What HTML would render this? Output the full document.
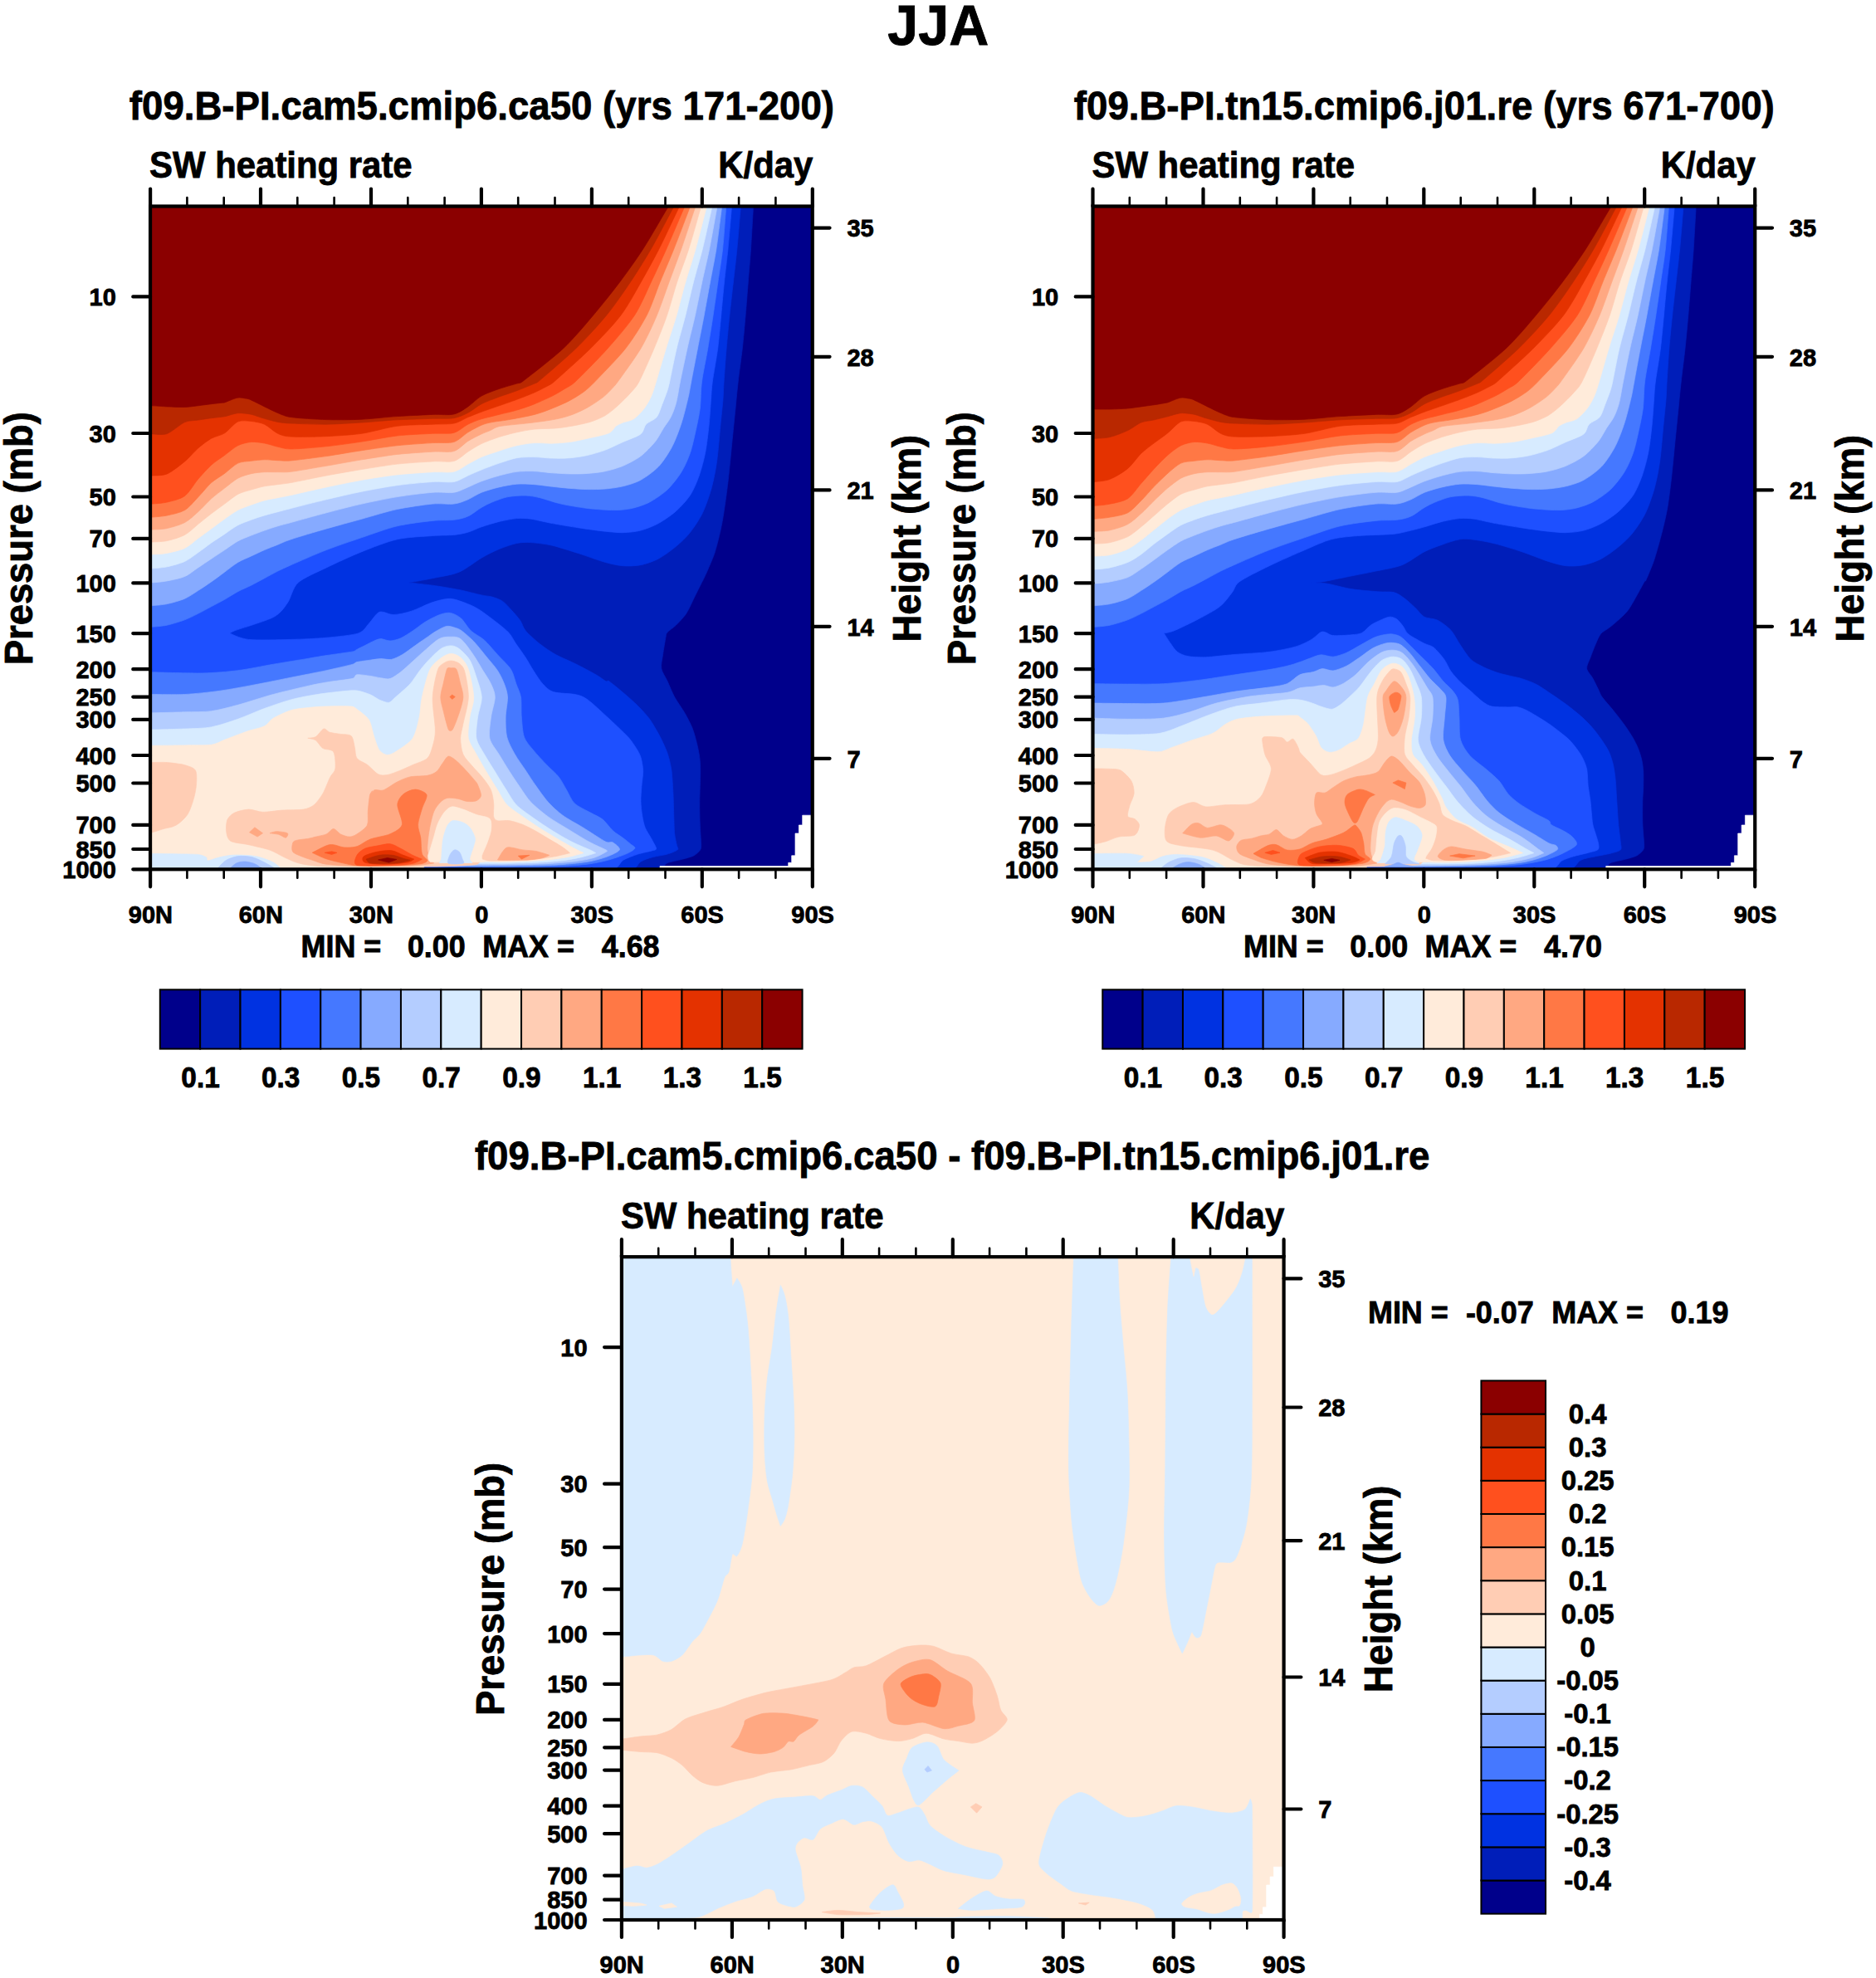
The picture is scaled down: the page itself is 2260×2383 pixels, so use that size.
<!DOCTYPE html>
<html><head><meta charset="utf-8"><title>JJA SW heating rate</title>
<style>html,body{margin:0;padding:0;background:#fff}svg{display:block}</style></head>
<body><svg width="2260" height="2383" viewBox="0 0 2260 2383">
<rect width="2260" height="2383" fill="#fff"/>
<clipPath id="c1"><rect x="181.05" y="248.5" width="797.7" height="798.8"/></clipPath>
<g clip-path="url(#c1)">
<path d="M176.0 243.0 L983.0 243.0 L983.0 1051.0 L176.0 1051.0Z" fill="#00008B" stroke="#00008B" stroke-width="0.7" stroke-linejoin="round"/>
<path d="M176.0 243.0 L907.9 243.0 C907.9 243.0 907.4 250.2 907.1 256.0 C906.6 264.1 905.3 288.1 904.5 300.0 C903.7 311.9 902.2 328.7 901.3 340.0 C900.4 351.3 899.1 368.7 898.1 380.0 C897.1 391.3 895.6 408.7 894.3 420.0 C893.0 431.3 890.3 449.8 889.2 460.0 C888.0 470.2 887.0 481.4 886.0 492.0 C884.9 502.6 882.9 522.5 881.7 534.6 C880.5 546.7 878.6 566.7 877.4 577.3 C876.2 587.8 874.4 601.1 873.2 609.3 C872.0 617.4 870.6 627.0 868.9 634.8 C867.3 642.7 863.7 657.4 861.4 664.7 C859.2 671.9 855.0 681.0 852.9 686.0 C850.8 691.0 847.5 697.9 846.5 699.9 C846.5 700.0 846.4 699.9 846.3 700.0 C845.1 702.5 840.3 712.2 837.5 717.7 C834.7 723.2 830.1 733.9 826.9 738.9 C823.6 743.9 817.7 749.8 814.5 753.1 C811.2 756.3 805.6 759.9 803.9 761.9 C802.2 763.8 802.6 764.8 802.1 767.2 C801.4 771.0 799.3 783.1 798.6 788.5 C797.8 793.9 796.0 800.8 796.8 805.3 C797.5 809.8 801.6 815.4 803.9 820.3 C806.1 825.2 809.7 834.3 812.7 839.8 C815.7 845.3 822.1 854.0 825.1 859.3 C828.1 864.5 831.9 871.9 834.0 877.0 C836.0 882.0 838.0 889.6 839.3 894.7 C840.5 899.7 842.2 907.3 842.8 912.4 C843.4 917.4 843.7 922.5 843.7 930.0 C843.7 937.6 842.9 956.7 842.8 965.4 C842.7 974.2 842.9 984.7 843.2 992.0 C843.4 999.3 844.5 1012.2 844.6 1016.8 C844.6 1020.0 844.9 1021.8 843.7 1023.8 C842.4 1025.8 838.9 1029.3 835.7 1030.9 C832.6 1032.5 826.1 1034.1 821.6 1035.3 C817.1 1036.6 807.6 1038.1 803.9 1039.8 C800.1 1041.4 800.1 1046.8 795.0 1046.8 C706.1 1048.4 176.0 1051.0 176.0 1051.0 L176.0 243.0Z" fill="#001EB9" stroke="#001EB9" stroke-width="0.7" stroke-linejoin="round"/>
<path d="M176.0 243.0 L892.8 243.0 C892.8 243.0 892.2 250.2 891.7 256.0 C891.0 264.1 889.1 288.1 887.9 300.0 C886.7 311.9 884.7 328.7 883.4 340.0 C882.1 351.3 880.1 368.7 878.9 380.0 C877.7 391.3 876.1 408.7 875.1 420.0 C874.1 431.3 872.7 451.3 872.1 460.0 C871.5 468.7 871.6 473.8 871.0 481.3 C870.4 488.9 868.9 502.7 867.8 513.3 C866.8 523.9 865.1 545.4 863.6 555.9 C862.1 566.5 859.6 579.2 857.2 587.9 C854.8 596.7 850.1 610.2 846.5 617.8 C842.9 625.3 836.1 635.5 831.6 641.2 C827.1 647.0 820.0 653.8 814.5 658.3 C809.1 662.8 799.3 670.0 793.2 673.2 C787.2 676.4 777.9 679.5 771.9 680.7 C765.9 681.9 756.6 682.2 750.6 681.7 C744.5 681.3 736.8 679.6 729.3 677.5 C721.7 675.4 706.3 669.7 697.3 666.8 C688.2 664.0 673.4 659.1 665.3 657.2 C657.1 655.4 645.7 654.0 639.7 653.6 C633.7 653.2 628.1 653.3 622.6 654.5 C617.2 655.6 607.4 659.0 601.3 661.5 C595.3 664.0 586.8 668.2 580.0 672.2 C573.2 676.1 561.5 685.7 553.1 689.2 C544.8 692.7 529.8 694.9 521.2 696.7 C512.5 698.5 492.4 702.0 492.4 702.0 C492.4 702.0 512.5 704.0 521.2 705.2 C529.8 706.4 544.8 708.9 553.1 710.5 C561.5 712.2 574.4 715.7 580.0 716.9 C585.6 718.1 589.2 718.0 592.8 719.1 C596.4 720.1 602.3 722.1 605.6 724.4 C608.9 726.7 613.2 731.7 616.2 735.1 C619.3 738.4 624.5 744.3 626.9 747.8 C629.3 751.4 629.9 756.0 633.3 760.0 C636.7 764.0 645.5 771.9 650.7 776.0 C655.9 780.1 663.8 785.4 669.9 788.8 C676.0 792.2 687.1 796.6 693.9 800.0 C700.7 803.4 712.7 809.8 717.9 812.8 C723.0 815.7 727.9 819.7 730.0 820.8 C731.3 821.4 731.9 819.6 733.1 820.3 C736.0 822.3 745.8 830.2 750.8 834.5 C755.8 838.8 764.0 845.9 768.5 850.4 C773.0 854.9 779.1 861.6 782.6 866.3 C786.1 871.1 790.7 879.5 793.3 884.0 C795.8 888.6 798.6 894.2 800.3 898.2 C802.1 902.2 804.4 907.8 805.6 912.4 C806.9 916.9 808.4 923.8 809.2 930.0 C809.9 936.3 810.6 949.1 811.0 956.6 C811.3 964.1 811.6 976.4 811.8 983.1 C812.1 989.9 812.2 999.4 812.7 1004.4 C813.2 1009.4 814.9 1015.8 815.4 1018.5 C815.8 1020.9 817.9 1022.3 816.3 1023.8 C814.6 1025.3 808.1 1027.9 803.9 1029.1 C799.6 1030.4 790.7 1031.4 786.2 1032.7 C781.7 1033.9 775.5 1036.0 772.0 1038.0 C768.5 1040.0 767.6 1046.7 761.4 1046.8 C677.0 1048.7 176.0 1051.0 176.0 1051.0 L176.0 243.0Z" fill="#0032E1" stroke="#0032E1" stroke-width="0.7" stroke-linejoin="round"/>
<path d="M176.0 243.0 L882.1 243.0 C882.1 243.0 881.4 250.2 880.9 256.0 C880.2 264.1 878.2 288.1 877.0 300.0 C875.8 311.9 873.7 328.7 872.5 340.0 C871.3 351.3 869.8 368.7 868.7 380.0 C867.6 391.3 866.2 408.7 864.7 420.0 C863.2 431.3 859.4 451.3 858.3 460.0 C857.1 468.7 857.1 473.8 856.5 481.3 C855.9 488.9 855.0 504.2 854.0 513.3 C853.0 522.4 851.4 536.8 849.7 545.3 C848.1 553.7 844.8 565.8 842.3 573.0 C839.7 580.3 835.5 590.4 831.6 596.5 C827.7 602.5 820.0 610.8 814.5 615.7 C809.1 620.5 799.3 627.3 793.2 630.6 C787.2 633.9 777.9 637.5 771.9 639.1 C765.9 640.7 756.6 641.5 750.6 641.7 C744.5 641.8 736.8 641.0 729.3 640.2 C721.7 639.4 706.3 637.3 697.3 635.9 C688.2 634.5 673.4 632.1 665.3 630.6 C657.1 629.1 645.7 626.1 639.7 625.2 C633.7 624.4 628.1 624.2 622.6 624.6 C617.2 625.1 607.4 627.0 601.3 628.4 C595.3 629.9 585.3 633.0 580.0 634.8 C574.7 636.7 568.5 639.9 563.8 641.2 C559.1 642.6 552.8 643.8 546.7 644.4 C540.7 645.0 530.8 644.7 521.2 645.5 C511.5 646.3 490.6 647.0 478.5 649.8 C466.4 652.5 447.9 659.9 435.9 664.7 C423.8 669.5 404.1 678.6 393.2 683.9 C382.3 689.2 365.7 696.0 359.1 702.0 C352.5 708.0 350.5 720.6 346.3 726.5 C342.1 732.4 338.3 738.8 329.3 743.6 C320.2 748.3 289.7 757.3 282.3 760.0 C279.8 760.9 277.0 762.9 277.0 762.9 C277.0 762.9 289.0 769.3 299.4 770.4 C309.8 771.4 337.3 770.7 350.6 770.4 C363.9 770.1 381.7 769.3 393.2 768.2 C404.7 767.2 424.3 765.3 431.6 762.9 C438.8 760.5 440.8 754.8 444.4 751.2 C448.0 747.5 453.0 738.8 457.2 737.3 C461.4 735.8 468.8 740.7 474.2 740.5 C479.7 740.4 488.9 738.4 495.6 736.2 C502.2 734.1 514.5 727.7 521.2 725.6 C527.8 723.5 536.4 721.0 542.5 721.3 C548.5 721.6 558.5 725.6 563.8 727.7 C569.1 729.8 573.4 731.7 580.0 736.2 C586.6 740.8 604.8 754.4 610.7 760.0 C616.7 765.6 618.7 771.5 621.9 776.0 C625.1 780.5 630.2 787.5 633.1 792.0 C636.0 796.5 639.8 803.4 642.7 808.0 C645.6 812.5 650.5 820.3 653.9 824.0 C657.3 827.6 661.0 831.8 666.7 833.6 C672.4 835.4 688.0 835.4 693.9 836.8 C699.8 838.1 703.1 839.5 708.3 843.2 C713.4 846.8 725.0 857.8 730.0 862.4 C735.0 866.9 739.8 871.4 743.7 875.2 C747.7 879.0 754.6 885.6 757.9 889.3 C761.1 893.1 764.7 898.5 766.7 901.7 C768.7 905.0 770.9 908.6 772.0 912.4 C773.1 916.1 774.5 923.3 774.7 928.3 C774.8 933.3 773.3 942.5 772.9 947.7 C772.5 953.0 771.9 960.4 772.0 965.4 C772.1 970.5 773.0 978.6 773.8 983.1 C774.5 987.6 775.8 993.5 777.3 997.3 C778.8 1001.1 782.5 1006.2 784.4 1009.7 C786.3 1013.2 790.3 1019.9 790.6 1022.1 C790.9 1024.2 788.4 1024.0 786.2 1024.7 C783.0 1025.7 773.5 1027.5 768.5 1029.1 C763.5 1030.8 755.0 1033.7 750.8 1036.2 C746.5 1038.7 745.7 1046.7 738.4 1046.8 C657.0 1048.9 176.0 1051.0 176.0 1051.0 L176.0 243.0Z" fill="#1E50FF" stroke="#1E50FF" stroke-width="0.7" stroke-linejoin="round"/>
<path d="M176.0 243.0 L176.0 755.3 C176.0 755.3 180.0 755.6 183.2 755.3 C186.8 755.0 195.7 754.4 201.3 753.2 C206.9 752.0 217.4 748.7 222.6 746.8 C227.9 744.8 234.1 741.6 238.6 739.3 C243.2 737.1 250.1 733.2 254.6 730.8 C259.2 728.4 266.1 724.8 270.6 722.3 C275.1 719.7 282.1 715.1 286.6 712.7 C291.1 710.2 298.1 707.5 302.6 705.2 C307.1 702.9 314.1 699.1 318.6 696.7 C323.1 694.3 330.1 690.4 334.6 688.1 C339.1 685.9 343.3 683.9 350.6 680.7 C358.9 677.1 381.1 667.2 393.2 662.6 C405.3 657.9 423.8 651.7 435.9 647.6 C447.9 643.6 466.4 636.6 478.5 633.8 C490.6 630.9 511.5 628.4 521.2 627.4 C530.8 626.3 540.7 627.1 546.7 626.3 C552.8 625.6 559.1 624.2 563.8 622.0 C568.5 619.9 575.9 613.8 580.0 611.4 C584.1 609.0 588.3 606.8 592.8 605.0 C597.3 603.2 606.2 599.7 612.0 598.6 C617.7 597.5 627.9 596.9 633.3 597.1 C638.7 597.3 644.3 598.2 650.4 599.7 C656.4 601.1 667.8 605.3 675.9 607.1 C684.1 608.9 698.9 611.4 707.9 612.5 C717.0 613.5 732.4 614.6 739.9 614.6 C747.5 614.6 755.2 613.8 761.2 612.5 C767.3 611.1 776.5 608.2 782.6 605.0 C788.6 601.8 798.4 595.2 803.9 590.1 C809.3 584.9 817.0 575.1 820.9 568.7 C824.9 562.4 829.2 552.2 831.6 545.3 C834.0 538.3 836.3 527.3 838.0 519.7 C839.7 512.1 842.3 500.4 843.3 492.0 C844.4 483.5 844.1 470.2 845.5 460.0 C846.8 449.8 850.8 431.3 852.7 420.0 C854.6 408.7 857.4 391.3 859.1 380.0 C860.8 368.7 863.3 351.3 864.9 340.0 C866.5 328.7 869.3 311.9 870.6 300.0 C871.9 288.1 873.5 264.1 874.2 256.0 C874.7 250.2 875.3 243.0 875.3 243.0 L176.0 243.0Z" fill="#4578FF" stroke="#4578FF" stroke-width="0.7" stroke-linejoin="round"/>
<path d="M176.0 243.0 L176.0 729.7 C176.0 729.7 180.0 730.0 183.2 729.7 C186.8 729.4 195.7 728.8 201.3 727.6 C206.9 726.4 217.4 723.5 222.6 721.2 C227.9 718.9 234.1 714.5 238.6 711.6 C243.2 708.7 250.1 704.1 254.6 700.9 C259.2 697.8 266.1 692.5 270.6 689.2 C275.1 685.9 282.1 680.2 286.6 677.5 C291.1 674.8 298.1 672.1 302.6 670.0 C307.1 667.9 314.1 664.5 318.6 662.6 C323.1 660.6 330.1 658.0 334.6 656.2 C339.1 654.3 343.2 652.2 350.6 649.8 C358.9 647.0 381.1 640.4 393.2 637.0 C405.3 633.5 423.8 628.6 435.9 625.2 C447.9 621.9 466.4 616.1 478.5 613.5 C490.6 611.0 511.5 608.0 521.2 607.1 C530.8 606.2 540.7 607.9 546.7 607.1 C552.8 606.4 559.1 603.8 563.8 601.8 C568.5 599.8 574.7 595.4 580.0 593.3 C585.3 591.1 595.3 588.3 601.3 586.9 C607.4 585.4 616.6 583.7 622.6 583.2 C628.7 582.8 637.9 583.2 644.0 583.7 C650.0 584.1 659.2 585.6 665.3 586.2 C671.3 586.9 680.6 587.9 686.6 588.4 C692.7 588.8 701.9 589.5 707.9 589.6 C714.0 589.7 723.2 589.5 729.3 589.0 C735.3 588.5 744.5 587.3 750.6 585.8 C756.6 584.3 765.9 581.7 771.9 578.3 C777.9 575.0 788.1 567.6 793.2 562.3 C798.4 557.1 804.8 546.8 808.1 541.0 C811.5 535.3 814.6 527.3 816.7 521.8 C818.8 516.4 821.3 509.0 823.1 502.6 C824.9 496.3 828.1 483.1 829.5 477.1 C830.8 471.0 831.2 467.7 832.7 460.0 C834.2 451.9 838.2 431.3 840.4 420.0 C842.6 408.7 846.1 391.3 848.2 380.0 C850.3 368.7 853.4 351.3 855.5 340.0 C857.6 328.7 861.0 311.9 862.9 300.0 C864.8 288.1 867.6 264.1 868.7 256.0 C869.5 250.2 870.4 243.0 870.4 243.0 L176.0 243.0Z" fill="#86AAFF" stroke="#86AAFF" stroke-width="0.7" stroke-linejoin="round"/>
<path d="M176.0 243.0 L176.0 702.0 C176.0 702.0 180.0 702.3 183.2 702.0 C186.8 701.7 195.7 700.9 201.3 699.9 C206.9 698.8 217.4 696.8 222.6 694.5 C227.9 692.3 234.1 686.9 238.6 683.9 C243.2 680.9 250.1 676.2 254.6 673.2 C259.2 670.2 266.1 665.6 270.6 662.6 C275.1 659.5 282.1 654.4 286.6 651.9 C291.1 649.4 298.1 646.9 302.6 645.1 C307.1 643.3 314.1 640.7 318.6 639.1 C323.1 637.5 330.1 635.1 334.6 633.8 C339.1 632.4 343.4 631.5 350.6 629.5 C358.9 627.2 381.1 621.0 393.2 617.8 C405.3 614.6 423.8 609.8 435.9 607.1 C447.9 604.4 466.4 600.6 478.5 598.6 C490.6 596.6 511.5 594.0 521.2 593.3 C530.8 592.5 540.7 594.2 546.7 593.3 C552.8 592.4 559.1 588.8 563.8 586.9 C568.5 585.0 574.7 581.8 580.0 579.8 C585.3 577.9 595.3 574.6 601.3 573.0 C607.4 571.4 616.6 569.1 622.6 568.3 C628.7 567.6 637.9 567.5 644.0 567.7 C650.0 567.9 659.2 569.4 665.3 569.8 C671.3 570.3 680.6 570.8 686.6 570.9 C692.7 571.0 701.9 570.9 707.9 570.4 C714.0 570.0 723.2 569.0 729.3 567.7 C735.3 566.4 744.5 563.8 750.6 561.3 C756.6 558.7 766.5 553.6 771.9 549.6 C777.3 545.5 785.0 537.3 789.0 532.5 C792.9 527.7 796.9 519.7 799.6 515.4 C802.3 511.2 806.0 506.9 808.1 502.6 C810.3 498.4 812.9 491.6 814.5 485.6 C816.1 479.5 817.6 469.3 819.4 460.0 C821.3 450.7 825.4 431.3 827.9 420.0 C830.4 408.7 834.9 391.3 837.4 380.0 C839.9 368.7 843.3 351.3 845.7 340.0 C848.1 328.7 852.2 311.9 854.6 300.0 C857.0 288.1 861.2 264.1 862.7 256.0 C863.8 250.2 865.1 243.0 865.1 243.0 L176.0 243.0Z" fill="#B4CDFF" stroke="#B4CDFF" stroke-width="0.7" stroke-linejoin="round"/>
<path d="M176.0 243.0 L176.0 684.9 C176.0 684.9 180.0 685.2 183.2 684.9 C186.8 684.6 195.7 684.0 201.3 682.8 C206.9 681.6 217.4 678.8 222.6 676.4 C227.9 674.0 234.1 668.9 238.6 665.8 C243.2 662.6 250.1 657.2 254.6 654.0 C259.2 650.9 266.1 646.4 270.6 643.4 C275.1 640.3 282.1 635.1 286.6 632.7 C291.1 630.3 298.1 628.0 302.6 626.3 C307.1 624.6 314.1 622.3 318.6 621.0 C323.1 619.6 330.1 617.9 334.6 616.7 C339.1 615.5 343.4 614.3 350.6 612.5 C358.9 610.3 381.1 604.7 393.2 601.8 C405.3 598.9 423.8 594.6 435.9 592.2 C447.9 589.8 466.4 586.4 478.5 584.7 C490.6 583.1 511.5 581.1 521.2 580.5 C530.8 579.9 540.7 581.5 546.7 580.5 C552.8 579.4 559.1 575.1 563.8 573.0 C568.5 571.0 574.7 568.1 580.0 566.0 C585.3 563.9 595.3 560.1 601.3 558.1 C607.4 556.1 616.6 552.7 622.6 551.7 C628.7 550.6 637.9 550.6 644.0 550.6 C650.0 550.7 659.2 552.0 665.3 552.1 C671.3 552.3 680.6 552.2 686.6 551.7 C692.7 551.2 701.9 549.8 707.9 548.5 C714.0 547.1 723.2 544.4 729.3 542.1 C735.3 539.8 744.5 535.2 750.6 532.5 C756.6 529.8 768.0 525.9 771.9 522.9 C775.8 519.9 775.6 514.0 778.3 511.2 C781.0 508.3 788.4 506.0 791.1 502.6 C793.8 499.3 795.7 492.2 797.5 487.7 C799.3 483.2 802.6 474.6 803.9 470.7 C805.2 466.7 805.6 464.8 806.7 460.0 C808.2 452.8 812.4 431.3 815.1 420.0 C817.8 408.7 822.9 391.3 825.8 380.0 C828.7 368.7 832.5 351.3 835.4 340.0 C838.3 328.7 843.3 311.9 846.3 300.0 C849.3 288.1 854.5 264.1 856.3 256.0 C857.6 250.2 859.3 243.0 859.3 243.0 L176.0 243.0Z" fill="#D7EBFF" stroke="#D7EBFF" stroke-width="0.7" stroke-linejoin="round"/>
<path d="M176.0 243.0 L176.0 667.9 C176.0 667.9 180.0 668.1 183.2 667.9 C186.8 667.7 195.7 667.5 201.3 666.4 C206.9 665.3 217.4 662.9 222.6 660.4 C227.9 657.9 234.1 652.0 238.6 648.7 C243.2 645.4 250.1 640.3 254.6 637.0 C259.2 633.6 266.1 628.4 270.6 625.2 C275.1 622.1 282.1 617.0 286.6 614.6 C291.1 612.2 298.1 609.8 302.6 608.2 C307.1 606.5 314.1 604.1 318.6 602.9 C323.1 601.6 330.1 600.6 334.6 599.7 C339.1 598.8 343.4 598.0 350.6 596.5 C358.9 594.6 381.1 589.4 393.2 586.9 C405.3 584.3 423.8 580.5 435.9 578.3 C447.9 576.2 466.4 573.3 478.5 571.9 C490.6 570.6 511.5 569.3 521.2 568.7 C530.8 568.2 540.7 569.7 546.7 568.3 C552.8 567.0 559.1 561.7 563.8 559.1 C568.5 556.6 574.7 552.9 580.0 550.6 C585.3 548.4 595.3 545.1 601.3 543.2 C607.4 541.2 616.6 538.1 622.6 536.8 C628.7 535.4 637.9 533.9 644.0 533.6 C650.0 533.2 659.2 534.4 665.3 534.2 C671.3 534.0 680.6 533.3 686.6 532.5 C692.7 531.6 701.3 529.7 707.9 528.2 C714.6 526.7 728.7 523.9 733.5 521.8 C738.4 519.7 739.6 515.1 742.0 513.3 C744.5 511.5 747.6 510.2 750.6 509.0 C753.6 507.8 759.7 507.2 763.4 504.8 C767.0 502.4 773.1 495.9 776.2 492.0 C779.2 488.1 782.7 481.6 784.7 477.1 C786.7 472.5 788.1 467.7 790.4 460.0 C792.9 451.9 798.8 431.3 802.3 420.0 C805.8 408.7 811.7 391.3 815.0 380.0 C818.3 368.7 822.5 351.3 825.8 340.0 C829.1 328.7 834.6 311.9 838.0 300.0 C841.4 288.1 847.4 264.1 849.5 256.0 C851.0 250.2 852.9 243.0 852.9 243.0 L176.0 243.0Z" fill="#FFEBDA" stroke="#FFEBDA" stroke-width="0.7" stroke-linejoin="round"/>
<path d="M176.0 243.0 L176.0 653.0 C176.0 653.0 180.0 653.2 183.2 653.0 C186.8 652.8 195.7 652.7 201.3 651.5 C206.9 650.3 217.4 647.2 222.6 644.4 C227.9 641.6 234.1 635.3 238.6 631.6 C243.2 628.0 250.1 622.3 254.6 618.8 C259.2 615.4 266.1 610.4 270.6 607.1 C275.1 603.8 282.1 597.8 286.6 595.4 C291.1 593.0 298.1 591.4 302.6 590.1 C307.1 588.7 314.1 586.7 318.6 585.8 C323.1 584.9 330.1 584.3 334.6 583.7 C339.1 583.1 343.4 582.8 350.6 581.5 C358.9 580.0 381.1 575.3 393.2 573.0 C405.3 570.7 423.8 567.5 435.9 565.5 C447.9 563.6 466.4 560.5 478.5 559.1 C490.6 557.8 511.5 556.5 521.2 555.9 C530.8 555.4 540.7 557.2 546.7 555.5 C552.8 553.9 559.1 547.2 563.8 544.2 C568.5 541.3 574.7 537.1 580.0 534.6 C585.3 532.1 595.3 528.5 601.3 526.5 C607.4 524.6 616.6 522.1 622.6 520.8 C628.7 519.4 637.3 517.8 644.0 517.1 C650.6 516.4 662.9 516.5 669.6 515.9 C676.2 515.3 684.8 514.0 690.9 512.9 C696.9 511.8 706.8 509.7 712.2 508.0 C717.6 506.2 724.7 503.2 729.3 500.5 C733.8 497.8 740.0 492.6 744.2 488.8 C748.4 485.0 755.5 477.9 759.1 473.9 C762.7 469.8 766.1 466.9 769.8 460.0 C773.8 452.4 783.1 431.3 787.9 420.0 C792.7 408.7 799.6 391.3 803.5 380.0 C807.4 368.7 811.9 351.3 815.6 340.0 C819.3 328.7 825.9 311.9 829.7 300.0 C833.5 288.1 840.2 264.1 842.5 256.0 C844.2 250.2 846.3 243.0 846.3 243.0 L176.0 243.0Z" fill="#FFCDB4" stroke="#FFCDB4" stroke-width="0.7" stroke-linejoin="round"/>
<path d="M176.0 243.0 L176.0 638.0 C176.0 638.0 180.0 638.2 183.2 638.0 C186.8 637.8 195.7 637.8 201.3 636.5 C206.9 635.3 217.4 632.3 222.6 629.5 C227.9 626.7 234.1 620.8 238.6 616.7 C243.2 612.6 250.1 604.8 254.6 600.7 C259.2 596.7 266.1 591.6 270.6 588.1 C275.1 584.7 282.1 578.7 286.6 576.2 C291.1 573.7 298.1 571.7 302.6 570.7 C307.1 569.6 314.1 569.0 318.6 568.7 C323.1 568.5 330.1 568.8 334.6 568.7 C339.1 568.7 343.4 569.2 350.6 568.3 C358.9 567.3 381.1 563.3 393.2 561.3 C405.3 559.2 423.8 555.8 435.9 553.8 C447.9 551.9 466.4 548.8 478.5 547.4 C490.6 546.1 511.5 544.8 521.2 544.2 C530.8 543.7 540.7 545.4 546.7 543.6 C552.8 541.8 559.1 534.4 563.8 531.4 C568.5 528.5 576.2 524.7 580.0 522.9 C583.8 521.1 587.6 519.9 590.7 518.6 C593.7 517.3 596.1 514.8 601.3 513.7 C607.4 512.5 624.2 511.2 633.3 510.1 C642.4 509.0 657.7 507.2 665.3 505.8 C672.8 504.5 680.6 502.6 686.6 500.5 C692.7 498.4 702.2 494.1 707.9 490.9 C713.7 487.7 722.6 481.7 727.1 478.1 C731.7 474.5 737.5 467.9 739.9 465.3 C742.0 463.1 742.4 462.5 744.2 460.0 C748.7 453.6 765.2 431.3 771.9 420.0 C778.6 408.7 786.5 391.3 791.3 380.0 C796.1 368.7 801.8 351.3 806.0 340.0 C810.2 328.7 816.5 311.9 820.7 300.0 C824.9 288.1 832.7 264.1 835.4 256.0 C837.4 250.2 839.7 243.0 839.7 243.0 L176.0 243.0Z" fill="#FFA882" stroke="#FFA882" stroke-width="0.7" stroke-linejoin="round"/>
<path d="M176.0 243.0 L176.0 623.1 C176.0 623.1 180.0 623.4 183.2 623.1 C186.8 622.8 195.7 622.2 201.3 621.0 C206.9 619.8 217.4 617.7 222.6 614.6 C227.9 611.5 234.1 603.7 238.6 599.0 C243.2 594.3 250.1 585.6 254.6 581.5 C259.2 577.5 266.1 573.8 270.6 570.4 C275.1 567.1 282.1 560.2 286.6 558.1 C291.1 555.9 298.1 555.9 302.6 555.3 C307.1 554.7 314.1 553.9 318.6 553.8 C323.1 553.7 330.1 554.5 334.6 554.7 C339.1 554.8 343.4 555.5 350.6 554.9 C358.9 554.2 381.1 551.3 393.2 549.6 C405.3 547.8 423.8 544.5 435.9 542.7 C447.9 540.9 466.4 538.1 478.5 536.8 C490.6 535.5 511.5 534.2 521.2 533.6 C530.8 533.0 540.7 534.3 546.7 532.5 C552.8 530.7 559.1 523.6 563.8 520.8 C568.5 517.9 575.9 514.0 580.0 512.2 C584.1 510.5 588.3 509.5 592.8 508.6 C597.3 507.7 604.7 507.1 612.0 505.8 C619.2 504.5 636.4 501.4 644.0 499.4 C651.5 497.5 659.2 494.4 665.3 492.0 C671.3 489.6 681.2 485.3 686.6 482.4 C692.0 479.5 699.4 474.9 703.7 471.7 C707.9 468.6 711.0 465.6 716.5 460.0 C723.5 452.7 744.6 431.3 753.5 420.0 C762.4 408.7 773.2 391.3 779.1 380.0 C785.0 368.7 790.5 351.3 795.1 340.0 C799.7 328.7 807.0 311.9 811.8 300.0 C816.6 288.1 825.6 264.1 828.7 256.0 C830.9 250.2 833.7 243.0 833.7 243.0 L176.0 243.0Z" fill="#FF7845" stroke="#FF7845" stroke-width="0.7" stroke-linejoin="round"/>
<path d="M176.0 243.0 L176.0 607.1 C176.0 607.1 180.0 607.4 183.2 607.1 C186.8 606.8 195.7 606.3 201.3 605.0 C206.9 603.6 217.4 601.5 222.6 597.5 C227.9 593.6 234.1 582.6 238.6 577.3 C243.2 572.0 250.1 564.3 254.6 560.2 C259.2 556.1 266.1 551.8 270.6 548.5 C275.1 545.2 282.1 539.0 286.6 536.8 C291.1 534.5 298.1 532.9 302.6 532.5 C307.1 532.1 314.1 533.2 318.6 534.0 C323.1 534.8 330.1 537.3 334.6 538.3 C339.1 539.2 343.3 541.1 350.6 541.0 C358.9 541.0 381.1 539.1 393.2 537.8 C405.3 536.6 423.8 533.9 435.9 532.1 C447.9 530.3 466.4 526.4 478.5 525.0 C490.6 523.6 511.5 522.8 521.2 522.3 C530.8 521.7 540.7 523.0 546.7 521.4 C552.8 519.8 559.1 513.5 563.8 511.2 C568.5 508.8 574.7 506.4 580.0 504.8 C585.3 503.1 595.3 501.0 601.3 499.4 C607.4 497.9 616.6 495.9 622.6 494.1 C628.7 492.3 637.9 489.1 644.0 486.7 C650.0 484.2 660.2 479.6 665.3 477.1 C670.4 474.5 676.3 470.9 680.2 468.5 C684.1 466.1 688.0 464.7 693.0 460.0 C700.3 453.1 721.8 431.3 731.9 420.0 C742.0 408.7 757.0 391.3 764.4 380.0 C771.8 368.7 778.9 351.3 784.3 340.0 C789.7 328.7 797.5 311.9 802.8 300.0 C808.1 288.1 818.2 264.1 821.7 256.0 C824.2 250.2 827.3 243.0 827.3 243.0 L176.0 243.0Z" fill="#FF501E" stroke="#FF501E" stroke-width="0.7" stroke-linejoin="round"/>
<path d="M176.0 243.0 L176.0 573.0 C176.0 573.0 180.0 573.3 183.2 573.0 C186.8 572.7 195.7 573.3 201.3 570.9 C206.9 568.5 217.4 560.3 222.6 555.9 C227.9 551.6 234.1 543.9 238.6 540.0 C243.2 536.0 250.1 530.8 254.6 528.2 C259.2 525.7 266.1 524.7 270.6 521.8 C275.1 519.0 282.1 510.0 286.6 508.0 C291.1 506.0 298.1 507.1 302.6 507.5 C307.1 508.0 314.1 509.1 318.6 511.2 C323.1 513.3 330.1 520.1 334.6 522.3 C339.1 524.4 343.2 525.7 350.6 526.1 C358.9 526.6 381.1 526.2 393.2 525.7 C405.3 525.1 423.8 524.0 435.9 522.3 C447.9 520.5 466.4 514.9 478.5 513.3 C490.6 511.7 511.5 511.6 521.2 511.2 C530.8 510.7 540.7 511.3 546.7 510.1 C552.8 508.9 559.1 504.6 563.8 502.6 C568.5 500.7 574.7 498.2 580.0 496.2 C585.3 494.3 595.3 490.9 601.3 488.8 C607.4 486.7 616.6 483.6 622.6 481.3 C628.7 479.1 638.5 475.2 644.0 472.8 C649.4 470.4 657.7 466.1 661.0 464.3 C664.1 462.6 664.8 462.3 667.4 460.0 C674.5 453.7 699.8 431.3 711.2 420.0 C722.6 408.7 739.2 391.3 747.8 380.0 C756.4 368.7 765.6 351.3 772.1 340.0 C778.6 328.7 787.8 311.9 793.9 300.0 C800.0 288.1 811.1 264.1 815.0 256.0 C817.8 250.2 821.2 243.0 821.2 243.0 L176.0 243.0Z" fill="#E43200" stroke="#E43200" stroke-width="0.7" stroke-linejoin="round"/>
<path d="M176.0 243.0 L176.0 522.9 C176.0 522.9 180.0 523.0 183.2 522.9 C186.8 522.8 195.7 524.5 201.3 522.5 C206.9 520.4 217.4 510.9 222.6 508.6 C227.9 506.3 234.1 506.8 238.6 506.1 C243.2 505.4 250.1 504.3 254.6 503.7 C259.2 503.1 266.1 502.6 270.6 501.8 C275.1 500.9 282.1 498.1 286.6 497.7 C291.1 497.4 298.1 498.3 302.6 499.2 C307.1 500.2 314.1 503.1 318.6 504.3 C323.1 505.6 330.1 507.6 334.6 508.4 C339.1 509.2 343.3 509.8 350.6 510.1 C358.9 510.5 381.1 511.3 393.2 511.2 C405.3 511.0 423.8 509.8 435.9 509.0 C447.9 508.3 466.4 506.5 478.5 505.8 C490.6 505.2 511.5 504.7 521.2 504.3 C530.8 504.0 540.7 504.7 546.7 503.7 C552.8 502.7 559.1 499.7 563.8 497.3 C568.5 494.9 574.7 489.4 580.0 486.7 C585.3 483.9 595.3 480.4 601.3 478.1 C607.4 475.9 616.6 472.9 622.6 470.7 C628.7 468.4 640.3 463.6 644.0 462.1 C645.9 461.3 646.6 461.4 648.2 460.0 C655.3 454.0 681.9 431.3 693.6 420.0 C705.3 408.7 721.2 391.3 730.5 380.0 C739.8 368.7 751.7 351.3 759.3 340.0 C766.9 328.7 777.4 311.9 784.3 300.0 C791.2 288.1 803.6 264.1 807.9 256.0 C811.0 250.2 814.9 243.0 814.9 243.0 L176.0 243.0Z" fill="#B92800" stroke="#B92800" stroke-width="0.7" stroke-linejoin="round"/>
<path d="M176.0 243.0 L176.0 488.8 C176.0 488.8 180.0 488.6 183.2 488.8 C186.8 488.9 195.7 489.6 201.3 489.9 C206.9 490.1 217.4 490.6 222.6 490.5 C227.9 490.3 234.1 489.3 238.6 488.8 C243.2 488.2 250.1 487.2 254.6 486.7 C259.2 486.1 268.2 485.2 270.6 484.9 C271.1 484.9 271.2 484.7 271.7 484.5 C273.3 483.9 280.2 481.0 282.3 480.3 C284.2 479.6 285.4 479.3 286.6 479.2 C287.8 479.0 289.1 479.0 290.9 479.2 C292.7 479.4 297.7 480.3 299.4 480.7 C300.9 481.0 301.2 481.3 302.6 482.0 C304.4 482.8 309.9 485.5 312.2 486.7 C314.5 487.8 315.7 488.4 318.6 489.9 C321.8 491.4 330.1 495.7 334.6 497.5 C339.1 499.3 343.1 501.6 350.6 502.6 C358.9 503.8 381.1 505.3 393.2 505.6 C405.3 506.0 423.8 505.8 435.9 505.2 C447.9 504.6 466.4 502.4 478.5 501.6 C490.6 500.8 511.5 499.8 521.2 499.4 C530.8 499.1 540.7 500.4 546.7 499.0 C552.8 497.7 559.1 493.0 563.8 489.9 C568.5 486.7 574.7 480.1 580.0 477.1 C585.3 474.0 595.3 470.6 601.3 468.5 C607.4 466.4 618.7 463.3 622.6 462.1 C625.5 461.2 626.6 461.8 629.0 460.0 C636.9 454.0 666.3 431.3 678.4 420.0 C690.5 408.7 704.9 391.3 714.5 380.0 C724.1 368.7 738.0 351.3 746.5 340.0 C755.0 328.7 767.0 311.9 774.7 300.0 C782.4 288.1 796.1 264.1 800.9 256.0 C804.4 250.2 808.6 243.0 808.6 243.0 L176.0 243.0Z" fill="#8B0000" stroke="#8B0000" stroke-width="0.7" stroke-linejoin="round"/>
<path d="M176.0 809.8 C176.0 809.8 180.0 809.8 183.2 809.8 C192.8 810.0 229.3 811.2 244.0 810.9 C258.6 810.6 274.5 809.2 286.6 807.7 C298.7 806.2 317.2 802.3 329.3 800.2 C341.3 798.2 362.8 794.7 371.9 793.2 C381.0 791.7 385.7 790.7 393.2 789.6 C400.8 788.4 420.0 785.9 425.2 784.9 C427.6 784.4 428.0 783.4 430.0 782.4 C432.0 781.4 436.7 779.1 439.6 777.6 C442.5 776.1 448.1 773.1 450.8 772.0 C453.5 770.9 456.1 769.6 458.8 769.6 C461.5 769.6 466.6 772.1 470.0 772.0 C473.4 771.9 478.9 770.5 482.8 768.8 C486.6 767.1 492.9 762.8 497.2 760.0 C501.4 757.2 508.0 751.8 512.6 749.0 C517.2 746.3 525.5 742.0 529.7 740.5 C533.9 739.0 538.8 737.8 542.5 738.4 C546.1 739.0 551.7 741.7 555.3 744.8 C558.8 747.8 563.5 756.3 567.5 760.0 C571.5 763.7 579.0 767.1 583.5 771.2 C588.1 775.3 595.0 783.8 599.5 788.8 C604.0 793.8 612.3 801.4 615.5 806.4 C618.7 811.4 620.2 819.2 621.9 824.0 C623.6 828.7 626.6 834.3 627.5 840.0 C628.4 845.6 627.7 857.2 628.3 864.0 C628.9 870.7 629.5 882.3 631.5 887.9 C633.5 893.6 638.8 899.2 642.7 903.9 C646.5 908.7 654.4 917.0 658.7 921.5 C663.0 926.1 669.7 931.6 673.1 935.9 C676.5 940.2 680.0 947.4 682.7 951.9 C685.4 956.4 688.2 964.0 692.3 967.9 C696.4 971.8 706.7 976.4 711.5 979.1 C716.2 981.8 722.0 984.0 725.9 987.1 C729.7 990.2 734.9 997.6 738.4 1000.8 C741.9 1004.0 747.8 1007.4 750.8 1009.7 C753.8 1011.9 757.6 1015.0 759.6 1016.8 C761.6 1018.5 765.8 1020.3 764.9 1022.1 C764.1 1023.8 758.5 1027.0 753.7 1029.1 C748.9 1031.2 737.6 1034.9 731.3 1036.6 C725.0 1038.3 716.4 1040.0 709.0 1041.0 C701.6 1042.0 687.6 1043.1 679.1 1043.6 C670.6 1044.1 660.5 1044.3 649.3 1044.5 C638.1 1044.7 619.5 1044.9 600.0 1045.0 C580.5 1045.1 524.5 1044.2 512.0 1045.0 C509.3 1045.2 512.0 1051.0 512.0 1051.0 L176.0 1051.0 L176.0 809.8Z" fill="#4578FF" stroke="#4578FF" stroke-width="0.7" stroke-linejoin="round"/>
<path d="M176.0 836.5 C176.0 836.5 180.0 836.5 183.2 836.5 C189.8 836.5 211.0 837.1 222.6 836.5 C234.3 835.9 253.2 833.9 265.3 832.2 C277.4 830.5 295.8 827.0 307.9 824.7 C320.0 822.5 338.5 818.6 350.6 816.2 C362.7 813.8 382.6 809.9 393.2 807.7 C403.8 805.4 420.0 801.6 425.2 800.2 C427.6 799.6 427.6 798.2 430.0 797.6 C432.9 796.9 441.9 795.7 446.0 795.2 C450.1 794.6 455.2 793.7 458.8 793.6 C462.4 793.5 468.0 795.1 471.6 794.4 C475.2 793.7 480.3 791.2 484.4 788.8 C488.5 786.4 495.8 780.8 500.4 777.6 C504.9 774.4 512.7 768.9 516.4 766.4 C520.0 763.9 522.9 761.7 526.0 760.0 C529.0 758.3 535.0 754.9 538.2 754.4 C541.5 753.9 546.3 755.7 548.9 756.5 C551.4 757.3 553.4 757.8 556.3 760.0 C559.4 762.3 566.4 768.3 570.7 772.8 C575.0 777.3 582.6 787.0 586.7 792.0 C590.8 797.0 596.6 803.4 599.5 808.0 C602.5 812.5 605.8 819.4 607.5 824.0 C609.2 828.5 611.3 834.3 611.5 840.0 C611.7 845.6 609.2 857.2 609.1 864.0 C609.0 870.7 609.1 881.6 610.7 887.9 C612.3 894.3 617.1 903.1 620.3 908.7 C623.5 914.4 629.5 922.5 633.1 927.9 C636.7 933.4 642.0 941.7 645.9 947.1 C649.7 952.5 655.8 961.3 660.3 966.3 C664.8 971.3 672.0 978.0 677.9 982.3 C683.8 986.6 694.5 992.2 701.9 996.7 C709.3 1001.2 724.8 1011.7 730.0 1014.3 C733.4 1016.0 736.1 1013.6 738.4 1015.0 C740.7 1016.3 747.4 1021.4 746.4 1023.8 C745.4 1026.3 736.6 1030.1 731.3 1032.1 C726.0 1034.1 716.4 1036.8 709.0 1038.1 C701.6 1039.4 687.6 1040.8 679.1 1041.5 C670.6 1042.2 662.0 1042.5 649.3 1042.8 C636.6 1043.1 604.0 1043.3 589.6 1043.4 C575.2 1043.5 559.0 1043.6 548.0 1043.6 C537.0 1043.6 517.1 1042.6 512.0 1043.6 C508.7 1044.3 512.0 1051.0 512.0 1051.0 L176.0 1051.0 L176.0 836.5Z" fill="#86AAFF" stroke="#86AAFF" stroke-width="0.7" stroke-linejoin="round"/>
<path d="M176.0 858.8 C176.0 858.8 180.0 858.9 183.2 858.8 C189.8 858.7 212.5 858.1 222.6 857.8 C232.8 857.5 245.6 857.9 254.6 856.7 C263.7 855.5 276.0 852.1 286.6 849.3 C297.2 846.4 317.2 839.7 329.3 836.5 C341.3 833.2 362.8 828.3 371.9 826.2 C381.0 824.2 385.7 823.2 393.2 822.0 C400.8 820.7 420.0 818.6 425.2 817.3 C428.1 816.6 427.1 813.2 430.0 812.8 C432.9 812.4 441.9 813.8 446.0 814.4 C450.1 814.9 455.4 816.3 458.8 816.8 C462.2 817.2 466.6 818.6 470.0 817.6 C473.4 816.6 478.9 812.5 482.8 809.6 C486.6 806.6 492.9 800.6 497.2 796.8 C501.5 792.9 508.6 786.2 513.2 782.4 C517.7 778.5 525.1 771.7 529.2 769.6 C533.2 767.4 538.3 767.2 541.9 767.2 C545.6 767.2 550.9 766.8 554.7 769.6 C558.6 772.4 565.3 781.7 569.1 787.2 C573.0 792.6 578.8 802.8 581.9 808.0 C585.1 813.2 589.5 819.4 591.5 824.0 C593.6 828.5 596.3 834.3 596.3 840.0 C596.3 845.6 592.4 856.9 591.5 864.0 C590.6 871.0 588.6 883.2 589.9 889.5 C591.3 895.9 597.7 903.1 601.1 908.7 C604.5 914.4 610.3 923.9 613.9 929.5 C617.5 935.2 623.1 943.5 626.7 948.7 C630.3 953.9 634.7 961.3 639.5 966.3 C644.3 971.3 653.7 979.1 660.3 983.9 C666.9 988.7 678.9 995.6 685.9 999.9 C692.9 1004.2 703.6 1010.9 709.9 1014.3 C716.1 1017.7 727.0 1022.3 730.0 1023.9 C730.9 1024.3 732.1 1025.1 731.3 1025.6 C729.4 1026.9 721.7 1031.4 716.4 1033.1 C711.1 1034.8 701.4 1036.6 694.0 1037.6 C686.6 1038.6 672.7 1039.7 664.2 1040.3 C655.7 1040.9 644.9 1041.2 634.3 1041.5 C623.7 1041.8 601.8 1042.0 589.6 1042.1 C577.4 1042.2 559.0 1042.3 548.0 1042.3 C537.0 1042.3 517.1 1041.1 512.0 1042.3 C508.2 1043.2 512.0 1051.0 512.0 1051.0 L176.0 1051.0 L176.0 858.8Z" fill="#B4CDFF" stroke="#B4CDFF" stroke-width="0.7" stroke-linejoin="round"/>
<path d="M176.0 879.1 C176.0 879.1 180.0 879.2 183.2 879.1 C189.8 879.0 212.5 878.5 222.6 878.0 C232.8 877.6 245.6 877.6 254.6 875.9 C263.7 874.2 277.5 869.5 286.6 866.3 C295.7 863.1 309.5 856.8 318.6 853.5 C327.7 850.2 341.5 845.3 350.6 842.9 C359.6 840.4 373.5 837.9 382.6 836.5 C391.6 835.0 407.8 833.3 414.5 832.6 C421.3 832.0 425.5 831.4 430.0 832.0 C434.5 832.6 442.1 835.2 446.0 836.8 C449.8 838.3 454.0 841.8 457.2 843.2 C460.4 844.5 465.7 846.8 468.4 846.4 C471.1 845.9 472.9 843.0 476.4 840.0 C480.0 836.8 489.7 828.7 494.0 824.0 C498.3 819.2 503.1 810.9 506.8 806.4 C510.4 801.8 515.9 795.6 519.6 792.0 C523.2 788.4 529.0 782.8 532.4 780.8 C535.7 778.8 540.6 777.8 543.5 777.9 C546.5 778.0 550.0 779.1 553.1 781.6 C556.3 784.0 563.0 790.3 565.9 795.2 C568.9 800.1 571.9 809.6 573.9 816.0 C576.0 822.3 580.1 833.2 580.3 840.0 C580.6 846.8 576.4 856.9 575.5 864.0 C574.6 871.0 572.8 883.2 573.9 889.5 C575.1 895.9 580.4 903.1 583.5 908.7 C586.7 914.4 592.7 923.6 596.3 929.5 C599.9 935.4 605.5 944.6 609.1 950.3 C612.7 956.0 617.2 964.5 621.9 969.5 C626.7 974.5 636.4 981.0 642.7 985.5 C649.0 990.0 660.1 997.4 666.7 1001.5 C673.3 1005.6 682.7 1011.1 689.1 1014.3 C695.4 1017.5 707.4 1022.3 711.5 1024.2 C714.4 1025.6 717.9 1027.6 717.9 1027.6 C717.9 1027.6 707.0 1031.2 701.5 1032.5 C696.0 1033.8 686.5 1035.7 679.1 1036.6 C671.7 1037.5 657.8 1038.6 649.3 1039.1 C640.8 1039.6 627.9 1039.8 619.4 1040.0 C610.9 1040.2 599.7 1040.3 589.6 1040.3 C579.5 1040.3 559.0 1040.3 548.0 1040.3 C537.0 1040.3 517.1 1038.8 512.0 1040.3 C507.4 1041.7 512.0 1051.0 512.0 1051.0 L176.0 1051.0 L176.0 879.1Z" fill="#D7EBFF" stroke="#D7EBFF" stroke-width="0.7" stroke-linejoin="round"/>
<path d="M176.0 898.3 C176.0 898.3 180.0 898.3 183.2 898.3 C189.8 898.2 212.5 898.0 222.6 897.9 C232.8 897.7 247.7 898.2 254.6 897.2 C261.6 896.2 265.6 893.1 271.7 890.8 C277.7 888.6 290.6 883.5 297.3 881.2 C303.9 879.0 314.1 877.1 318.6 874.8 C323.1 872.6 324.7 868.0 329.3 865.2 C333.8 862.5 344.5 857.5 350.6 855.7 C356.6 853.8 365.9 853.1 371.9 852.5 C377.9 851.8 386.0 851.2 393.2 851.0 C400.5 850.7 417.9 850.5 423.1 851.0 C426.5 851.3 427.2 852.3 430.0 854.4 C433.0 856.6 441.4 862.4 444.4 867.1 C447.3 871.9 449.0 882.7 450.8 887.9 C452.6 893.1 454.9 900.9 457.2 903.9 C459.5 907.0 463.8 909.4 466.8 909.5 C469.7 909.6 473.7 907.6 478.0 904.7 C482.3 901.9 493.3 895.3 497.2 889.5 C501.0 883.8 503.6 871.0 505.2 864.0 C506.7 856.9 506.5 848.1 508.4 840.0 C510.2 831.8 514.6 813.2 518.0 806.4 C521.4 799.6 528.7 794.7 532.4 792.0 C536.0 789.3 540.4 787.5 543.5 787.5 C546.7 787.5 551.8 789.3 554.7 792.0 C557.7 794.7 562.1 799.6 564.3 806.4 C566.6 813.2 570.5 831.8 570.7 840.0 C571.0 848.1 566.8 856.9 565.9 864.0 C565.0 871.0 563.2 883.2 564.3 889.5 C565.5 895.9 570.8 902.8 573.9 908.7 C577.1 914.6 583.1 925.0 586.7 931.1 C590.3 937.2 596.1 946.5 599.5 951.9 C602.9 957.3 606.4 965.0 610.7 969.5 C615.0 974.0 623.8 979.6 629.9 983.9 C636.0 988.2 647.1 995.6 653.9 999.9 C660.7 1004.2 672.2 1011.0 677.9 1014.3 C683.5 1017.6 690.3 1021.2 693.9 1023.1 C697.4 1025.0 703.0 1027.6 703.0 1027.6 C703.0 1027.6 692.1 1031.0 686.6 1032.1 C681.1 1033.2 671.6 1034.7 664.2 1035.5 C656.8 1036.3 642.8 1037.2 634.3 1037.6 C625.8 1038.0 611.9 1038.4 604.5 1038.5 C597.1 1038.6 590.0 1038.1 582.0 1038.1 C574.0 1038.1 557.9 1038.4 548.0 1038.5 C538.1 1038.6 517.1 1036.7 512.0 1038.5 C506.9 1040.3 512.0 1051.0 512.0 1051.0 L176.0 1051.0 L176.0 898.3Z" fill="#FFEBDA" stroke="#FFEBDA" stroke-width="0.7" stroke-linejoin="round"/>
<path d="M176.0 918.6 C176.0 918.6 180.0 918.6 183.2 918.6 C186.8 918.6 195.7 918.1 201.3 918.6 C206.9 919.0 217.8 920.4 222.6 921.7 C227.5 923.1 233.5 924.8 235.4 928.1 C237.4 931.5 236.8 940.4 236.5 945.2 C236.2 950.0 234.8 957.1 233.3 962.3 C231.8 967.4 228.9 976.9 225.8 981.4 C222.8 986.0 216.1 991.8 212.0 994.2 C207.9 996.7 201.1 997.3 197.1 998.5 C193.0 999.7 186.2 1002.2 183.2 1002.8 C180.2 1003.4 176.0 1002.8 176.0 1002.8 L176.0 918.6Z" fill="#FFCDB4" stroke="#FFCDB4" stroke-width="0.7" stroke-linejoin="round"/>
<path d="M370.8 889.3 C370.8 889.3 377.7 889.2 380.4 887.6 C383.1 886.0 387.6 878.8 390.0 878.0 C392.4 877.3 394.6 881.4 397.5 882.3 C400.4 883.2 406.7 883.8 410.3 884.4 C413.9 885.0 420.7 884.3 423.1 886.6 C425.5 888.8 426.4 896.6 427.3 900.4 C428.3 904.2 427.8 910.5 430.0 913.5 C432.2 916.5 439.2 918.8 442.8 921.5 C446.4 924.2 452.2 931.0 455.6 932.7 C459.0 934.4 462.9 934.2 466.8 933.5 C470.6 932.8 478.5 929.6 482.8 927.9 C487.1 926.2 492.6 923.6 497.2 921.5 C501.7 919.5 511.4 916.7 514.8 913.5 C518.2 910.4 519.8 903.9 521.2 899.1 C522.5 894.4 524.4 888.3 524.4 879.9 C524.4 871.6 520.7 850.4 521.2 840.0 C521.6 829.5 525.5 812.3 527.6 806.4 C529.2 801.6 533.3 799.9 535.5 798.4 C537.8 796.9 541.1 795.9 543.5 796.0 C546.0 796.1 550.9 797.5 553.1 799.2 C555.4 800.9 558.2 803.3 559.5 808.0 C561.1 813.8 564.6 830.9 564.3 840.0 C564.1 849.0 559.3 864.9 557.9 871.9 C556.6 879.0 554.7 884.3 554.7 889.5 C554.7 894.7 555.9 904.0 557.9 908.7 C560.0 913.5 565.7 919.0 569.1 923.1 C572.5 927.2 578.8 933.4 581.9 937.5 C585.1 941.6 589.7 947.6 591.5 951.9 C593.3 956.2 594.3 963.4 594.7 967.9 C595.2 972.4 594.0 980.9 594.7 983.9 C595.4 986.8 596.8 988.0 599.5 988.7 C602.2 989.4 609.6 988.0 613.9 988.7 C618.2 989.4 625.4 991.7 629.9 993.5 C634.4 995.3 641.4 999.0 645.9 1001.5 C650.4 1004.0 657.4 1008.4 661.9 1011.1 C666.4 1013.8 674.4 1018.3 677.9 1020.7 C681.4 1023.0 686.5 1027.6 686.5 1027.6 C686.5 1027.6 676.9 1030.2 671.6 1031.2 C666.4 1032.2 656.7 1033.8 649.3 1034.6 C641.8 1035.4 627.8 1036.3 619.3 1036.7 C610.9 1037.0 595.1 1037.2 589.6 1037.0 C585.5 1036.9 582.9 1034.8 580.6 1035.4 C578.4 1036.0 578.0 1040.8 573.9 1041.5 C566.2 1042.7 546.3 1043.5 526.0 1043.9 C505.6 1044.2 448.8 1043.9 430.0 1043.9 C413.4 1043.8 401.5 1043.9 393.2 1043.7 C385.0 1043.5 377.0 1042.9 371.9 1042.2 C366.8 1041.6 361.2 1040.4 357.0 1039.0 C352.7 1037.7 346.6 1034.7 342.0 1032.6 C337.5 1030.5 331.0 1026.2 325.0 1024.1 C318.9 1022.0 306.0 1019.2 299.4 1017.7 C292.8 1016.2 281.9 1015.5 278.1 1013.4 C274.3 1011.3 273.4 1006.4 272.8 1002.8 C272.1 999.1 272.5 991.2 273.8 987.8 C275.2 984.5 278.7 981.1 282.3 979.3 C286.0 977.5 294.6 975.2 299.4 975.1 C304.2 974.9 310.7 978.1 316.5 978.3 C322.2 978.4 333.0 976.6 339.9 976.1 C346.9 975.7 360.1 976.0 365.5 975.1 C370.9 974.1 375.0 972.4 378.3 969.7 C381.6 967.0 386.2 960.5 389.0 955.9 C391.7 951.2 395.4 940.9 397.5 936.7 C399.6 932.4 403.3 930.4 403.9 926.0 C404.5 921.6 403.9 909.2 401.7 905.8 C399.6 902.3 392.0 903.5 389.0 901.5 C385.9 899.5 383.0 893.6 380.4 891.9 C377.9 890.2 370.8 889.3 370.8 889.3Z" fill="#FFCDB4" stroke="#FFCDB4" stroke-width="0.7" stroke-linejoin="round"/>
<path d="M352.7 1015.6 C353.3 1013.6 354.7 1013.0 357.0 1012.4 C359.7 1011.6 368.6 1010.8 371.9 1010.2 C375.2 1009.6 377.4 1008.9 380.4 1008.1 C383.4 1007.3 390.2 1006.3 393.2 1004.9 C396.2 1003.5 399.3 998.5 401.7 998.5 C404.2 998.5 407.6 1003.5 410.3 1004.9 C413.0 1006.3 418.2 1008.1 420.9 1008.1 C423.7 1008.1 426.9 1006.9 429.9 1004.9 C432.9 1002.9 440.4 998.2 442.3 994.2 C444.2 990.3 442.9 982.3 443.3 977.2 C443.8 972.1 444.7 961.5 445.5 958.0 C446.1 955.3 448.7 952.7 448.7 952.7 L446.0 959.9 C446.0 959.9 448.5 953.0 450.8 951.9 C453.1 950.8 458.1 953.3 462.0 951.9 C465.8 950.5 473.4 944.6 478.0 942.3 C482.5 940.0 488.8 937.0 494.0 935.9 C499.2 934.8 510.2 935.2 514.8 934.3 C519.3 933.4 523.2 931.8 526.0 929.5 C528.7 927.3 531.9 920.9 534.0 918.3 C536.0 915.7 538.1 911.4 540.3 911.1 C542.6 910.9 547.0 914.3 549.9 916.7 C552.9 919.1 558.0 924.5 561.1 927.9 C564.3 931.3 570.3 938.2 572.3 940.7 C574.0 942.7 574.5 943.1 575.5 945.5 C576.5 948.0 579.8 955.6 579.5 958.3 C579.3 961.0 576.3 963.7 573.9 964.7 C571.6 965.7 565.9 965.8 562.7 965.5 C559.6 965.2 554.9 962.9 551.5 962.3 C548.1 961.7 541.7 960.9 538.7 961.5 C535.8 962.1 533.0 964.0 530.8 966.3 C528.5 968.6 524.7 972.7 522.8 977.5 C520.8 982.3 518.3 993.5 517.2 999.9 C516.0 1006.2 514.8 1017.7 514.8 1022.3 C514.8 1026.7 516.0 1029.4 517.2 1031.9 C518.3 1034.4 522.8 1039.9 522.8 1039.9 C522.8 1039.9 507.0 1042.6 494.0 1043.1 C480.8 1043.6 444.3 1043.7 430.0 1043.4 C415.7 1043.1 400.5 1042.1 393.2 1041.2 C386.3 1040.3 382.2 1038.1 378.3 1036.9 C374.4 1035.7 369.1 1034.1 365.5 1032.6 C361.9 1031.1 354.5 1028.6 352.7 1026.2 C350.9 1023.8 352.1 1017.5 352.7 1015.6Z" fill="#FFA882" stroke="#FFA882" stroke-width="0.7" stroke-linejoin="round"/>
<path d="M543.5 804.8 C542.0 804.7 539.7 803.6 538.7 805.6 C537.4 808.3 535.1 819.1 534.0 824.0 C532.8 828.8 530.8 835.4 530.8 840.0 C530.8 844.5 532.6 850.4 534.0 856.0 C535.3 861.5 538.8 875.9 540.3 879.1 C541.3 881.1 544.0 881.0 545.1 879.1 C547.0 876.3 551.3 864.7 553.1 859.2 C555.0 853.6 557.7 844.9 557.9 840.0 C558.2 835.0 555.9 828.7 554.7 824.0 C553.6 819.2 551.5 809.1 549.9 806.4 C548.4 803.8 545.1 804.9 543.5 804.8Z" fill="#FFA882" stroke="#FFA882" stroke-width="0.7" stroke-linejoin="round"/>
<path d="M300.5 1002.8 L306.9 996.8 L316.5 1003.8 L310.1 1008.1Z" fill="#FFA882" stroke="#FFA882" stroke-width="0.7" stroke-linejoin="round"/>
<path d="M325.0 1003.8 C325.0 1003.8 330.5 1001.7 333.5 1001.7 C336.5 1001.7 344.8 1002.8 346.3 1003.8 C347.8 1004.9 345.7 1009.0 344.2 1009.2 C342.7 1009.4 338.4 1006.1 335.7 1005.3 C332.9 1004.6 325.0 1003.8 325.0 1003.8Z" fill="#FFA882" stroke="#FFA882" stroke-width="0.7" stroke-linejoin="round"/>
<path d="M599.5 1035.9 C599.5 1035.9 604.1 1027.6 605.9 1025.5 C607.7 1023.3 608.9 1020.9 612.3 1020.7 C615.7 1020.4 625.1 1023.2 629.9 1023.9 C634.7 1024.6 641.4 1024.6 645.9 1025.5 C650.4 1026.4 661.9 1030.3 661.9 1030.3 C661.9 1030.3 657.3 1032.7 653.9 1033.5 C650.5 1034.3 644.7 1035.5 637.9 1035.9 C631.1 1036.3 611.4 1036.3 605.9 1036.3 C603.0 1036.3 599.5 1035.9 599.5 1035.9Z" fill="#FFA882" stroke="#FFA882" stroke-width="0.7" stroke-linejoin="round"/>
<path d="M376.2 1027.3 C376.2 1027.3 389.6 1020.1 393.2 1018.8 C396.8 1017.4 398.7 1017.4 401.7 1017.7 C404.8 1018.0 410.6 1020.6 414.5 1020.9 C418.5 1021.2 425.4 1021.2 429.9 1019.8 C434.3 1018.4 440.3 1013.2 446.0 1011.1 C451.7 1008.9 464.5 1007.2 470.0 1004.7 C475.4 1002.2 483.1 998.5 484.4 993.5 C485.6 988.5 478.6 974.7 478.8 969.5 C479.0 964.3 482.9 959.3 486.0 956.7 C489.0 954.1 496.4 951.0 500.4 951.1 C504.3 951.2 512.8 954.2 514.0 957.5 C515.1 960.8 509.8 969.2 508.4 974.3 C506.9 979.4 503.8 988.5 503.6 993.5 C503.3 998.5 506.1 1004.5 506.8 1009.5 C507.4 1014.5 507.2 1024.8 508.4 1028.7 C509.5 1032.5 515.0 1035.0 514.8 1036.7 C514.5 1038.4 510.7 1040.0 506.8 1040.7 C501.6 1041.5 488.9 1042.4 478.0 1042.7 C467.1 1043.0 439.0 1043.1 430.0 1042.7 C422.9 1042.4 419.8 1041.2 414.5 1040.1 C409.3 1039.0 398.7 1036.6 393.2 1034.8 C387.8 1032.9 376.2 1027.3 376.2 1027.3Z" fill="#FF7845" stroke="#FF7845" stroke-width="0.7" stroke-linejoin="round"/>
<path d="M541.9 839.5 L544.7 837.1 L548.3 839.5 L544.7 842.4Z" fill="#FF7845" stroke="#FF7845" stroke-width="0.7" stroke-linejoin="round"/>
<path d="M624.3 1031.1 L637.9 1030.3 L628.3 1035.1Z" fill="#FF7845" stroke="#FF7845" stroke-width="0.7" stroke-linejoin="round"/>
<path d="M391.1 1027.3 L399.6 1025.8 L406.0 1027.3 L399.6 1029.4Z" fill="#FF501E" stroke="#FF501E" stroke-width="0.7" stroke-linejoin="round"/>
<path d="M430.0 1030.3 C431.4 1027.4 436.2 1023.9 439.6 1022.3 C443.0 1020.7 449.7 1019.9 454.0 1019.1 C458.3 1018.3 465.9 1016.2 470.0 1016.7 C474.1 1017.1 478.9 1020.3 482.8 1022.3 C486.6 1024.2 493.5 1028.5 497.2 1030.3 C500.8 1032.1 508.4 1035.1 508.4 1035.1 C508.4 1035.1 503.1 1038.8 498.8 1039.9 C494.5 1040.9 487.4 1041.9 478.0 1042.3 C468.2 1042.6 436.8 1044.0 430.0 1042.3 C424.8 1041.0 428.6 1033.1 430.0 1030.3Z" fill="#FF501E" stroke="#FF501E" stroke-width="0.7" stroke-linejoin="round"/>
<path d="M438.0 1031.9 C440.0 1030.1 449.2 1027.3 454.0 1026.3 C458.7 1025.3 467.0 1024.1 471.6 1024.7 C476.1 1025.2 482.1 1028.8 486.0 1030.3 C489.8 1031.7 498.8 1035.1 498.8 1035.1 C498.8 1035.1 494.7 1038.4 490.8 1039.1 C485.6 1040.0 469.2 1041.5 462.0 1041.5 C454.7 1041.5 443.0 1040.4 439.6 1039.1 C436.5 1037.8 436.0 1033.7 438.0 1031.9Z" fill="#E43200" stroke="#E43200" stroke-width="0.7" stroke-linejoin="round"/>
<path d="M441.2 1035.1 C441.2 1035.1 452.7 1030.9 457.2 1030.3 C461.7 1029.6 469.1 1029.7 473.2 1030.3 C477.3 1030.8 483.0 1033.4 486.0 1034.3 C488.9 1035.1 494.0 1036.3 494.0 1036.3 C494.0 1036.3 484.8 1039.4 478.0 1039.9 C471.2 1040.4 451.2 1040.5 446.0 1039.9 C443.0 1039.5 441.2 1035.1 441.2 1035.1Z" fill="#B92800" stroke="#B92800" stroke-width="0.7" stroke-linejoin="round"/>
<path d="M455.6 1035.9 L466.8 1033.5 L478.0 1035.4 L468.4 1039.1Z" fill="#8B0000" stroke="#8B0000" stroke-width="0.7" stroke-linejoin="round"/>
<path d="M589.9 986.3 C587.4 983.7 578.5 983.1 573.9 981.5 C569.4 979.9 562.1 976.5 557.9 975.1 C553.7 973.7 547.5 971.4 544.3 971.9 C541.2 972.4 537.9 975.5 535.5 978.3 C533.2 981.1 529.4 987.7 527.6 991.9 C525.7 996.1 524.1 1003.3 522.8 1007.9 C521.4 1012.4 519.0 1020.5 518.0 1023.9 C516.9 1027.3 515.3 1029.8 515.6 1031.9 C515.8 1034.0 516.1 1038.2 519.6 1038.6 C529.2 1039.5 583.5 1038.6 583.5 1038.6 C583.5 1038.6 579.9 1035.1 580.3 1031.9 C580.8 1028.7 585.1 1020.4 586.7 1015.9 C588.3 1011.3 591.1 1004.1 591.5 999.9 C592.0 995.7 592.4 988.9 589.9 986.3Z" fill="#FFEBDA" stroke="#FFEBDA" stroke-width="0.7" stroke-linejoin="round"/>
<path d="M538.7 995.1 C540.3 992.1 542.7 989.4 545.1 988.7 C547.6 988.0 553.4 989.2 556.3 990.3 C559.3 991.4 563.7 994.0 565.9 996.7 C568.2 999.4 571.7 1006.3 572.3 1009.5 C573.0 1012.7 571.4 1016.4 570.7 1019.1 C570.1 1021.8 568.2 1026.4 567.5 1028.7 C566.9 1030.9 565.7 1033.5 565.9 1035.1 C566.2 1036.6 569.1 1039.5 569.1 1039.5 L529.2 1039.5 C529.2 1039.5 531.1 1037.3 531.6 1035.1 C532.0 1032.8 532.0 1027.5 532.4 1023.9 C532.7 1020.2 533.0 1013.6 534.0 1009.5 C534.9 1005.4 537.2 998.0 538.7 995.1Z" fill="#D7EBFF" stroke="#D7EBFF" stroke-width="0.7" stroke-linejoin="round"/>
<path d="M540.3 1040.2 C538.0 1039.0 540.5 1034.0 541.1 1031.9 C541.8 1029.8 544.0 1026.6 545.1 1025.5 C546.3 1024.3 547.9 1023.6 549.1 1023.9 C550.4 1024.1 552.8 1025.5 553.9 1027.1 C555.1 1028.7 556.6 1033.2 557.1 1035.1 C557.7 1036.9 560.2 1039.5 557.9 1040.2 C555.6 1040.9 542.7 1041.4 540.3 1040.2Z" fill="#B4CDFF" stroke="#B4CDFF" stroke-width="0.7" stroke-linejoin="round"/>
<path d="M176.0 1028.4 C176.0 1028.4 180.0 1028.3 183.2 1028.4 C191.9 1028.5 228.4 1028.8 237.6 1029.4 C242.6 1029.8 246.4 1031.6 248.2 1032.6 C250.0 1033.7 248.2 1036.9 250.4 1036.9 C252.8 1036.9 260.8 1033.6 265.3 1032.6 C269.8 1031.7 276.3 1030.2 282.3 1030.1 C288.4 1029.9 301.3 1030.3 307.9 1031.6 C314.6 1032.8 324.4 1036.5 329.3 1039.0 C334.1 1041.6 342.0 1049.7 342.0 1049.7 L183.2 1049.7 L176.0 1051.0 L176.0 1028.4Z" fill="#D7EBFF" stroke="#D7EBFF" stroke-width="0.7" stroke-linejoin="round"/>
<path d="M261.0 1047.5 C261.0 1047.5 268.1 1039.2 271.7 1036.9 C275.3 1034.6 282.1 1032.2 286.6 1031.6 C291.1 1031.0 299.1 1031.6 303.7 1032.6 C308.2 1033.7 314.4 1036.9 318.6 1039.0 C322.8 1041.1 333.5 1047.5 333.5 1047.5 L261.0 1047.5Z" fill="#B4CDFF" stroke="#B4CDFF" stroke-width="0.7" stroke-linejoin="round"/>
<path d="M275.9 1047.5 C275.9 1047.5 281.8 1041.4 284.5 1040.1 C287.2 1038.7 291.8 1037.8 295.1 1038.0 C298.5 1038.1 304.9 1039.8 307.9 1041.2 C311.0 1042.5 316.5 1047.5 316.5 1047.5 L275.9 1047.5Z" fill="#86AAFF" stroke="#86AAFF" stroke-width="0.7" stroke-linejoin="round"/>
<path d="M978.0 982.2 L966.7 982.2 L966.7 994.0 L962.4 994.0 L962.4 1004.0 L958.0 1004.0 L958.0 1030.8 L953.7 1030.8 L953.7 1039.3 L949.7 1039.3 L949.7 1043.5 L795.0 1043.5 L795.0 1048.0 L981.0 1048.0Z" fill="#FFFFFF" stroke="#FFFFFF" stroke-width="0.7" stroke-linejoin="round"/>
</g>
<g stroke="#000" stroke-linecap="round" fill="none">
<rect x="181.05" y="248.5" width="797.7" height="798.8" stroke-width="4.2" stroke-linejoin="miter"/>
<path d="M181.1 248.5 v-21 M181.1 1047.3 v21 M314.0 248.5 v-21 M314.0 1047.3 v21 M447.0 248.5 v-21 M447.0 1047.3 v21 M579.9 248.5 v-21 M579.9 1047.3 v21 M712.9 248.5 v-21 M712.9 1047.3 v21 M845.8 248.5 v-21 M845.8 1047.3 v21 M978.8 248.5 v-21 M978.8 1047.3 v21 M181.05 357.4 h-20.8 M181.05 522.0 h-20.8 M181.05 598.5 h-20.8 M181.05 648.9 h-20.8 M181.05 702.4 h-20.8 M181.05 763.1 h-20.8 M181.05 806.2 h-20.8 M181.05 839.6 h-20.8 M181.05 866.9 h-20.8 M181.05 910.0 h-20.8 M181.05 943.5 h-20.8 M181.05 993.9 h-20.8 M181.05 1023.0 h-20.8 M181.05 1047.3 h-20.8 M978.75 274.6 h20.8 M978.75 429.8 h20.8 M978.75 590.4 h20.8 M978.75 754.8 h20.8 M978.75 913.8 h20.8" stroke-width="4.2"/>
<path d="M225.4 248.5 v-10.4 M225.4 1047.3 v10.4 M269.7 248.5 v-10.4 M269.7 1047.3 v10.4 M358.3 248.5 v-10.4 M358.3 1047.3 v10.4 M402.6 248.5 v-10.4 M402.6 1047.3 v10.4 M491.3 248.5 v-10.4 M491.3 1047.3 v10.4 M535.6 248.5 v-10.4 M535.6 1047.3 v10.4 M624.2 248.5 v-10.4 M624.2 1047.3 v10.4 M668.5 248.5 v-10.4 M668.5 1047.3 v10.4 M757.2 248.5 v-10.4 M757.2 1047.3 v10.4 M801.5 248.5 v-10.4 M801.5 1047.3 v10.4 M890.1 248.5 v-10.4 M890.1 1047.3 v10.4 M934.4 248.5 v-10.4 M934.4 1047.3 v10.4" stroke-width="2.6"/>
</g>
<g font-family="Liberation Sans, Arial, Helvetica, sans-serif" font-weight="bold" fill="#000" stroke="#000" stroke-width="0.8">
<text transform="translate(139.8 367.9) scale(1 1.04)" font-size="29" text-anchor="end" >10</text>
<text transform="translate(139.8 532.5) scale(1 1.04)" font-size="29" text-anchor="end" >30</text>
<text transform="translate(139.8 609.0) scale(1 1.04)" font-size="29" text-anchor="end" >50</text>
<text transform="translate(139.8 659.4) scale(1 1.04)" font-size="29" text-anchor="end" >70</text>
<text transform="translate(139.8 712.9) scale(1 1.04)" font-size="29" text-anchor="end" >100</text>
<text transform="translate(139.8 773.6) scale(1 1.04)" font-size="29" text-anchor="end" >150</text>
<text transform="translate(139.8 816.7) scale(1 1.04)" font-size="29" text-anchor="end" >200</text>
<text transform="translate(139.8 850.1) scale(1 1.04)" font-size="29" text-anchor="end" >250</text>
<text transform="translate(139.8 877.4) scale(1 1.04)" font-size="29" text-anchor="end" >300</text>
<text transform="translate(139.8 920.5) scale(1 1.04)" font-size="29" text-anchor="end" >400</text>
<text transform="translate(139.8 954.0) scale(1 1.04)" font-size="29" text-anchor="end" >500</text>
<text transform="translate(139.8 1004.4) scale(1 1.04)" font-size="29" text-anchor="end" >700</text>
<text transform="translate(139.8 1033.5) scale(1 1.04)" font-size="29" text-anchor="end" >850</text>
<text transform="translate(139.8 1057.8) scale(1 1.04)" font-size="29" text-anchor="end" >1000</text>
<text transform="translate(1020.4 285.4) scale(1 1.04)" font-size="29" text-anchor="start" >35</text>
<text transform="translate(1020.4 440.6) scale(1 1.04)" font-size="29" text-anchor="start" >28</text>
<text transform="translate(1020.4 601.2) scale(1 1.04)" font-size="29" text-anchor="start" >21</text>
<text transform="translate(1020.4 765.6) scale(1 1.04)" font-size="29" text-anchor="start" >14</text>
<text transform="translate(1020.4 924.6) scale(1 1.04)" font-size="29" text-anchor="start" >7</text>
<text transform="translate(181.4 1111.5) scale(1 1.04)" font-size="29" text-anchor="middle" >90N</text>
<text transform="translate(314.3 1111.5) scale(1 1.04)" font-size="29" text-anchor="middle" >60N</text>
<text transform="translate(447.3 1111.5) scale(1 1.04)" font-size="29" text-anchor="middle" >30N</text>
<text transform="translate(580.2 1111.5) scale(1 1.04)" font-size="29" text-anchor="middle" >0</text>
<text transform="translate(713.2 1111.5) scale(1 1.04)" font-size="29" text-anchor="middle" >30S</text>
<text transform="translate(846.1 1111.5) scale(1 1.04)" font-size="29" text-anchor="middle" >60S</text>
<text transform="translate(979.1 1111.5) scale(1 1.04)" font-size="29" text-anchor="middle" >90S</text>
<text transform="translate(180.1 213.9) scale(1 1.04)" font-size="41.9" text-anchor="start" >SW heating rate</text>
<text transform="translate(979.4 213.9) scale(1 1.04)" font-size="41.9" text-anchor="end" >K/day</text>
<text transform="translate(39.1 648.7) rotate(-90) scale(1 1.04)" font-size="45.4" text-anchor="middle">Pressure (mb)</text>
<text transform="translate(1109.0 648.7) rotate(-90) scale(1 1.04)" font-size="45.4" text-anchor="middle">Height (km)</text>
</g>
<clipPath id="c2"><rect x="1316.5" y="248.5" width="797.7" height="798.8"/></clipPath>
<g clip-path="url(#c2)">
<path d="M1311.7 243.0 L2118.7 243.0 L2118.7 1051.0 L1311.7 1051.0Z" fill="#00008B" stroke="#00008B" stroke-width="0.7" stroke-linejoin="round"/>
<path d="M1311.7 243.0 L2043.6 243.0 C2043.6 243.0 2043.1 250.2 2042.8 256.0 C2042.3 264.1 2041.0 288.1 2040.2 300.0 C2039.4 311.9 2037.9 328.7 2037.0 340.0 C2036.1 351.3 2034.8 368.7 2033.8 380.0 C2032.8 391.3 2031.2 408.7 2030.0 420.0 C2028.8 431.3 2026.3 449.8 2025.2 460.0 C2024.0 470.2 2023.0 481.4 2022.0 492.0 C2020.9 502.6 2018.9 522.5 2017.7 534.6 C2016.5 546.7 2014.6 566.7 2013.4 577.3 C2012.2 587.8 2010.5 601.1 2009.2 609.3 C2007.8 617.4 2006.1 625.8 2003.8 634.8 C2001.6 643.9 1996.2 664.0 1993.2 673.2 C1990.2 682.4 1984.2 696.1 1982.5 699.9 C1982.3 700.3 1981.7 699.6 1981.5 700.0 C1979.9 702.5 1974.6 712.7 1971.7 717.7 C1968.8 722.7 1964.4 731.1 1961.1 735.4 C1957.8 739.7 1952.0 744.8 1948.7 747.8 C1945.5 750.8 1941.0 754.4 1938.1 756.6 C1935.2 758.9 1930.6 760.9 1928.4 763.7 C1926.1 766.5 1923.9 772.1 1922.2 776.1 C1920.4 780.1 1917.5 787.9 1916.0 792.0 C1914.5 796.2 1911.2 801.8 1911.6 805.3 C1911.9 808.8 1916.6 813.2 1918.6 816.8 C1920.6 820.4 1924.1 827.7 1925.7 831.0 C1927.3 834.2 1927.6 836.3 1930.1 839.8 C1932.6 843.3 1939.8 851.2 1943.4 855.7 C1947.0 860.2 1952.5 867.1 1955.8 871.7 C1959.1 876.2 1963.9 883.3 1966.4 887.6 C1968.9 891.8 1971.9 897.7 1973.5 901.7 C1975.1 905.7 1977.0 911.9 1977.9 915.9 C1978.8 919.9 1979.4 925.5 1979.7 930.0 C1979.9 934.6 1979.8 942.7 1979.7 947.7 C1979.6 952.8 1978.9 959.2 1978.8 965.4 C1978.7 971.7 1978.6 984.7 1978.8 992.0 C1979.1 999.3 1980.4 1012.2 1980.6 1016.8 C1980.7 1020.0 1980.9 1021.8 1979.7 1023.8 C1978.4 1025.8 1974.9 1029.3 1971.7 1030.9 C1968.6 1032.5 1962.1 1034.1 1957.6 1035.3 C1953.1 1036.6 1943.4 1038.1 1939.9 1039.8 C1936.4 1041.4 1937.3 1046.8 1932.8 1046.8 C1843.8 1048.4 1311.7 1051.0 1311.7 1051.0 L1311.7 243.0Z" fill="#001EB9" stroke="#001EB9" stroke-width="0.7" stroke-linejoin="round"/>
<path d="M1311.7 243.0 L2028.5 243.0 C2028.5 243.0 2027.9 250.2 2027.4 256.0 C2026.7 264.1 2024.8 288.1 2023.6 300.0 C2022.4 311.9 2020.4 328.7 2019.1 340.0 C2017.8 351.3 2015.8 368.7 2014.6 380.0 C2013.4 391.3 2011.7 408.7 2010.8 420.0 C2009.9 431.3 2008.6 451.3 2008.1 460.0 C2007.6 468.7 2007.6 473.8 2007.0 481.3 C2006.4 488.9 2004.9 502.7 2003.8 513.3 C2002.8 523.9 2001.1 545.4 1999.6 555.9 C1998.1 566.5 1995.6 579.2 1993.2 587.9 C1990.8 596.7 1986.1 610.2 1982.5 617.8 C1978.9 625.3 1972.1 635.5 1967.6 641.2 C1963.1 647.0 1956.0 653.8 1950.5 658.3 C1945.1 662.8 1935.3 670.0 1929.2 673.2 C1923.2 676.4 1913.9 679.5 1907.9 680.7 C1901.9 681.9 1892.6 682.4 1886.6 681.7 C1880.5 681.1 1872.8 678.8 1865.3 676.4 C1857.7 674.0 1842.3 667.7 1833.3 664.7 C1824.2 661.7 1809.4 657.1 1801.3 655.1 C1793.1 653.0 1781.7 650.9 1775.7 650.2 C1769.7 649.4 1764.1 648.9 1758.6 649.8 C1753.2 650.6 1743.4 654.0 1737.3 656.2 C1731.3 658.3 1722.8 661.2 1716.0 664.7 C1709.2 668.2 1697.5 677.4 1689.1 680.7 C1680.8 684.0 1666.2 686.2 1657.2 688.1 C1648.1 690.1 1634.2 692.7 1625.2 694.5 C1616.1 696.4 1599.5 699.9 1593.2 700.9 C1587.5 701.9 1580.4 702.0 1580.4 702.0 C1580.4 702.0 1592.4 702.1 1599.2 703.2 C1605.9 704.3 1619.3 708.2 1627.9 709.6 C1636.6 711.0 1652.7 712.2 1659.9 712.8 C1667.2 713.4 1674.6 712.5 1679.1 713.6 C1683.7 714.7 1688.3 718.2 1691.9 720.8 C1695.5 723.4 1701.3 728.8 1704.7 732.0 C1708.1 735.2 1712.1 741.0 1715.9 743.2 C1719.8 745.3 1727.4 744.9 1731.9 747.2 C1736.4 749.4 1744.0 755.0 1747.9 759.2 C1751.7 763.4 1755.7 771.8 1759.1 776.8 C1762.5 781.7 1767.8 790.5 1771.9 794.4 C1776.0 798.2 1783.3 801.7 1787.9 804.0 C1792.4 806.2 1799.9 809.0 1803.9 810.3 C1807.8 811.7 1811.8 812.5 1816.0 813.5 C1820.2 814.6 1828.7 816.1 1833.7 817.7 C1838.7 819.3 1846.4 822.1 1851.4 824.8 C1856.4 827.4 1864.1 832.9 1869.1 836.3 C1874.1 839.6 1881.8 844.9 1886.8 848.6 C1891.8 852.4 1900.0 858.8 1904.5 862.8 C1909.0 866.8 1915.1 872.9 1918.6 877.0 C1922.1 881.0 1926.5 887.1 1929.3 891.1 C1932.0 895.1 1936.1 901.0 1938.1 905.3 C1940.1 909.5 1942.3 916.4 1943.4 921.2 C1944.5 926.0 1945.4 932.6 1946.1 938.9 C1946.7 945.2 1947.3 957.9 1947.8 965.4 C1948.3 973.0 1949.0 985.0 1949.6 992.0 C1950.2 999.0 1951.9 1010.5 1952.3 1015.0 C1952.6 1019.0 1954.0 1022.0 1952.3 1023.8 C1950.5 1025.7 1944.1 1027.1 1939.9 1028.3 C1935.6 1029.4 1927.2 1030.7 1922.2 1031.8 C1917.2 1032.9 1909.0 1034.1 1904.5 1036.2 C1900.0 1038.4 1898.3 1046.6 1890.3 1046.8 C1806.3 1048.9 1311.7 1051.0 1311.7 1051.0 L1311.7 243.0Z" fill="#0032E1" stroke="#0032E1" stroke-width="0.7" stroke-linejoin="round"/>
<path d="M1311.7 243.0 L2017.8 243.0 C2017.8 243.0 2017.1 250.2 2016.6 256.0 C2015.9 264.1 2013.9 288.1 2012.7 300.0 C2011.5 311.9 2009.4 328.7 2008.2 340.0 C2007.0 351.3 2005.5 368.7 2004.4 380.0 C2003.3 391.3 2001.8 408.7 2000.4 420.0 C1999.0 431.3 1995.4 451.3 1994.3 460.0 C1993.1 468.7 1993.1 473.8 1992.5 481.3 C1991.9 488.9 1991.0 504.2 1990.0 513.3 C1989.0 522.4 1987.4 536.8 1985.7 545.3 C1984.1 553.7 1980.8 565.8 1978.3 573.0 C1975.7 580.3 1971.5 590.4 1967.6 596.5 C1963.7 602.5 1956.0 610.8 1950.5 615.7 C1945.1 620.5 1935.3 627.3 1929.2 630.6 C1923.2 633.9 1913.9 637.5 1907.9 639.1 C1901.9 640.7 1892.6 641.5 1886.6 641.7 C1880.5 641.8 1872.8 641.0 1865.3 640.2 C1857.7 639.4 1842.3 637.3 1833.3 635.9 C1824.2 634.5 1809.4 632.1 1801.3 630.6 C1793.1 629.1 1781.7 626.1 1775.7 625.2 C1769.7 624.4 1764.1 624.2 1758.6 624.6 C1753.2 625.1 1743.4 627.0 1737.3 628.4 C1731.3 629.9 1721.3 633.3 1716.0 634.8 C1710.7 636.4 1705.1 637.9 1699.8 639.1 C1694.5 640.3 1687.5 642.5 1678.5 643.4 C1669.4 644.3 1646.4 644.6 1635.8 645.5 C1625.3 646.4 1612.9 647.3 1603.8 649.8 C1594.8 652.2 1582.4 658.0 1571.9 662.6 C1561.3 667.1 1540.4 676.3 1529.2 681.7 C1518.0 687.2 1499.3 696.4 1493.0 700.9 C1487.3 705.0 1487.8 709.5 1484.4 713.7 C1481.1 718.0 1475.3 726.3 1469.5 730.8 C1463.8 735.3 1451.8 741.6 1443.9 745.7 C1436.1 749.9 1420.0 757.6 1414.1 760.0 C1409.1 762.1 1402.4 762.9 1402.4 762.9 C1402.4 762.9 1407.6 771.5 1409.8 774.6 C1412.1 777.8 1415.3 783.0 1418.3 785.3 C1421.4 787.6 1426.3 789.7 1431.1 790.6 C1436.0 791.5 1444.6 792.0 1452.5 791.7 C1460.3 791.4 1475.7 789.4 1486.6 788.5 C1497.4 787.6 1518.6 786.6 1529.2 785.3 C1539.8 783.9 1554.0 781.0 1561.2 778.9 C1568.4 776.8 1575.7 772.8 1580.0 770.4 C1584.2 767.9 1588.7 762.7 1591.2 761.6 C1593.7 760.4 1595.5 761.5 1597.6 762.1 C1599.6 762.6 1601.6 765.2 1605.6 765.6 C1609.9 766.0 1623.0 765.2 1627.9 764.8 C1632.9 764.3 1637.3 764.1 1640.7 762.4 C1644.1 760.7 1648.5 755.0 1651.9 752.8 C1655.3 750.5 1661.6 747.7 1664.7 746.4 C1667.9 745.0 1671.8 743.3 1674.3 743.2 C1676.8 743.1 1680.1 744.0 1682.3 745.6 C1684.6 747.2 1688.3 751.8 1690.3 754.4 C1692.4 757.0 1693.1 761.0 1696.7 764.0 C1700.3 766.9 1711.6 772.9 1715.9 775.2 C1720.2 777.4 1723.7 777.2 1727.1 780.0 C1730.5 782.7 1736.9 790.3 1739.9 794.4 C1742.8 798.4 1745.2 804.9 1747.9 808.7 C1750.6 812.6 1755.7 818.1 1759.1 821.5 C1762.5 824.9 1768.0 829.3 1771.9 832.7 C1775.7 836.1 1782.6 842.9 1786.3 845.5 C1789.9 848.1 1793.3 850.2 1797.5 851.1 C1801.7 852.0 1811.6 851.8 1816.0 851.9 C1820.4 852.0 1825.1 851.3 1828.4 851.8 C1831.6 852.4 1835.7 854.2 1839.0 855.7 C1842.3 857.3 1847.6 860.5 1851.4 862.8 C1855.2 865.1 1861.5 868.9 1865.5 871.7 C1869.6 874.4 1876.2 879.5 1879.7 882.3 C1883.2 885.0 1887.6 888.4 1890.3 891.1 C1893.1 893.9 1896.9 898.7 1899.2 901.7 C1901.4 904.7 1904.5 908.8 1906.2 912.4 C1908.0 915.9 1910.6 921.5 1911.6 926.5 C1912.6 931.5 1912.7 942.2 1913.3 947.7 C1914.0 953.3 1915.2 959.2 1916.0 965.4 C1916.7 971.7 1917.8 986.5 1918.6 992.0 C1919.5 997.5 1921.2 1000.9 1922.2 1004.4 C1923.2 1007.9 1925.3 1014.0 1925.7 1016.8 C1926.1 1019.5 1926.6 1022.3 1924.8 1023.8 C1923.1 1025.3 1917.5 1026.2 1913.3 1027.4 C1909.2 1028.5 1900.1 1030.4 1895.6 1031.8 C1891.1 1033.2 1885.2 1035.0 1881.5 1037.1 C1877.7 1039.2 1876.2 1046.7 1869.1 1046.8 C1788.4 1048.8 1311.7 1051.0 1311.7 1051.0 L1311.7 243.0Z" fill="#1E50FF" stroke="#1E50FF" stroke-width="0.7" stroke-linejoin="round"/>
<path d="M1311.7 243.0 L1311.7 755.3 C1311.7 755.3 1315.8 755.6 1319.2 755.3 C1322.8 755.0 1331.7 754.4 1337.3 753.2 C1342.9 752.0 1353.4 748.7 1358.6 746.8 C1363.9 744.8 1370.1 741.6 1374.6 739.3 C1379.2 737.1 1386.1 733.2 1390.6 730.8 C1395.2 728.4 1402.1 724.8 1406.6 722.3 C1411.1 719.7 1418.1 715.1 1422.6 712.7 C1427.1 710.2 1434.1 707.5 1438.6 705.2 C1443.1 702.9 1450.1 699.1 1454.6 696.7 C1459.1 694.3 1466.1 690.4 1470.6 688.1 C1475.1 685.9 1479.3 683.9 1486.6 680.7 C1494.9 677.1 1517.1 667.2 1529.2 662.6 C1541.3 657.9 1559.8 651.7 1571.9 647.6 C1583.9 643.6 1602.4 636.6 1614.5 633.8 C1626.6 630.9 1647.5 628.4 1657.2 627.4 C1666.8 626.3 1676.7 627.1 1682.7 626.3 C1688.8 625.6 1695.1 624.2 1699.8 622.0 C1704.5 619.9 1711.9 613.8 1716.0 611.4 C1720.1 609.0 1724.3 606.8 1728.8 605.0 C1733.3 603.2 1742.2 599.7 1748.0 598.6 C1753.7 597.5 1763.9 596.9 1769.3 597.1 C1774.7 597.3 1780.3 598.2 1786.4 599.7 C1792.4 601.1 1803.8 605.3 1811.9 607.1 C1820.1 608.9 1834.9 611.4 1843.9 612.5 C1853.0 613.5 1868.4 614.6 1875.9 614.6 C1883.5 614.6 1891.2 613.8 1897.2 612.5 C1903.3 611.1 1912.5 608.2 1918.6 605.0 C1924.6 601.8 1934.4 595.2 1939.9 590.1 C1945.3 584.9 1953.0 575.1 1956.9 568.7 C1960.9 562.4 1965.2 552.2 1967.6 545.3 C1970.0 538.3 1972.3 527.3 1974.0 519.7 C1975.7 512.1 1978.3 500.4 1979.3 492.0 C1980.4 483.5 1980.2 470.2 1981.5 460.0 C1982.7 449.8 1986.5 431.3 1988.4 420.0 C1990.3 408.7 1993.1 391.3 1994.8 380.0 C1996.5 368.7 1999.0 351.3 2000.6 340.0 C2002.2 328.7 2005.0 311.9 2006.3 300.0 C2007.6 288.1 2009.2 264.1 2009.9 256.0 C2010.4 250.2 2011.0 243.0 2011.0 243.0 L1311.7 243.0Z" fill="#4578FF" stroke="#4578FF" stroke-width="0.7" stroke-linejoin="round"/>
<path d="M1311.7 243.0 L1311.7 729.7 C1311.7 729.7 1315.8 730.0 1319.2 729.7 C1322.8 729.4 1331.7 728.8 1337.3 727.6 C1342.9 726.4 1353.4 723.5 1358.6 721.2 C1363.9 718.9 1370.1 714.5 1374.6 711.6 C1379.2 708.7 1386.1 704.1 1390.6 700.9 C1395.2 697.8 1402.1 692.5 1406.6 689.2 C1411.1 685.9 1418.1 680.2 1422.6 677.5 C1427.1 674.8 1434.1 672.1 1438.6 670.0 C1443.1 667.9 1450.1 664.5 1454.6 662.6 C1459.1 660.6 1466.1 658.0 1470.6 656.2 C1475.1 654.3 1479.2 652.2 1486.6 649.8 C1494.9 647.0 1517.1 640.4 1529.2 637.0 C1541.3 633.5 1559.8 628.6 1571.9 625.2 C1583.9 621.9 1602.4 616.1 1614.5 613.5 C1626.6 611.0 1647.5 608.0 1657.2 607.1 C1666.8 606.2 1676.7 607.9 1682.7 607.1 C1688.8 606.4 1695.1 603.8 1699.8 601.8 C1704.5 599.8 1710.7 595.4 1716.0 593.3 C1721.3 591.1 1731.3 588.3 1737.3 586.9 C1743.4 585.4 1752.6 583.7 1758.6 583.2 C1764.7 582.8 1773.9 583.2 1780.0 583.7 C1786.0 584.1 1795.2 585.6 1801.3 586.2 C1807.3 586.9 1816.6 587.9 1822.6 588.4 C1828.7 588.8 1837.9 589.5 1843.9 589.6 C1850.0 589.7 1859.2 589.5 1865.3 589.0 C1871.3 588.5 1880.5 587.3 1886.6 585.8 C1892.6 584.3 1901.9 581.7 1907.9 578.3 C1913.9 575.0 1924.1 567.6 1929.2 562.3 C1934.4 557.1 1940.8 546.8 1944.1 541.0 C1947.5 535.3 1950.6 527.3 1952.7 521.8 C1954.8 516.4 1957.3 509.0 1959.1 502.6 C1960.9 496.3 1964.1 483.1 1965.5 477.1 C1966.8 471.0 1967.2 467.7 1968.7 460.0 C1970.2 451.9 1973.9 431.3 1976.1 420.0 C1978.3 408.7 1981.8 391.3 1983.9 380.0 C1986.0 368.7 1989.1 351.3 1991.2 340.0 C1993.3 328.7 1996.7 311.9 1998.6 300.0 C2000.5 288.1 2003.3 264.1 2004.4 256.0 C2005.2 250.2 2006.1 243.0 2006.1 243.0 L1311.7 243.0Z" fill="#86AAFF" stroke="#86AAFF" stroke-width="0.7" stroke-linejoin="round"/>
<path d="M1311.7 243.0 L1311.7 703.1 C1311.7 703.1 1315.8 703.4 1319.2 703.1 C1322.8 702.8 1331.7 702.0 1337.3 700.9 C1342.9 699.9 1353.4 697.8 1358.6 695.6 C1363.9 693.4 1370.1 688.6 1374.6 685.6 C1379.2 682.6 1386.1 677.5 1390.6 674.3 C1395.2 671.0 1402.1 665.7 1406.6 662.6 C1411.1 659.4 1418.1 654.4 1422.6 651.9 C1427.1 649.4 1434.1 646.9 1438.6 645.1 C1443.1 643.3 1450.1 640.7 1454.6 639.1 C1459.1 637.5 1466.1 635.1 1470.6 633.8 C1475.1 632.4 1479.4 631.5 1486.6 629.5 C1494.9 627.2 1517.1 621.0 1529.2 617.8 C1541.3 614.6 1559.8 609.8 1571.9 607.1 C1583.9 604.4 1602.4 600.6 1614.5 598.6 C1626.6 596.6 1647.5 594.0 1657.2 593.3 C1666.8 592.5 1676.7 594.2 1682.7 593.3 C1688.8 592.4 1695.1 588.8 1699.8 586.9 C1704.5 585.0 1710.7 581.8 1716.0 579.8 C1721.3 577.9 1731.3 574.6 1737.3 573.0 C1743.4 571.4 1752.6 569.1 1758.6 568.3 C1764.7 567.6 1773.9 567.5 1780.0 567.7 C1786.0 567.9 1795.2 569.4 1801.3 569.8 C1807.3 570.3 1816.6 570.8 1822.6 570.9 C1828.7 571.0 1837.9 570.9 1843.9 570.4 C1850.0 570.0 1859.2 569.0 1865.3 567.7 C1871.3 566.4 1880.5 563.8 1886.6 561.3 C1892.6 558.7 1902.5 553.6 1907.9 549.6 C1913.3 545.5 1921.0 537.3 1925.0 532.5 C1928.9 527.7 1932.9 519.7 1935.6 515.4 C1938.3 511.2 1942.0 506.9 1944.1 502.6 C1946.3 498.4 1948.9 491.6 1950.5 485.6 C1952.1 479.5 1953.6 469.3 1955.4 460.0 C1957.3 450.7 1961.1 431.3 1963.6 420.0 C1966.1 408.7 1970.6 391.3 1973.1 380.0 C1975.6 368.7 1979.0 351.3 1981.4 340.0 C1983.8 328.7 1987.9 311.9 1990.3 300.0 C1992.7 288.1 1996.9 264.1 1998.4 256.0 C1999.5 250.2 2000.8 243.0 2000.8 243.0 L1311.7 243.0Z" fill="#B4CDFF" stroke="#B4CDFF" stroke-width="0.7" stroke-linejoin="round"/>
<path d="M1311.7 243.0 L1311.7 686.0 C1311.7 686.0 1315.8 686.3 1319.2 686.0 C1322.8 685.7 1331.7 685.1 1337.3 683.9 C1342.9 682.7 1353.4 679.7 1358.6 677.5 C1363.9 675.2 1370.1 671.1 1374.6 667.9 C1379.2 664.7 1386.1 658.6 1390.6 655.1 C1395.2 651.6 1402.1 646.5 1406.6 643.4 C1411.1 640.2 1418.1 635.1 1422.6 632.7 C1427.1 630.3 1434.1 628.0 1438.6 626.3 C1443.1 624.6 1450.1 622.3 1454.6 621.0 C1459.1 619.6 1466.1 617.9 1470.6 616.7 C1475.1 615.5 1479.4 614.3 1486.6 612.5 C1494.9 610.3 1517.1 604.7 1529.2 601.8 C1541.3 598.9 1559.8 594.6 1571.9 592.2 C1583.9 589.8 1602.4 586.4 1614.5 584.7 C1626.6 583.1 1647.5 581.1 1657.2 580.5 C1666.8 579.9 1676.7 581.5 1682.7 580.5 C1688.8 579.4 1695.1 575.1 1699.8 573.0 C1704.5 571.0 1710.7 568.1 1716.0 566.0 C1721.3 563.9 1731.3 560.1 1737.3 558.1 C1743.4 556.1 1752.6 552.7 1758.6 551.7 C1764.7 550.6 1773.9 550.6 1780.0 550.6 C1786.0 550.7 1795.2 552.0 1801.3 552.1 C1807.3 552.3 1816.6 552.2 1822.6 551.7 C1828.7 551.2 1837.9 549.8 1843.9 548.5 C1850.0 547.1 1859.2 544.4 1865.3 542.1 C1871.3 539.8 1880.5 535.2 1886.6 532.5 C1892.6 529.8 1904.0 525.9 1907.9 522.9 C1911.8 519.9 1911.6 514.0 1914.3 511.2 C1917.0 508.3 1924.4 506.0 1927.1 502.6 C1929.8 499.3 1931.7 492.2 1933.5 487.7 C1935.3 483.2 1938.6 474.6 1939.9 470.7 C1941.2 466.7 1941.6 464.8 1942.7 460.0 C1944.2 452.8 1948.1 431.3 1950.8 420.0 C1953.5 408.7 1958.6 391.3 1961.5 380.0 C1964.4 368.7 1968.2 351.3 1971.1 340.0 C1974.0 328.7 1979.0 311.9 1982.0 300.0 C1985.0 288.1 1990.2 264.1 1992.0 256.0 C1993.3 250.2 1995.0 243.0 1995.0 243.0 L1311.7 243.0Z" fill="#D7EBFF" stroke="#D7EBFF" stroke-width="0.7" stroke-linejoin="round"/>
<path d="M1311.7 243.0 L1311.7 670.0 C1311.7 670.0 1315.8 670.2 1319.2 670.0 C1322.8 669.8 1331.7 669.7 1337.3 668.5 C1342.9 667.3 1353.4 664.0 1358.6 661.5 C1363.9 659.0 1370.1 654.2 1374.6 650.8 C1379.2 647.5 1386.1 641.7 1390.6 638.0 C1395.2 634.4 1402.1 628.6 1406.6 625.2 C1411.1 621.9 1418.1 617.0 1422.6 614.6 C1427.1 612.2 1434.1 609.8 1438.6 608.2 C1443.1 606.5 1450.1 604.1 1454.6 602.9 C1459.1 601.6 1466.1 600.6 1470.6 599.7 C1475.1 598.8 1479.4 598.0 1486.6 596.5 C1494.9 594.6 1517.1 589.4 1529.2 586.9 C1541.3 584.3 1559.8 580.5 1571.9 578.3 C1583.9 576.2 1602.4 573.3 1614.5 571.9 C1626.6 570.6 1647.5 569.3 1657.2 568.7 C1666.8 568.2 1676.7 569.7 1682.7 568.3 C1688.8 567.0 1695.1 561.7 1699.8 559.1 C1704.5 556.6 1710.7 552.9 1716.0 550.6 C1721.3 548.4 1731.3 545.1 1737.3 543.2 C1743.4 541.2 1752.6 538.1 1758.6 536.8 C1764.7 535.4 1773.9 533.9 1780.0 533.6 C1786.0 533.2 1795.2 534.4 1801.3 534.2 C1807.3 534.0 1816.6 533.3 1822.6 532.5 C1828.7 531.6 1837.3 529.7 1843.9 528.2 C1850.6 526.7 1864.7 523.9 1869.5 521.8 C1874.4 519.7 1875.6 515.1 1878.0 513.3 C1880.5 511.5 1883.6 510.2 1886.6 509.0 C1889.6 507.8 1895.7 507.2 1899.4 504.8 C1903.0 502.4 1909.1 495.9 1912.2 492.0 C1915.2 488.1 1918.7 481.6 1920.7 477.1 C1922.7 472.5 1924.1 467.8 1926.4 460.0 C1928.9 451.9 1934.6 431.3 1938.0 420.0 C1941.4 408.7 1947.4 391.3 1950.7 380.0 C1954.0 368.7 1958.2 351.3 1961.5 340.0 C1964.8 328.7 1970.3 311.9 1973.7 300.0 C1977.1 288.1 1983.1 264.1 1985.2 256.0 C1986.7 250.2 1988.6 243.0 1988.6 243.0 L1311.7 243.0Z" fill="#FFEBDA" stroke="#FFEBDA" stroke-width="0.7" stroke-linejoin="round"/>
<path d="M1311.7 243.0 L1311.7 655.1 C1311.7 655.1 1315.8 655.3 1319.2 655.1 C1322.8 654.9 1331.7 654.8 1337.3 653.6 C1342.9 652.4 1353.4 649.2 1358.6 646.6 C1363.9 643.9 1370.1 638.5 1374.6 634.8 C1379.2 631.2 1386.1 624.9 1390.6 621.0 C1395.2 617.1 1402.1 610.7 1406.6 607.1 C1411.1 603.5 1418.1 597.8 1422.6 595.4 C1427.1 593.0 1434.1 591.4 1438.6 590.1 C1443.1 588.7 1450.1 586.7 1454.6 585.8 C1459.1 584.9 1466.1 584.3 1470.6 583.7 C1475.1 583.1 1479.4 582.8 1486.6 581.5 C1494.9 580.0 1517.1 575.3 1529.2 573.0 C1541.3 570.7 1559.8 567.5 1571.9 565.5 C1583.9 563.6 1602.4 560.5 1614.5 559.1 C1626.6 557.8 1647.5 556.5 1657.2 555.9 C1666.8 555.4 1676.7 557.2 1682.7 555.5 C1688.8 553.9 1695.1 547.2 1699.8 544.2 C1704.5 541.3 1710.7 537.1 1716.0 534.6 C1721.3 532.1 1731.3 528.5 1737.3 526.5 C1743.4 524.6 1752.6 522.1 1758.6 520.8 C1764.7 519.4 1773.3 517.8 1780.0 517.1 C1786.6 516.4 1798.9 516.5 1805.6 515.9 C1812.2 515.3 1820.8 514.0 1826.9 512.9 C1832.9 511.8 1842.8 509.7 1848.2 508.0 C1853.6 506.2 1860.7 503.2 1865.3 500.5 C1869.8 497.8 1876.0 492.6 1880.2 488.8 C1884.4 485.0 1891.5 477.9 1895.1 473.9 C1898.7 469.8 1902.1 467.0 1905.8 460.0 C1909.8 452.4 1918.9 431.3 1923.6 420.0 C1928.3 408.7 1935.3 391.3 1939.2 380.0 C1943.1 368.7 1947.6 351.3 1951.3 340.0 C1955.0 328.7 1961.6 311.9 1965.4 300.0 C1969.2 288.1 1975.9 264.1 1978.2 256.0 C1979.9 250.2 1982.0 243.0 1982.0 243.0 L1311.7 243.0Z" fill="#FFCDB4" stroke="#FFCDB4" stroke-width="0.7" stroke-linejoin="round"/>
<path d="M1311.7 243.0 L1311.7 640.2 C1311.7 640.2 1315.8 640.4 1319.2 640.2 C1322.8 640.0 1331.7 639.9 1337.3 638.7 C1342.9 637.5 1353.4 634.5 1358.6 631.6 C1363.9 628.8 1370.1 622.9 1374.6 618.8 C1379.2 614.8 1386.1 607.2 1390.6 602.9 C1395.2 598.5 1402.1 591.9 1406.6 588.1 C1411.1 584.4 1418.1 578.7 1422.6 576.2 C1427.1 573.7 1434.1 571.7 1438.6 570.7 C1443.1 569.6 1450.1 569.0 1454.6 568.7 C1459.1 568.5 1466.1 568.8 1470.6 568.7 C1475.1 568.7 1479.4 569.2 1486.6 568.3 C1494.9 567.3 1517.1 563.3 1529.2 561.3 C1541.3 559.2 1559.8 555.8 1571.9 553.8 C1583.9 551.9 1602.4 548.8 1614.5 547.4 C1626.6 546.1 1647.5 544.8 1657.2 544.2 C1666.8 543.7 1676.7 545.4 1682.7 543.6 C1688.8 541.8 1695.1 534.4 1699.8 531.4 C1704.5 528.5 1712.2 524.7 1716.0 522.9 C1719.8 521.1 1723.6 519.9 1726.7 518.6 C1729.7 517.3 1732.1 514.8 1737.3 513.7 C1743.4 512.5 1760.2 511.2 1769.3 510.1 C1778.4 509.0 1793.7 507.2 1801.3 505.8 C1808.8 504.5 1816.6 502.6 1822.6 500.5 C1828.7 498.4 1838.2 494.1 1843.9 490.9 C1849.7 487.7 1858.6 481.7 1863.1 478.1 C1867.7 474.5 1873.5 467.9 1875.9 465.3 C1878.0 463.1 1878.4 462.5 1880.2 460.0 C1884.7 453.6 1901.0 431.3 1907.6 420.0 C1914.2 408.7 1922.2 391.3 1927.0 380.0 C1931.8 368.7 1937.5 351.3 1941.7 340.0 C1945.9 328.7 1952.2 311.9 1956.4 300.0 C1960.6 288.1 1968.4 264.1 1971.1 256.0 C1973.1 250.2 1975.4 243.0 1975.4 243.0 L1311.7 243.0Z" fill="#FFA882" stroke="#FFA882" stroke-width="0.7" stroke-linejoin="round"/>
<path d="M1311.7 243.0 L1311.7 625.2 C1311.7 625.2 1315.8 625.5 1319.2 625.2 C1322.8 624.9 1331.7 624.2 1337.3 623.1 C1342.9 622.1 1353.4 620.6 1358.6 617.8 C1363.9 615.0 1370.1 607.8 1374.6 603.3 C1379.2 598.8 1386.1 590.5 1390.6 585.8 C1395.2 581.1 1402.1 574.4 1406.6 570.4 C1411.1 566.5 1418.1 560.2 1422.6 558.1 C1427.1 555.9 1434.1 555.9 1438.6 555.3 C1443.1 554.7 1450.1 553.9 1454.6 553.8 C1459.1 553.7 1466.1 554.5 1470.6 554.7 C1475.1 554.8 1479.4 555.5 1486.6 554.9 C1494.9 554.2 1517.1 551.3 1529.2 549.6 C1541.3 547.8 1559.8 544.5 1571.9 542.7 C1583.9 540.9 1602.4 538.1 1614.5 536.8 C1626.6 535.5 1647.5 534.2 1657.2 533.6 C1666.8 533.0 1676.7 534.3 1682.7 532.5 C1688.8 530.7 1695.1 523.6 1699.8 520.8 C1704.5 517.9 1711.9 514.0 1716.0 512.2 C1720.1 510.5 1724.3 509.5 1728.8 508.6 C1733.3 507.7 1740.7 507.1 1748.0 505.8 C1755.2 504.5 1772.4 501.4 1780.0 499.4 C1787.5 497.5 1795.2 494.4 1801.3 492.0 C1807.3 489.6 1817.2 485.3 1822.6 482.4 C1828.0 479.5 1835.4 474.9 1839.7 471.7 C1843.9 468.6 1847.1 465.6 1852.5 460.0 C1859.5 452.7 1880.4 431.3 1889.2 420.0 C1898.0 408.7 1908.9 391.3 1914.8 380.0 C1920.7 368.7 1926.2 351.3 1930.8 340.0 C1935.4 328.7 1942.7 311.9 1947.5 300.0 C1952.3 288.1 1961.3 264.1 1964.4 256.0 C1966.6 250.2 1969.4 243.0 1969.4 243.0 L1311.7 243.0Z" fill="#FF7845" stroke="#FF7845" stroke-width="0.7" stroke-linejoin="round"/>
<path d="M1311.7 243.0 L1311.7 609.3 C1311.7 609.3 1315.8 609.5 1319.2 609.3 C1322.8 609.0 1331.7 608.3 1337.3 607.1 C1342.9 605.9 1353.4 604.2 1358.6 600.7 C1363.9 597.3 1370.1 587.7 1374.6 582.6 C1379.2 577.5 1386.1 569.3 1390.6 564.5 C1395.2 559.6 1402.1 552.4 1406.6 548.5 C1411.1 544.6 1418.1 539.0 1422.6 536.8 C1427.1 534.5 1434.1 532.9 1438.6 532.5 C1443.1 532.1 1450.1 533.2 1454.6 534.0 C1459.1 534.8 1466.1 537.3 1470.6 538.3 C1475.1 539.2 1479.3 541.1 1486.6 541.0 C1494.9 541.0 1517.1 539.1 1529.2 537.8 C1541.3 536.6 1559.8 533.9 1571.9 532.1 C1583.9 530.3 1602.4 526.4 1614.5 525.0 C1626.6 523.6 1647.5 522.8 1657.2 522.3 C1666.8 521.7 1676.7 523.0 1682.7 521.4 C1688.8 519.8 1695.1 513.5 1699.8 511.2 C1704.5 508.8 1710.7 506.4 1716.0 504.8 C1721.3 503.1 1731.3 501.0 1737.3 499.4 C1743.4 497.9 1752.6 495.9 1758.6 494.1 C1764.7 492.3 1773.9 489.1 1780.0 486.7 C1786.0 484.2 1796.2 479.6 1801.3 477.1 C1806.4 474.5 1812.3 470.9 1816.2 468.5 C1820.1 466.1 1824.0 464.8 1829.0 460.0 C1836.3 453.1 1857.5 431.3 1867.6 420.0 C1877.7 408.7 1892.7 391.3 1900.1 380.0 C1907.5 368.7 1914.6 351.3 1920.0 340.0 C1925.4 328.7 1933.2 311.9 1938.5 300.0 C1943.8 288.1 1953.9 264.1 1957.4 256.0 C1959.9 250.2 1963.0 243.0 1963.0 243.0 L1311.7 243.0Z" fill="#FF501E" stroke="#FF501E" stroke-width="0.7" stroke-linejoin="round"/>
<path d="M1311.7 243.0 L1311.7 580.5 C1311.7 580.5 1315.9 580.9 1319.2 580.5 C1322.8 580.0 1331.7 579.5 1337.3 577.3 C1342.9 575.0 1353.4 568.9 1358.6 564.5 C1363.9 560.1 1370.1 550.7 1374.6 546.4 C1379.2 542.0 1386.1 537.0 1390.6 533.6 C1395.2 530.1 1402.1 525.5 1406.6 521.8 C1411.1 518.2 1418.1 510.0 1422.6 508.0 C1427.1 506.0 1434.1 507.1 1438.6 507.5 C1443.1 508.0 1450.1 509.1 1454.6 511.2 C1459.1 513.3 1466.1 520.1 1470.6 522.3 C1475.1 524.4 1479.2 525.7 1486.6 526.1 C1494.9 526.6 1517.1 526.2 1529.2 525.7 C1541.3 525.1 1559.8 524.0 1571.9 522.3 C1583.9 520.5 1602.4 514.9 1614.5 513.3 C1626.6 511.7 1647.5 511.6 1657.2 511.2 C1666.8 510.7 1676.7 511.3 1682.7 510.1 C1688.8 508.9 1695.1 504.6 1699.8 502.6 C1704.5 500.7 1710.7 498.2 1716.0 496.2 C1721.3 494.3 1731.3 490.9 1737.3 488.8 C1743.4 486.7 1752.6 483.6 1758.6 481.3 C1764.7 479.1 1774.5 475.2 1780.0 472.8 C1785.4 470.4 1793.7 466.1 1797.0 464.3 C1800.1 462.6 1800.8 462.3 1803.4 460.0 C1810.5 453.7 1835.6 431.3 1846.9 420.0 C1858.2 408.7 1874.9 391.3 1883.5 380.0 C1892.1 368.7 1901.3 351.3 1907.8 340.0 C1914.3 328.7 1923.5 311.9 1929.6 300.0 C1935.7 288.1 1946.8 264.1 1950.7 256.0 C1953.5 250.2 1956.9 243.0 1956.9 243.0 L1311.7 243.0Z" fill="#E43200" stroke="#E43200" stroke-width="0.7" stroke-linejoin="round"/>
<path d="M1311.7 243.0 L1311.7 528.2 C1311.7 528.2 1315.8 528.5 1319.2 528.2 C1322.8 528.0 1331.7 527.9 1337.3 526.5 C1342.9 525.2 1353.4 521.1 1358.6 518.6 C1363.9 516.2 1370.1 510.9 1374.6 509.0 C1379.2 507.2 1386.1 506.9 1390.6 505.8 C1395.2 504.8 1402.1 502.9 1406.6 501.8 C1411.1 500.6 1418.1 498.1 1422.6 497.7 C1427.1 497.4 1434.1 498.3 1438.6 499.2 C1443.1 500.2 1450.1 503.1 1454.6 504.3 C1459.1 505.6 1466.1 507.6 1470.6 508.4 C1475.1 509.2 1479.3 509.8 1486.6 510.1 C1494.9 510.5 1517.1 511.3 1529.2 511.2 C1541.3 511.0 1559.8 509.8 1571.9 509.0 C1583.9 508.3 1602.4 506.5 1614.5 505.8 C1626.6 505.2 1647.5 504.7 1657.2 504.3 C1666.8 504.0 1676.7 504.7 1682.7 503.7 C1688.8 502.7 1695.1 499.7 1699.8 497.3 C1704.5 494.9 1710.7 489.4 1716.0 486.7 C1721.3 483.9 1731.3 480.4 1737.3 478.1 C1743.4 475.9 1752.6 472.9 1758.6 470.7 C1764.7 468.4 1776.3 463.6 1780.0 462.1 C1781.9 461.3 1782.6 461.4 1784.2 460.0 C1791.2 454.0 1817.7 431.3 1829.3 420.0 C1840.9 408.7 1856.9 391.3 1866.2 380.0 C1875.5 368.7 1887.4 351.3 1895.0 340.0 C1902.6 328.7 1913.1 311.9 1920.0 300.0 C1926.9 288.1 1939.3 264.1 1943.6 256.0 C1946.7 250.2 1950.6 243.0 1950.6 243.0 L1311.7 243.0Z" fill="#B92800" stroke="#B92800" stroke-width="0.7" stroke-linejoin="round"/>
<path d="M1311.7 243.0 L1311.7 493.0 C1311.7 493.0 1315.8 493.0 1319.2 493.0 C1322.8 493.0 1331.7 493.2 1337.3 493.0 C1342.9 492.9 1353.4 492.4 1358.6 492.0 C1363.9 491.5 1370.1 490.5 1374.6 489.9 C1379.2 489.2 1386.1 488.4 1390.6 487.7 C1395.2 487.0 1404.2 485.4 1406.6 484.9 C1407.1 484.9 1407.2 484.7 1407.7 484.5 C1409.3 483.9 1416.2 481.0 1418.3 480.3 C1420.2 479.6 1421.4 479.3 1422.6 479.2 C1423.8 479.0 1425.1 479.0 1426.9 479.2 C1428.7 479.4 1433.7 480.3 1435.4 480.7 C1436.9 481.0 1437.2 481.3 1438.6 482.0 C1440.4 482.8 1445.9 485.5 1448.2 486.7 C1450.5 487.8 1451.7 488.4 1454.6 489.9 C1457.8 491.4 1466.1 495.7 1470.6 497.5 C1475.1 499.3 1479.1 501.6 1486.6 502.6 C1494.9 503.8 1517.1 505.3 1529.2 505.6 C1541.3 506.0 1559.8 505.8 1571.9 505.2 C1583.9 504.6 1602.4 502.4 1614.5 501.6 C1626.6 500.8 1647.5 499.8 1657.2 499.4 C1666.8 499.1 1676.7 500.4 1682.7 499.0 C1688.8 497.7 1695.1 493.0 1699.8 489.9 C1704.5 486.7 1710.7 480.1 1716.0 477.1 C1721.3 474.0 1731.3 470.6 1737.3 468.5 C1743.4 466.4 1754.7 463.3 1758.6 462.1 C1761.5 461.2 1762.6 461.8 1765.0 460.0 C1772.9 454.0 1802.0 431.3 1814.1 420.0 C1826.2 408.7 1840.6 391.3 1850.2 380.0 C1859.8 368.7 1873.7 351.3 1882.2 340.0 C1890.7 328.7 1902.7 311.9 1910.4 300.0 C1918.1 288.1 1931.8 264.1 1936.6 256.0 C1940.1 250.2 1944.3 243.0 1944.3 243.0 L1311.7 243.0Z" fill="#8B0000" stroke="#8B0000" stroke-width="0.7" stroke-linejoin="round"/>
<path d="M1311.7 823.7 C1311.7 823.7 1315.8 823.6 1319.2 823.7 C1325.8 823.7 1347.0 824.1 1358.6 824.1 C1370.3 824.1 1389.2 824.3 1401.3 823.7 C1413.4 823.0 1431.8 820.9 1443.9 819.4 C1456.0 817.9 1474.5 814.8 1486.6 813.0 C1498.7 811.2 1520.2 808.1 1529.2 806.6 C1538.3 805.1 1545.3 803.6 1550.5 802.3 C1555.8 801.1 1562.0 798.9 1566.0 797.6 C1570.0 796.2 1575.2 794.0 1578.8 792.8 C1582.4 791.5 1587.7 789.0 1591.6 788.8 C1595.4 788.6 1601.7 791.5 1606.0 791.2 C1610.3 790.8 1617.4 788.3 1622.0 786.4 C1626.5 784.5 1633.2 780.2 1638.0 777.6 C1642.7 775.0 1651.3 769.9 1655.6 768.0 C1659.9 766.1 1665.2 765.0 1668.4 764.5 C1671.5 763.9 1675.2 763.6 1677.9 764.0 C1680.7 764.4 1684.8 765.5 1687.5 767.2 C1690.3 768.9 1694.0 772.9 1697.1 776.0 C1700.3 779.1 1705.9 784.7 1709.9 788.8 C1714.0 792.9 1721.8 800.2 1725.9 804.8 C1730.0 809.3 1735.3 816.9 1738.7 820.8 C1742.1 824.6 1747.4 828.8 1749.9 832.0 C1752.4 835.1 1755.2 838.6 1756.3 843.2 C1757.4 847.7 1757.5 857.2 1757.9 864.0 C1758.4 870.7 1757.7 884.6 1759.5 891.1 C1761.3 897.7 1766.4 905.3 1770.7 910.3 C1775.0 915.3 1784.9 922.0 1789.9 926.3 C1794.9 930.6 1802.0 936.4 1805.9 940.7 C1809.7 945.0 1813.7 952.9 1817.1 956.7 C1820.5 960.6 1825.1 964.5 1829.9 967.9 C1834.6 971.3 1845.5 977.7 1850.7 980.7 C1855.8 983.6 1863.4 986.8 1866.0 988.7 C1868.2 990.2 1866.9 992.2 1869.1 993.8 C1871.5 995.5 1879.7 998.8 1883.2 1000.8 C1886.8 1002.8 1891.6 1005.5 1893.9 1007.9 C1896.1 1010.3 1900.9 1014.9 1899.2 1017.8 C1897.5 1020.7 1887.6 1025.7 1882.0 1028.4 C1876.4 1031.1 1867.0 1034.7 1859.6 1036.6 C1852.2 1038.5 1838.2 1040.8 1829.7 1041.8 C1821.2 1042.8 1808.4 1043.5 1799.9 1043.9 C1791.4 1044.3 1779.1 1044.4 1770.0 1044.6 C1760.9 1044.8 1751.1 1044.9 1735.7 1045.0 C1718.4 1045.1 1660.2 1044.2 1647.7 1045.0 C1645.0 1045.2 1647.7 1051.0 1647.7 1051.0 L1311.7 1051.0 L1311.7 823.7Z" fill="#4578FF" stroke="#4578FF" stroke-width="0.7" stroke-linejoin="round"/>
<path d="M1311.7 847.1 C1311.7 847.1 1315.8 847.1 1319.2 847.1 C1325.8 847.2 1347.0 847.5 1358.6 847.5 C1370.3 847.5 1389.2 848.1 1401.3 847.1 C1413.4 846.2 1431.8 842.7 1443.9 840.7 C1456.0 838.8 1474.5 835.1 1486.6 833.3 C1498.7 831.4 1520.2 829.3 1529.2 827.9 C1538.3 826.6 1545.3 825.8 1550.5 823.7 C1555.8 821.5 1561.5 814.8 1566.0 812.8 C1570.5 810.8 1578.1 810.6 1582.0 809.6 C1585.8 808.6 1589.8 805.8 1593.2 805.6 C1596.6 805.4 1601.9 808.4 1606.0 808.0 C1610.1 807.5 1617.4 804.6 1622.0 802.4 C1626.5 800.1 1633.4 795.0 1638.0 792.0 C1642.5 788.9 1649.7 783.2 1654.0 780.8 C1658.3 778.4 1665.0 776.1 1668.4 775.2 C1671.7 774.3 1675.2 774.2 1677.9 774.4 C1680.7 774.6 1684.6 775.0 1687.5 776.8 C1690.5 778.6 1695.6 783.7 1698.7 787.2 C1701.9 790.7 1706.5 797.3 1709.9 801.6 C1713.3 805.9 1719.1 813.5 1722.7 817.6 C1726.3 821.7 1732.8 827.2 1735.5 830.4 C1738.2 833.5 1741.2 835.2 1741.9 840.0 C1742.6 844.7 1740.8 856.7 1740.3 864.0 C1739.9 871.2 1737.8 884.6 1738.7 891.1 C1739.6 897.7 1743.5 905.1 1746.7 910.3 C1749.9 915.5 1756.8 922.9 1761.1 927.9 C1765.4 932.9 1772.8 940.3 1777.1 945.5 C1781.4 950.7 1787.4 959.9 1791.5 964.7 C1795.6 969.5 1801.1 975.2 1805.9 979.1 C1810.6 982.9 1819.2 988.3 1825.1 991.9 C1831.0 995.5 1841.7 1001.3 1847.5 1004.7 C1853.3 1008.1 1862.2 1013.9 1866.0 1015.9 C1869.5 1017.7 1873.0 1017.4 1874.4 1018.5 C1875.8 1019.7 1877.8 1022.2 1876.0 1023.8 C1873.9 1025.8 1865.1 1030.0 1859.6 1032.1 C1854.1 1034.2 1844.6 1037.0 1837.2 1038.4 C1829.8 1039.8 1816.8 1041.1 1807.3 1041.8 C1797.8 1042.5 1781.6 1043.0 1770.0 1043.3 C1758.4 1043.6 1737.5 1043.8 1725.3 1043.9 C1713.1 1044.0 1694.7 1044.0 1683.7 1044.0 C1672.7 1044.0 1652.8 1043.0 1647.7 1044.0 C1644.6 1044.6 1647.7 1051.0 1647.7 1051.0 L1311.7 1051.0 L1311.7 847.1Z" fill="#86AAFF" stroke="#86AAFF" stroke-width="0.7" stroke-linejoin="round"/>
<path d="M1311.7 865.2 C1311.7 865.2 1315.8 865.2 1319.2 865.2 C1325.8 865.4 1347.0 866.3 1358.6 866.3 C1370.3 866.3 1390.7 866.5 1401.3 865.2 C1411.9 864.0 1424.2 860.4 1433.3 857.8 C1442.3 855.2 1454.7 849.8 1465.3 847.1 C1475.8 844.4 1495.8 840.4 1507.9 838.6 C1520.0 836.8 1542.3 835.7 1550.5 834.3 C1557.8 833.1 1561.5 829.8 1566.0 828.8 C1570.5 827.8 1577.9 827.6 1582.0 827.2 C1586.1 826.7 1591.4 825.5 1594.8 825.6 C1598.2 825.7 1602.6 828.3 1606.0 828.0 C1609.4 827.6 1614.9 825.3 1618.8 823.2 C1622.6 821.0 1628.9 816.5 1633.2 812.8 C1637.5 809.0 1644.6 800.6 1649.2 796.8 C1653.7 792.9 1661.1 787.5 1665.2 785.6 C1669.2 783.7 1674.5 783.1 1677.9 783.2 C1681.3 783.3 1686.0 784.2 1689.1 786.4 C1692.3 788.5 1697.4 794.6 1700.3 798.4 C1703.3 802.1 1707.2 808.5 1709.9 812.8 C1712.6 817.1 1717.3 824.9 1719.5 828.8 C1721.8 832.6 1725.0 835.0 1725.9 840.0 C1726.8 844.9 1726.4 856.7 1725.9 864.0 C1725.5 871.2 1722.0 884.6 1722.7 891.1 C1723.4 897.7 1727.5 904.9 1730.7 910.3 C1733.9 915.8 1741.0 924.3 1745.1 929.5 C1749.2 934.7 1755.4 941.9 1759.5 947.1 C1763.6 952.3 1769.6 961.3 1773.9 966.3 C1778.2 971.3 1784.9 978.2 1789.9 982.3 C1794.9 986.4 1802.7 991.2 1809.1 995.1 C1815.4 998.9 1828.6 1005.6 1834.7 1009.5 C1840.8 1013.3 1848.7 1019.7 1852.3 1022.3 C1855.7 1024.7 1859.9 1027.6 1859.9 1027.6 C1859.9 1027.6 1850.0 1032.1 1844.7 1033.6 C1839.4 1035.1 1829.7 1037.4 1822.3 1038.4 C1814.9 1039.4 1801.9 1040.4 1792.4 1041.0 C1782.9 1041.6 1765.7 1042.1 1755.1 1042.4 C1744.5 1042.7 1727.9 1042.9 1717.8 1043.0 C1707.7 1043.1 1693.6 1043.0 1683.7 1043.0 C1673.8 1043.0 1652.8 1041.9 1647.7 1043.0 C1644.2 1043.8 1647.7 1051.0 1647.7 1051.0 L1311.7 1051.0 L1311.7 865.2Z" fill="#B4CDFF" stroke="#B4CDFF" stroke-width="0.7" stroke-linejoin="round"/>
<path d="M1311.7 884.4 C1311.7 884.4 1315.8 884.4 1319.2 884.4 C1325.8 884.5 1347.6 885.2 1358.6 885.1 C1369.7 884.9 1388.0 884.8 1397.0 883.4 C1406.1 881.9 1414.5 877.9 1422.6 874.8 C1430.8 871.8 1445.5 865.4 1454.6 862.0 C1463.7 858.7 1477.5 853.5 1486.6 851.4 C1495.6 849.3 1509.5 848.3 1518.6 847.1 C1527.6 845.9 1543.8 843.4 1550.5 842.9 C1557.3 842.3 1562.0 842.7 1566.0 843.2 C1570.0 843.7 1575.2 845.2 1578.8 846.4 C1582.4 847.5 1588.0 850.0 1591.6 851.2 C1595.2 852.3 1601.2 854.6 1604.4 854.4 C1607.6 854.1 1611.0 851.6 1614.0 849.6 C1616.9 847.5 1621.8 843.1 1625.2 840.0 C1628.6 836.8 1634.1 831.7 1638.0 827.2 C1641.8 822.6 1648.5 812.5 1652.4 808.0 C1656.2 803.4 1661.5 797.6 1665.2 795.2 C1668.8 792.8 1674.5 791.3 1677.9 791.2 C1681.3 791.1 1686.2 792.2 1689.1 794.4 C1692.1 796.5 1696.2 802.2 1698.7 806.4 C1701.2 810.6 1704.8 819.2 1706.7 824.0 C1708.7 828.7 1711.5 834.3 1712.3 840.0 C1713.1 845.6 1712.9 856.7 1712.3 864.0 C1711.8 871.2 1708.0 884.8 1708.3 891.1 C1708.7 897.5 1712.0 903.5 1714.7 908.7 C1717.4 913.9 1723.7 922.5 1727.5 927.9 C1731.4 933.4 1737.8 941.7 1741.9 947.1 C1746.0 952.5 1751.8 961.1 1756.3 966.3 C1760.8 971.5 1768.5 979.4 1773.9 983.9 C1779.3 988.4 1788.3 994.4 1794.7 998.3 C1801.0 1002.1 1812.6 1007.7 1818.7 1011.1 C1824.8 1014.5 1833.7 1019.9 1837.9 1022.3 C1842.0 1024.6 1847.9 1027.6 1847.9 1027.6 C1847.9 1027.6 1835.5 1031.7 1829.7 1033.1 C1823.9 1034.5 1814.7 1036.3 1807.3 1037.3 C1799.9 1038.3 1787.0 1039.5 1777.5 1040.0 C1768.0 1040.5 1749.7 1040.9 1740.2 1041.0 C1730.7 1041.1 1718.3 1041.0 1710.3 1041.0 C1702.3 1041.0 1692.6 1041.0 1683.7 1041.0 C1674.8 1041.0 1652.8 1039.6 1647.7 1041.0 C1643.4 1042.2 1647.7 1051.0 1647.7 1051.0 L1311.7 1051.0 L1311.7 884.4Z" fill="#D7EBFF" stroke="#D7EBFF" stroke-width="0.7" stroke-linejoin="round"/>
<path d="M1311.7 901.5 C1311.7 901.5 1315.8 901.4 1319.2 901.5 C1325.8 901.6 1347.9 902.0 1358.6 902.6 C1369.4 903.2 1387.3 906.1 1394.9 905.8 C1402.4 905.5 1406.2 902.4 1411.9 900.4 C1417.7 898.5 1428.5 894.3 1435.4 891.9 C1442.4 889.5 1455.3 886.1 1461.0 883.4 C1466.7 880.7 1471.7 875.1 1475.9 872.7 C1480.1 870.3 1484.8 867.7 1490.8 866.3 C1496.9 865.0 1510.1 863.7 1518.6 863.1 C1527.0 862.5 1544.2 862.2 1550.5 862.0 C1556.3 861.9 1561.1 861.8 1563.3 862.0 C1564.8 862.2 1564.9 863.0 1566.0 864.0 C1567.7 865.4 1572.9 868.8 1575.6 871.9 C1578.3 875.1 1582.9 882.3 1585.2 886.3 C1587.5 890.4 1589.3 897.9 1591.6 900.7 C1593.9 903.6 1598.2 905.9 1601.2 906.3 C1604.1 906.8 1609.0 905.4 1612.4 903.9 C1615.8 902.5 1621.8 898.0 1625.2 895.9 C1628.6 893.9 1633.9 892.9 1636.4 889.5 C1638.9 886.1 1641.2 879.0 1642.8 871.9 C1644.3 864.9 1645.7 846.8 1647.6 840.0 C1649.4 833.2 1653.1 828.7 1655.6 824.0 C1658.0 819.2 1662.0 809.9 1665.2 806.4 C1668.3 802.9 1674.5 799.6 1677.9 799.2 C1681.3 798.7 1686.4 800.8 1689.1 803.2 C1691.9 805.6 1695.1 810.8 1697.1 816.0 C1699.2 821.2 1702.5 833.2 1703.5 840.0 C1704.6 846.8 1704.8 856.7 1704.3 864.0 C1703.9 871.2 1700.7 884.8 1700.3 891.1 C1700.0 897.5 1700.1 904.4 1701.9 908.7 C1703.7 913.0 1709.7 917.0 1713.1 921.5 C1716.5 926.1 1722.5 935.0 1725.9 940.7 C1729.3 946.4 1734.9 957.0 1737.1 961.5 C1739.4 966.0 1739.4 969.1 1741.9 972.7 C1744.4 976.3 1750.2 983.7 1754.7 987.1 C1759.2 990.5 1768.5 993.5 1773.9 996.7 C1779.3 999.9 1787.2 1006.3 1793.1 1009.5 C1799.0 1012.7 1809.6 1016.5 1815.5 1019.1 C1821.3 1021.6 1834.5 1027.6 1834.5 1027.6 C1834.5 1027.6 1820.8 1031.6 1814.8 1032.8 C1808.8 1034.0 1799.8 1035.3 1792.4 1036.1 C1785.0 1036.9 1771.1 1038.0 1762.6 1038.4 C1754.1 1038.8 1740.1 1039.1 1732.7 1039.1 C1725.3 1039.1 1717.2 1038.2 1710.3 1038.1 C1703.4 1038.0 1692.6 1038.4 1683.7 1038.5 C1674.8 1038.6 1652.8 1036.7 1647.7 1038.5 C1642.6 1040.3 1647.7 1051.0 1647.7 1051.0 L1311.7 1051.0 L1311.7 901.5Z" fill="#FFEBDA" stroke="#FFEBDA" stroke-width="0.7" stroke-linejoin="round"/>
<path d="M1311.7 926.0 C1311.7 926.0 1315.8 926.0 1319.2 926.0 C1322.8 926.1 1332.9 926.1 1337.3 926.4 C1341.7 926.7 1346.5 926.1 1350.1 928.1 C1353.7 930.2 1360.6 937.0 1362.9 940.9 C1365.2 944.9 1366.4 951.6 1366.1 955.9 C1365.8 960.1 1361.8 966.9 1360.8 970.8 C1359.7 974.7 1357.7 981.3 1358.6 983.6 C1359.6 985.8 1365.2 985.3 1367.2 986.8 C1369.1 988.3 1372.5 991.5 1372.5 994.2 C1372.5 997.0 1370.6 1004.0 1367.2 1006.0 C1363.7 1007.9 1352.8 1007.0 1348.0 1008.1 C1343.1 1009.2 1337.1 1012.2 1333.1 1013.4 C1329.0 1014.6 1322.2 1016.2 1319.2 1016.6 C1316.2 1017.1 1311.7 1016.6 1311.7 1016.6 L1311.7 926.0Z" fill="#FFCDB4" stroke="#FFCDB4" stroke-width="0.7" stroke-linejoin="round"/>
<path d="M1520.7 890.8 C1520.7 888.8 1521.9 887.8 1523.9 887.6 C1527.2 887.3 1540.4 887.8 1544.1 888.7 C1547.8 889.6 1548.6 893.8 1550.5 894.0 C1552.5 894.3 1556.0 889.3 1558.0 890.4 C1560.0 891.5 1563.3 899.2 1564.4 901.5 C1565.4 903.5 1564.6 904.5 1566.0 906.3 C1568.0 908.9 1575.2 916.1 1578.8 919.9 C1582.4 923.8 1588.2 931.6 1591.6 933.5 C1595.0 935.4 1598.9 934.3 1602.8 933.5 C1606.6 932.7 1614.5 929.6 1618.8 927.9 C1623.1 926.2 1628.9 923.6 1633.2 921.5 C1637.5 919.5 1645.8 916.0 1649.2 913.5 C1652.6 911.0 1655.6 907.6 1657.2 903.9 C1658.7 900.3 1660.2 895.3 1660.4 887.9 C1660.6 878.9 1658.1 849.5 1658.8 840.0 C1659.4 830.9 1662.9 825.3 1665.2 820.8 C1667.4 816.2 1672.7 810.1 1674.7 808.0 C1676.4 806.3 1677.7 805.7 1679.5 805.9 C1681.4 806.1 1685.5 807.0 1687.5 809.6 C1689.6 812.1 1692.4 819.7 1693.9 824.0 C1695.5 828.3 1698.3 834.3 1698.7 840.0 C1699.2 845.6 1698.0 857.2 1697.1 864.0 C1696.2 870.7 1693.0 881.6 1692.3 887.9 C1691.7 894.3 1691.0 904.0 1692.3 908.7 C1693.7 913.5 1698.8 917.7 1701.9 921.5 C1705.1 925.4 1711.3 931.6 1714.7 935.9 C1718.1 940.2 1723.2 947.4 1725.9 951.9 C1728.6 956.4 1732.2 963.7 1733.9 967.9 C1735.6 972.1 1735.7 978.5 1737.9 981.5 C1740.2 984.4 1745.9 986.8 1749.9 988.7 C1753.9 990.6 1761.4 992.8 1765.9 995.1 C1770.4 997.4 1777.4 1002.0 1781.9 1004.7 C1786.4 1007.4 1792.5 1011.0 1797.9 1014.3 C1803.2 1017.5 1819.6 1027.6 1819.6 1027.6 C1819.6 1027.6 1806.2 1031.0 1800.3 1032.0 C1794.4 1033.1 1785.3 1034.4 1777.9 1035.1 C1770.5 1035.7 1755.4 1036.6 1748.0 1036.8 C1740.6 1037.0 1730.0 1036.9 1725.6 1036.5 C1721.5 1036.2 1718.9 1033.6 1716.6 1034.3 C1714.4 1035.0 1714.3 1040.7 1709.9 1041.5 C1702.2 1042.8 1682.3 1043.5 1662.0 1043.9 C1641.6 1044.2 1586.3 1043.9 1566.0 1043.9 C1545.7 1043.8 1528.3 1043.7 1518.6 1043.3 C1508.9 1042.9 1502.4 1042.4 1497.2 1041.2 C1492.1 1039.9 1487.4 1037.2 1482.3 1034.8 C1477.2 1032.3 1469.4 1026.4 1461.0 1024.1 C1452.5 1021.8 1430.5 1020.3 1422.6 1018.8 C1414.8 1017.3 1408.3 1016.3 1405.6 1013.4 C1402.8 1010.6 1403.1 1003.0 1403.4 998.5 C1403.7 994.0 1405.6 985.1 1407.7 981.4 C1409.8 977.8 1414.1 975.0 1418.3 972.9 C1422.6 970.8 1432.7 966.7 1437.5 966.5 C1442.4 966.4 1447.0 971.4 1452.5 971.9 C1457.9 972.3 1468.4 970.2 1475.9 969.7 C1483.5 969.3 1499.7 970.0 1505.8 968.7 C1511.8 967.3 1515.8 963.1 1518.6 960.1 C1521.3 957.1 1523.1 952.2 1525.0 947.3 C1526.8 942.5 1531.5 931.4 1531.4 926.0 C1531.2 920.6 1525.4 913.9 1523.9 909.0 C1522.4 904.0 1520.7 893.9 1520.7 890.8Z" fill="#FFCDB4" stroke="#FFCDB4" stroke-width="0.7" stroke-linejoin="round"/>
<path d="M1489.8 1019.8 C1490.1 1017.6 1492.5 1013.7 1495.1 1012.4 C1497.7 1011.0 1504.6 1011.0 1507.9 1010.2 C1511.2 1009.5 1515.5 1007.8 1518.6 1007.0 C1521.6 1006.3 1526.5 1006.0 1529.2 1004.9 C1531.9 1003.8 1535.3 999.3 1537.7 999.6 C1540.2 999.9 1543.6 1005.4 1546.3 1007.0 C1549.0 1008.7 1553.9 1011.3 1556.9 1011.3 C1560.0 1011.3 1564.5 1008.9 1567.6 1007.0 C1570.7 1005.2 1575.3 1000.2 1578.8 998.3 C1582.3 996.4 1590.5 994.6 1592.4 993.5 C1593.6 992.8 1593.0 991.6 1592.4 990.3 C1591.5 988.5 1587.2 983.9 1586.0 980.7 C1584.7 977.5 1583.6 971.5 1583.6 967.9 C1583.6 964.3 1584.2 956.9 1586.0 955.1 C1587.8 953.3 1593.6 956.0 1596.4 955.1 C1599.2 954.2 1602.8 950.7 1606.0 948.7 C1609.2 946.7 1614.9 942.5 1618.8 940.7 C1622.6 938.9 1628.9 936.9 1633.2 935.9 C1637.5 934.9 1645.3 934.4 1649.2 933.5 C1653.0 932.6 1657.6 931.7 1660.4 929.5 C1663.1 927.4 1666.1 920.9 1668.4 918.3 C1670.6 915.7 1673.9 911.4 1676.3 911.1 C1678.8 910.9 1682.8 913.9 1685.9 916.7 C1689.1 919.6 1695.3 927.5 1698.7 931.1 C1702.1 934.7 1707.4 938.7 1709.9 942.3 C1712.4 945.9 1715.3 952.9 1716.3 956.7 C1717.3 960.6 1718.0 967.1 1717.1 969.5 C1716.2 971.9 1712.5 973.3 1709.9 973.5 C1707.3 973.7 1701.9 972.1 1698.7 971.1 C1695.6 970.1 1690.7 967.4 1687.5 966.3 C1684.4 965.2 1679.1 962.9 1676.3 963.1 C1673.6 963.3 1670.6 965.6 1668.4 967.9 C1666.1 970.2 1662.5 975.0 1660.4 979.1 C1658.2 983.2 1654.5 990.6 1653.2 996.7 C1651.8 1002.8 1650.8 1017.1 1650.8 1022.3 C1650.8 1027.4 1652.0 1031.0 1653.2 1033.5 C1654.3 1036.0 1658.8 1039.9 1658.8 1039.9 C1658.8 1039.9 1643.0 1042.6 1630.0 1043.1 C1616.8 1043.6 1580.3 1043.7 1566.0 1043.4 C1551.7 1043.1 1537.5 1042.4 1529.2 1041.2 C1521.0 1039.9 1513.0 1036.6 1507.9 1034.8 C1502.8 1032.9 1495.5 1030.5 1493.0 1028.4 C1490.4 1026.2 1489.5 1022.1 1489.8 1019.8Z" fill="#FFA882" stroke="#FFA882" stroke-width="0.7" stroke-linejoin="round"/>
<path d="M1679.5 820.8 C1676.8 821.2 1671.9 829.2 1670.0 832.0 C1668.0 834.7 1666.2 835.9 1666.0 840.0 C1665.7 844.5 1667.3 858.1 1668.4 864.0 C1669.4 869.8 1671.8 878.3 1673.1 881.5 C1674.4 884.6 1676.4 887.1 1677.9 887.1 C1679.5 887.1 1682.5 884.8 1684.3 881.5 C1686.2 878.3 1689.4 869.8 1690.7 864.0 C1692.1 858.1 1694.2 844.9 1693.9 840.0 C1693.7 835.0 1691.2 831.5 1689.1 828.8 C1687.1 826.0 1682.3 820.3 1679.5 820.8Z" fill="#FFA882" stroke="#FFA882" stroke-width="0.7" stroke-linejoin="round"/>
<path d="M1424.7 1003.8 C1424.7 1003.8 1432.7 994.9 1435.4 993.2 C1438.1 991.5 1441.2 991.1 1443.9 991.7 C1446.7 992.3 1451.0 997.1 1454.6 997.4 C1458.2 997.7 1466.2 994.0 1469.5 993.8 C1472.8 993.7 1475.6 995.0 1478.0 996.4 C1480.5 997.8 1486.3 1001.5 1486.6 1003.8 C1486.9 1006.2 1483.2 1012.6 1480.2 1013.0 C1477.2 1013.5 1470.1 1007.6 1465.3 1007.0 C1460.4 1006.5 1451.8 1009.6 1446.1 1009.2 C1440.3 1008.7 1424.7 1003.8 1424.7 1003.8Z" fill="#FFA882" stroke="#FFA882" stroke-width="0.7" stroke-linejoin="round"/>
<path d="M1732.3 1031.9 C1731.9 1030.1 1736.5 1025.6 1738.7 1023.9 C1741.0 1022.2 1744.5 1020.0 1748.3 1019.9 C1752.2 1019.8 1760.5 1022.2 1765.9 1023.1 C1771.3 1024.0 1782.3 1025.3 1786.7 1026.3 C1791.1 1027.3 1797.1 1030.3 1797.1 1030.3 C1797.1 1030.3 1793.5 1033.6 1789.9 1034.3 C1785.5 1035.1 1772.7 1035.6 1765.9 1035.9 C1759.1 1036.2 1746.7 1036.9 1741.9 1036.3 C1737.2 1035.8 1732.8 1033.6 1732.3 1031.9Z" fill="#FFA882" stroke="#FFA882" stroke-width="0.7" stroke-linejoin="round"/>
<path d="M1680.3 834.4 C1678.8 834.9 1674.6 837.0 1673.9 839.2 C1673.3 841.3 1674.8 846.8 1675.5 849.6 C1676.3 852.3 1679.5 858.4 1679.5 858.4 C1679.5 858.4 1683.2 856.9 1684.3 854.4 C1685.5 851.6 1687.7 841.9 1687.9 839.2 C1688.0 837.0 1686.2 835.8 1685.1 835.2 C1684.1 834.5 1681.9 833.8 1680.3 834.4Z" fill="#FF7845" stroke="#FF7845" stroke-width="0.7" stroke-linejoin="round"/>
<path d="M1620.4 969.5 C1619.4 964.9 1620.5 960.1 1622.8 957.5 C1625.0 954.9 1633.1 951.8 1636.4 951.1 C1639.7 950.4 1643.1 951.8 1646.0 952.7 C1648.8 953.6 1656.4 957.5 1656.4 957.5 C1656.4 957.5 1651.1 959.4 1649.2 961.5 C1647.2 963.7 1644.8 968.6 1642.8 972.7 C1640.7 976.8 1636.6 987.8 1634.8 990.3 C1633.5 992.0 1631.2 992.1 1630.0 990.3 C1627.9 987.3 1621.4 974.1 1620.4 969.5Z" fill="#FF7845" stroke="#FF7845" stroke-width="0.7" stroke-linejoin="round"/>
<path d="M1510.0 1028.4 C1510.0 1028.4 1523.2 1020.3 1527.1 1018.8 C1531.0 1017.3 1534.4 1016.9 1537.7 1017.7 C1541.1 1018.5 1546.6 1023.3 1550.5 1024.1 C1554.5 1024.8 1561.7 1024.2 1565.9 1023.0 C1570.1 1021.9 1575.8 1017.6 1580.4 1015.9 C1584.9 1014.2 1592.5 1012.9 1598.0 1011.1 C1603.4 1009.3 1614.2 1005.3 1618.8 1003.1 C1623.3 1000.8 1627.9 996.3 1630.0 995.1 C1631.2 994.3 1632.0 993.3 1633.2 994.3 C1634.5 995.4 1638.2 1000.0 1639.6 1003.1 C1640.9 1006.1 1642.1 1012.3 1642.8 1015.9 C1643.4 1019.5 1643.2 1026.0 1644.4 1028.7 C1645.5 1031.4 1651.0 1033.5 1650.8 1035.1 C1650.5 1036.7 1646.9 1039.0 1642.8 1039.9 C1637.6 1041.0 1624.9 1042.3 1614.0 1042.7 C1603.1 1043.2 1576.5 1043.3 1566.0 1042.7 C1555.5 1042.2 1546.3 1040.3 1539.9 1039.0 C1533.5 1037.7 1524.9 1035.2 1520.7 1033.7 C1516.5 1032.2 1510.0 1028.4 1510.0 1028.4Z" fill="#FF7845" stroke="#FF7845" stroke-width="0.7" stroke-linejoin="round"/>
<path d="M1677.9 943.1 L1684.3 939.9 L1693.9 943.1 L1692.3 950.6Z" fill="#FF7845" stroke="#FF7845" stroke-width="0.7" stroke-linejoin="round"/>
<path d="M1746.7 1031.1 L1757.9 1028.7 L1777.1 1031.1 L1762.7 1033.8Z" fill="#FF7845" stroke="#FF7845" stroke-width="0.7" stroke-linejoin="round"/>
<path d="M1523.9 1027.3 L1533.5 1024.5 L1542.0 1027.3 L1531.4 1029.4Z" fill="#FF501E" stroke="#FF501E" stroke-width="0.7" stroke-linejoin="round"/>
<path d="M1566.0 1030.3 C1567.4 1027.8 1572.2 1026.1 1575.6 1024.7 C1579.0 1023.2 1585.0 1020.8 1590.0 1019.9 C1595.0 1019.0 1605.1 1017.9 1610.8 1018.3 C1616.4 1018.6 1626.3 1020.6 1630.0 1022.3 C1633.6 1024.0 1634.3 1028.5 1636.4 1030.3 C1638.4 1032.1 1644.4 1035.1 1644.4 1035.1 C1644.4 1035.1 1639.1 1038.8 1634.8 1039.9 C1630.5 1040.9 1623.4 1041.9 1614.0 1042.3 C1604.2 1042.6 1572.8 1044.0 1566.0 1042.3 C1560.8 1041.0 1564.6 1032.8 1566.0 1030.3Z" fill="#FF501E" stroke="#FF501E" stroke-width="0.7" stroke-linejoin="round"/>
<path d="M1572.4 1033.5 C1572.4 1033.5 1584.6 1028.1 1590.0 1027.1 C1595.4 1026.1 1605.1 1025.6 1610.8 1026.3 C1616.4 1027.0 1626.1 1030.5 1630.0 1031.9 C1633.8 1033.2 1638.0 1035.9 1638.0 1035.9 C1638.0 1035.9 1632.1 1039.1 1626.8 1039.5 C1618.8 1040.2 1589.7 1041.5 1582.0 1040.7 C1576.6 1040.1 1572.4 1033.5 1572.4 1033.5Z" fill="#E43200" stroke="#E43200" stroke-width="0.7" stroke-linejoin="round"/>
<path d="M1577.2 1035.9 C1577.2 1035.9 1588.2 1032.4 1593.2 1031.9 C1598.2 1031.3 1607.6 1031.3 1612.4 1031.9 C1617.1 1032.4 1626.8 1035.9 1626.8 1035.9 C1626.8 1035.9 1619.9 1039.0 1614.0 1039.5 C1608.1 1040.1 1590.4 1040.1 1585.2 1039.5 C1581.2 1039.2 1577.2 1035.9 1577.2 1035.9Z" fill="#B92800" stroke="#B92800" stroke-width="0.7" stroke-linejoin="round"/>
<path d="M1594.8 1036.3 L1604.4 1034.4 L1614.0 1036.3 L1604.4 1038.6Z" fill="#8B0000" stroke="#8B0000" stroke-width="0.7" stroke-linejoin="round"/>
<path d="M1730.7 996.7 C1730.3 994.2 1728.5 993.5 1725.9 991.9 C1723.0 990.1 1714.5 986.2 1709.9 983.9 C1705.4 981.6 1698.2 977.4 1693.9 975.9 C1689.6 974.4 1682.9 973.0 1679.5 973.5 C1676.1 974.0 1672.4 976.7 1670.0 979.1 C1667.5 981.5 1663.5 986.0 1662.0 990.3 C1660.4 994.6 1659.4 1004.5 1658.8 1009.5 C1658.1 1014.5 1657.9 1021.8 1657.2 1025.5 C1656.4 1029.1 1652.9 1033.2 1653.2 1035.1 C1653.4 1036.9 1655.8 1038.4 1658.8 1038.6 C1668.2 1039.1 1719.5 1038.6 1719.5 1038.6 C1719.5 1038.6 1717.4 1037.6 1717.1 1036.7 C1716.9 1035.7 1716.9 1033.8 1717.9 1031.9 C1718.9 1029.8 1722.7 1025.4 1724.3 1022.3 C1725.9 1019.1 1728.2 1013.1 1729.1 1009.5 C1730.0 1005.9 1731.2 999.2 1730.7 996.7Z" fill="#FFEBDA" stroke="#FFEBDA" stroke-width="0.7" stroke-linejoin="round"/>
<path d="M1673.1 990.3 C1674.8 987.7 1678.2 984.9 1681.1 984.7 C1684.1 984.5 1690.3 987.2 1693.9 988.7 C1697.6 990.2 1704.0 992.6 1706.7 995.1 C1709.5 997.6 1712.9 1002.4 1713.1 1006.3 C1713.4 1010.1 1709.7 1018.2 1708.3 1022.3 C1707.0 1026.4 1703.3 1032.6 1703.5 1035.1 C1703.8 1037.5 1709.9 1039.5 1709.9 1039.5 L1658.8 1039.5 C1658.8 1039.5 1662.3 1037.7 1663.6 1035.1 C1664.9 1032.2 1667.6 1023.6 1668.4 1019.1 C1669.1 1014.5 1668.5 1007.2 1669.2 1003.1 C1669.8 999.0 1671.4 992.9 1673.1 990.3Z" fill="#D7EBFF" stroke="#D7EBFF" stroke-width="0.7" stroke-linejoin="round"/>
<path d="M1668.4 1040.8 C1668.4 1040.8 1674.8 1035.4 1676.3 1031.9 C1677.9 1028.3 1678.4 1019.4 1679.5 1015.9 C1680.7 1012.4 1683.0 1008.2 1684.3 1007.1 C1685.7 1005.9 1687.9 1006.2 1689.1 1007.9 C1690.4 1009.6 1692.5 1015.7 1693.1 1019.1 C1693.8 1022.5 1692.7 1029.2 1693.9 1031.9 C1695.2 1034.6 1699.7 1037.0 1701.9 1038.3 C1704.2 1039.5 1709.9 1040.8 1709.9 1040.8 L1668.4 1040.8Z" fill="#B4CDFF" stroke="#B4CDFF" stroke-width="0.7" stroke-linejoin="round"/>
<path d="M1668.4 1043.9 C1668.4 1043.9 1675.7 1042.1 1677.9 1041.5 C1680.2 1040.8 1682.5 1039.1 1684.3 1039.1 C1686.2 1039.1 1688.0 1040.8 1690.7 1041.5 C1693.5 1042.1 1703.5 1043.9 1703.5 1043.9 L1668.4 1043.9Z" fill="#86AAFF" stroke="#86AAFF" stroke-width="0.7" stroke-linejoin="round"/>
<path d="M1311.7 1028.4 C1311.7 1028.4 1315.8 1028.4 1319.2 1028.4 C1325.8 1028.4 1350.3 1027.9 1358.6 1028.4 C1367.0 1028.8 1377.8 1031.6 1377.8 1031.6 L1369.3 1039.0 C1369.3 1039.0 1381.8 1039.0 1386.4 1038.0 C1390.9 1036.9 1396.8 1032.8 1401.3 1031.6 C1405.8 1030.3 1411.7 1029.3 1418.3 1029.4 C1425.0 1029.6 1440.9 1031.0 1448.2 1032.6 C1455.4 1034.3 1464.7 1038.7 1469.5 1041.2 C1474.4 1043.6 1482.3 1049.7 1482.3 1049.7 L1319.2 1049.7 L1311.7 1051.0 L1311.7 1028.4Z" fill="#D7EBFF" stroke="#D7EBFF" stroke-width="0.7" stroke-linejoin="round"/>
<path d="M1397.0 1047.5 C1397.0 1047.5 1404.1 1041.0 1407.7 1039.0 C1411.3 1037.1 1418.1 1034.3 1422.6 1033.7 C1427.1 1033.1 1435.1 1033.8 1439.7 1034.8 C1444.2 1035.7 1450.4 1038.3 1454.6 1040.1 C1458.8 1041.9 1469.5 1047.5 1469.5 1047.5 L1397.0 1047.5Z" fill="#B4CDFF" stroke="#B4CDFF" stroke-width="0.7" stroke-linejoin="round"/>
<path d="M1409.8 1047.5 C1409.8 1047.5 1417.5 1042.4 1420.5 1041.2 C1423.5 1039.9 1427.8 1038.6 1431.1 1038.6 C1434.5 1038.6 1440.6 1039.9 1443.9 1041.2 C1447.3 1042.4 1454.6 1047.5 1454.6 1047.5 L1409.8 1047.5Z" fill="#86AAFF" stroke="#86AAFF" stroke-width="0.7" stroke-linejoin="round"/>
<path d="M2113.7 982.2 L2102.4 982.2 L2102.4 994.0 L2098.1 994.0 L2098.1 1004.0 L2093.7 1004.0 L2093.7 1030.8 L2089.4 1030.8 L2089.4 1039.3 L2085.4 1039.3 L2085.4 1043.5 L1934.7 1043.5 L1934.7 1048.0 L2116.7 1048.0Z" fill="#FFFFFF" stroke="#FFFFFF" stroke-width="0.7" stroke-linejoin="round"/>
</g>
<g stroke="#000" stroke-linecap="round" fill="none">
<rect x="1316.5" y="248.5" width="797.7" height="798.8" stroke-width="4.2" stroke-linejoin="miter"/>
<path d="M1316.5 248.5 v-21 M1316.5 1047.3 v21 M1449.5 248.5 v-21 M1449.5 1047.3 v21 M1582.4 248.5 v-21 M1582.4 1047.3 v21 M1715.3 248.5 v-21 M1715.3 1047.3 v21 M1848.3 248.5 v-21 M1848.3 1047.3 v21 M1981.2 248.5 v-21 M1981.2 1047.3 v21 M2114.2 248.5 v-21 M2114.2 1047.3 v21 M1316.5 357.4 h-20.8 M1316.5 522.0 h-20.8 M1316.5 598.5 h-20.8 M1316.5 648.9 h-20.8 M1316.5 702.4 h-20.8 M1316.5 763.1 h-20.8 M1316.5 806.2 h-20.8 M1316.5 839.6 h-20.8 M1316.5 866.9 h-20.8 M1316.5 910.0 h-20.8 M1316.5 943.5 h-20.8 M1316.5 993.9 h-20.8 M1316.5 1023.0 h-20.8 M1316.5 1047.3 h-20.8 M2114.2 274.6 h20.8 M2114.2 429.8 h20.8 M2114.2 590.4 h20.8 M2114.2 754.8 h20.8 M2114.2 913.8 h20.8" stroke-width="4.2"/>
<path d="M1360.8 248.5 v-10.4 M1360.8 1047.3 v10.4 M1405.1 248.5 v-10.4 M1405.1 1047.3 v10.4 M1493.8 248.5 v-10.4 M1493.8 1047.3 v10.4 M1538.1 248.5 v-10.4 M1538.1 1047.3 v10.4 M1626.7 248.5 v-10.4 M1626.7 1047.3 v10.4 M1671.0 248.5 v-10.4 M1671.0 1047.3 v10.4 M1759.7 248.5 v-10.4 M1759.7 1047.3 v10.4 M1804.0 248.5 v-10.4 M1804.0 1047.3 v10.4 M1892.6 248.5 v-10.4 M1892.6 1047.3 v10.4 M1936.9 248.5 v-10.4 M1936.9 1047.3 v10.4 M2025.6 248.5 v-10.4 M2025.6 1047.3 v10.4 M2069.9 248.5 v-10.4 M2069.9 1047.3 v10.4" stroke-width="2.6"/>
</g>
<g font-family="Liberation Sans, Arial, Helvetica, sans-serif" font-weight="bold" fill="#000" stroke="#000" stroke-width="0.8">
<text transform="translate(1275.2 367.9) scale(1 1.04)" font-size="29" text-anchor="end" >10</text>
<text transform="translate(1275.2 532.5) scale(1 1.04)" font-size="29" text-anchor="end" >30</text>
<text transform="translate(1275.2 609.0) scale(1 1.04)" font-size="29" text-anchor="end" >50</text>
<text transform="translate(1275.2 659.4) scale(1 1.04)" font-size="29" text-anchor="end" >70</text>
<text transform="translate(1275.2 712.9) scale(1 1.04)" font-size="29" text-anchor="end" >100</text>
<text transform="translate(1275.2 773.6) scale(1 1.04)" font-size="29" text-anchor="end" >150</text>
<text transform="translate(1275.2 816.7) scale(1 1.04)" font-size="29" text-anchor="end" >200</text>
<text transform="translate(1275.2 850.1) scale(1 1.04)" font-size="29" text-anchor="end" >250</text>
<text transform="translate(1275.2 877.4) scale(1 1.04)" font-size="29" text-anchor="end" >300</text>
<text transform="translate(1275.2 920.5) scale(1 1.04)" font-size="29" text-anchor="end" >400</text>
<text transform="translate(1275.2 954.0) scale(1 1.04)" font-size="29" text-anchor="end" >500</text>
<text transform="translate(1275.2 1004.4) scale(1 1.04)" font-size="29" text-anchor="end" >700</text>
<text transform="translate(1275.2 1033.5) scale(1 1.04)" font-size="29" text-anchor="end" >850</text>
<text transform="translate(1275.2 1057.8) scale(1 1.04)" font-size="29" text-anchor="end" >1000</text>
<text transform="translate(2155.8 285.4) scale(1 1.04)" font-size="29" text-anchor="start" >35</text>
<text transform="translate(2155.8 440.6) scale(1 1.04)" font-size="29" text-anchor="start" >28</text>
<text transform="translate(2155.8 601.2) scale(1 1.04)" font-size="29" text-anchor="start" >21</text>
<text transform="translate(2155.8 765.6) scale(1 1.04)" font-size="29" text-anchor="start" >14</text>
<text transform="translate(2155.8 924.6) scale(1 1.04)" font-size="29" text-anchor="start" >7</text>
<text transform="translate(1316.8 1111.5) scale(1 1.04)" font-size="29" text-anchor="middle" >90N</text>
<text transform="translate(1449.8 1111.5) scale(1 1.04)" font-size="29" text-anchor="middle" >60N</text>
<text transform="translate(1582.7 1111.5) scale(1 1.04)" font-size="29" text-anchor="middle" >30N</text>
<text transform="translate(1715.7 1111.5) scale(1 1.04)" font-size="29" text-anchor="middle" >0</text>
<text transform="translate(1848.6 1111.5) scale(1 1.04)" font-size="29" text-anchor="middle" >30S</text>
<text transform="translate(1981.5 1111.5) scale(1 1.04)" font-size="29" text-anchor="middle" >60S</text>
<text transform="translate(2114.5 1111.5) scale(1 1.04)" font-size="29" text-anchor="middle" >90S</text>
<text transform="translate(1315.5 213.9) scale(1 1.04)" font-size="41.9" text-anchor="start" >SW heating rate</text>
<text transform="translate(2114.8 213.9) scale(1 1.04)" font-size="41.9" text-anchor="end" >K/day</text>
<text transform="translate(1174.5 648.7) rotate(-90) scale(1 1.04)" font-size="45.4" text-anchor="middle">Pressure (mb)</text>
<text transform="translate(2244.5 648.7) rotate(-90) scale(1 1.04)" font-size="45.4" text-anchor="middle">Height (km)</text>
</g>
<clipPath id="c3"><rect x="748.9" y="1514.2" width="797.7" height="798.8"/></clipPath>
<g clip-path="url(#c3)">
<path d="M743.7 1510.0 L1550.7 1510.0 L1550.7 2318.0 L743.7 2318.0Z" fill="#FFEBDA" stroke="#FFEBDA" stroke-width="0.7" stroke-linejoin="round"/>
<path d="M740.7 1505.7 L879.3 1505.7 C879.3 1505.7 880.2 1520.7 880.6 1527.1 C881.0 1533.4 882.3 1550.5 882.3 1550.5 L887.9 1539.9 C887.9 1539.9 892.8 1546.4 894.3 1552.6 C896.1 1560.5 899.1 1580.2 900.7 1595.3 C902.2 1610.4 904.0 1641.1 904.9 1659.3 C905.8 1677.4 906.9 1706.9 907.0 1723.2 C907.2 1739.5 907.1 1760.5 906.2 1774.4 C905.3 1788.3 902.3 1809.2 900.7 1821.3 C899.0 1833.4 896.1 1852.1 894.3 1859.7 C892.5 1866.8 889.5 1872.8 887.9 1874.6 C886.2 1876.4 883.5 1870.1 882.3 1872.5 C880.9 1875.2 879.4 1889.9 878.0 1893.8 C876.9 1897.3 874.3 1896.8 872.9 1900.2 C871.0 1905.0 867.4 1920.4 864.4 1927.9 C861.4 1935.5 854.6 1947.8 851.6 1953.5 C848.6 1959.2 845.5 1965.1 843.1 1968.4 C840.7 1971.7 837.6 1973.3 834.6 1977.0 C831.5 1980.6 825.4 1990.6 821.8 1994.0 C818.1 1997.5 812.3 2000.2 809.0 2001.3 C805.6 2002.3 801.3 2002.3 798.3 2001.3 C795.3 2000.2 791.6 1995.0 787.6 1994.0 C783.7 1993.0 776.0 1993.7 770.6 1994.0 C765.1 1994.3 753.5 1995.8 749.3 1996.1 C745.4 1996.4 740.7 1996.1 740.7 1996.1 L740.7 1505.7Z" fill="#D7EBFF" stroke="#D7EBFF" stroke-width="0.7" stroke-linejoin="round"/>
<path d="M940.3 1548.4 C940.3 1548.4 944.1 1555.7 945.4 1561.2 C946.8 1566.6 948.6 1575.9 949.7 1586.8 C950.8 1597.6 952.2 1623.4 953.1 1637.9 C954.0 1652.4 955.5 1675.8 956.1 1689.1 C956.6 1702.4 957.1 1719.7 956.9 1731.7 C956.8 1743.8 955.8 1762.9 954.8 1774.4 C953.8 1785.9 951.0 1804.9 949.7 1812.8 C948.4 1820.6 946.8 1826.2 945.4 1829.8 C944.1 1833.5 940.3 1838.4 940.3 1838.4 C940.3 1838.4 937.4 1830.1 936.0 1825.6 C934.7 1821.0 932.2 1812.4 930.5 1806.4 C928.8 1800.3 925.4 1791.1 924.1 1782.9 C922.8 1774.8 921.5 1759.7 921.1 1748.8 C920.7 1737.9 920.7 1718.2 921.1 1706.2 C921.5 1694.1 922.8 1675.6 924.1 1663.5 C925.4 1651.4 929.0 1632.4 930.5 1620.9 C932.0 1609.4 933.4 1592.8 934.8 1582.5 C936.2 1572.2 940.3 1548.4 940.3 1548.4Z" fill="#D7EBFF" stroke="#D7EBFF" stroke-width="0.7" stroke-linejoin="round"/>
<path d="M1293.8 1505.7 C1293.8 1505.7 1291.6 1570.5 1290.8 1595.3 C1290.1 1620.1 1289.2 1656.4 1288.7 1680.6 C1288.2 1704.7 1287.1 1744.7 1287.4 1765.9 C1287.7 1787.0 1289.5 1814.1 1290.8 1829.8 C1292.2 1845.5 1295.4 1865.9 1297.2 1876.7 C1299.1 1887.6 1301.2 1899.6 1303.6 1906.6 C1306.1 1913.5 1311.4 1921.9 1314.3 1925.8 C1317.2 1929.7 1321.1 1934.0 1324.1 1934.3 C1327.1 1934.6 1332.8 1931.8 1335.6 1927.9 C1338.5 1924.0 1341.7 1915.7 1344.1 1906.6 C1346.6 1897.5 1350.6 1877.8 1352.7 1863.9 C1354.8 1850.0 1358.0 1822.4 1359.1 1808.5 C1360.2 1794.6 1360.5 1784.0 1360.4 1765.9 C1360.2 1747.7 1359.3 1701.7 1358.2 1680.6 C1357.1 1659.4 1354.1 1633.5 1352.7 1616.6 C1351.3 1599.7 1349.3 1576.9 1348.4 1561.2 C1347.5 1545.5 1346.3 1505.7 1346.3 1505.7 L1293.8 1505.7Z" fill="#D7EBFF" stroke="#D7EBFF" stroke-width="0.7" stroke-linejoin="round"/>
<path d="M1411.5 1505.7 C1411.5 1505.7 1407.8 1552.2 1406.8 1574.0 C1405.9 1595.7 1405.1 1632.1 1404.7 1659.3 C1404.3 1686.4 1404.2 1738.7 1403.8 1765.9 C1403.5 1793.0 1402.4 1830.0 1402.6 1851.2 C1402.7 1872.3 1403.6 1900.6 1404.7 1915.1 C1405.8 1929.6 1408.9 1945.6 1410.2 1953.5 C1411.6 1961.3 1412.5 1965.1 1414.5 1970.6 C1416.5 1976.0 1424.3 1991.9 1424.3 1991.9 C1424.3 1991.9 1428.7 1982.8 1430.3 1979.1 C1431.9 1975.3 1435.8 1965.4 1435.8 1965.4 C1435.8 1965.4 1439.4 1972.0 1440.9 1972.7 C1442.5 1973.4 1445.6 1973.1 1446.5 1970.6 C1448.2 1966.0 1451.3 1948.6 1452.9 1940.7 C1454.5 1932.9 1456.5 1922.7 1458.0 1915.1 C1459.5 1907.6 1462.2 1892.1 1463.6 1887.4 C1464.4 1884.5 1465.1 1883.0 1467.8 1882.3 C1470.5 1881.6 1479.7 1883.1 1482.7 1882.3 C1485.8 1881.5 1487.3 1879.9 1489.1 1876.7 C1490.9 1873.5 1493.7 1865.7 1495.5 1859.7 C1497.3 1853.6 1500.3 1844.4 1501.9 1834.1 C1503.6 1823.8 1506.1 1802.9 1507.0 1787.2 C1508.0 1771.5 1508.2 1752.0 1508.3 1723.2 C1508.5 1683.3 1508.3 1505.7 1508.3 1505.7 L1411.5 1505.7Z" fill="#D7EBFF" stroke="#D7EBFF" stroke-width="0.7" stroke-linejoin="round"/>
<path d="M1431.6 1505.7 L1438.0 1537.7 L1440.1 1527.1 C1440.1 1527.1 1443.7 1527.2 1444.4 1529.2 C1445.6 1532.8 1447.4 1546.3 1448.6 1552.6 C1449.8 1559.0 1451.4 1569.6 1452.9 1574.0 C1454.4 1578.3 1457.5 1582.4 1459.3 1583.3 C1461.1 1584.3 1463.4 1582.5 1465.7 1580.4 C1468.4 1577.8 1475.2 1569.7 1478.5 1565.4 C1481.8 1561.2 1486.6 1555.3 1489.1 1550.5 C1491.7 1545.7 1494.6 1537.7 1496.4 1531.3 C1498.2 1525.0 1501.9 1505.7 1501.9 1505.7 L1431.6 1505.7Z" fill="#FFEBDA" stroke="#FFEBDA" stroke-width="0.7" stroke-linejoin="round"/>
<path d="M740.7 2096.4 C740.7 2096.4 763.3 2093.0 770.6 2092.1 C777.8 2091.2 786.5 2091.2 791.9 2090.0 C797.3 2088.7 804.1 2086.3 809.0 2083.6 C813.8 2080.8 820.0 2073.8 826.0 2070.8 C832.1 2067.7 845.0 2064.4 851.6 2062.2 C858.3 2060.1 866.9 2058.0 872.9 2055.8 C879.0 2053.7 887.0 2049.7 894.3 2047.3 C901.5 2044.9 915.0 2040.9 924.1 2038.8 C933.2 2036.7 947.3 2034.5 958.2 2032.4 C969.1 2030.3 992.4 2026.3 1000.9 2023.9 C1009.1 2021.5 1014.0 2017.4 1017.9 2015.3 C1021.8 2013.2 1025.0 2010.1 1028.6 2008.9 C1032.2 2007.7 1038.4 2008.6 1043.5 2006.8 C1048.6 2005.0 1058.8 1999.2 1064.8 1996.1 C1070.9 1993.1 1080.1 1987.5 1086.2 1985.5 C1092.2 1983.5 1102.0 1982.4 1107.5 1982.1 C1112.9 1981.8 1119.1 1982.0 1124.5 1983.3 C1130.0 1984.7 1139.8 1990.1 1145.9 1991.9 C1151.9 1993.7 1162.3 1994.3 1167.2 1996.1 C1172.0 1998.0 1176.3 2001.0 1180.0 2004.7 C1183.6 2008.3 1189.7 2016.3 1192.8 2021.7 C1195.8 2027.2 1199.5 2037.6 1201.3 2043.0 C1203.1 2048.5 1203.9 2056.0 1205.6 2060.1 C1207.2 2064.2 1213.8 2068.4 1213.2 2072.0 C1212.6 2075.7 1205.4 2082.6 1201.3 2086.1 C1197.2 2089.6 1188.5 2094.8 1184.2 2096.8 C1180.0 2098.8 1175.7 2100.0 1171.4 2100.2 C1167.2 2100.3 1159.2 2098.3 1154.4 2097.6 C1149.5 2096.9 1142.8 2096.4 1137.3 2095.1 C1131.9 2093.7 1121.4 2088.3 1116.0 2088.2 C1110.6 2088.2 1103.8 2093.3 1098.9 2094.6 C1094.1 2096.0 1087.3 2097.6 1081.9 2097.6 C1076.4 2097.6 1066.0 2096.0 1060.6 2094.6 C1055.1 2093.3 1048.3 2089.4 1043.5 2088.2 C1038.7 2087.0 1030.7 2084.9 1026.4 2086.1 C1022.2 2087.3 1016.7 2093.1 1013.7 2096.8 C1010.6 2100.4 1008.1 2108.1 1005.1 2111.7 C1002.1 2115.3 996.6 2120.2 992.3 2122.3 C988.1 2124.5 980.7 2125.3 975.3 2126.6 C969.8 2127.9 960.6 2130.5 954.0 2131.7 C947.3 2132.9 935.0 2133.7 928.4 2135.1 C921.7 2136.5 913.1 2140.0 907.0 2141.5 C901.0 2143.0 891.8 2144.4 885.7 2145.8 C879.7 2147.2 869.8 2151.0 864.4 2151.3 C859.0 2151.6 851.6 2149.6 847.3 2147.9 C843.1 2146.2 838.2 2142.4 834.6 2139.4 C830.9 2136.4 825.4 2129.6 821.8 2126.6 C818.1 2123.6 813.2 2120.2 809.0 2118.1 C804.7 2116.0 797.3 2112.8 791.9 2111.7 C786.5 2110.6 777.8 2111.0 770.6 2110.4 C763.3 2109.8 740.7 2107.4 740.7 2107.4 L740.7 2096.4Z" fill="#FFCDB4" stroke="#FFCDB4" stroke-width="0.7" stroke-linejoin="round"/>
<path d="M1064.8 2028.1 C1066.9 2023.0 1077.1 2014.7 1081.9 2011.1 C1086.7 2007.4 1093.5 2004.2 1098.9 2002.5 C1104.4 2000.9 1114.2 1998.0 1120.3 1999.6 C1126.3 2001.1 1134.6 2009.2 1141.6 2013.2 C1148.5 2017.2 1165.1 2022.7 1169.3 2028.1 C1173.5 2033.6 1170.8 2045.2 1171.4 2051.6 C1172.0 2057.9 1176.0 2069.0 1173.6 2072.9 C1171.2 2076.8 1159.5 2077.9 1154.4 2079.3 C1149.2 2080.7 1143.4 2083.3 1137.3 2082.7 C1131.3 2082.1 1118.4 2075.7 1111.7 2075.0 C1105.1 2074.4 1096.2 2078.3 1090.4 2078.0 C1084.7 2077.7 1074.5 2077.2 1071.2 2072.9 C1067.9 2068.6 1067.9 2053.7 1067.0 2047.3 C1066.1 2041.0 1062.7 2033.3 1064.8 2028.1Z" fill="#FFA882" stroke="#FFA882" stroke-width="0.7" stroke-linejoin="round"/>
<path d="M1085.3 2028.1 C1086.5 2025.4 1094.6 2021.2 1098.9 2019.6 C1103.3 2018.0 1112.4 2016.6 1116.0 2016.6 C1119.6 2016.6 1122.1 2018.0 1124.5 2019.6 C1126.9 2021.2 1132.2 2024.8 1133.1 2028.1 C1134.0 2031.4 1131.8 2039.1 1130.9 2043.0 C1130.0 2047.0 1129.4 2054.3 1126.7 2055.8 C1123.9 2057.4 1115.7 2054.9 1111.7 2053.7 C1107.8 2052.5 1102.0 2049.4 1098.9 2047.3 C1095.9 2045.2 1092.3 2041.5 1090.4 2038.8 C1088.5 2036.1 1084.1 2030.8 1085.3 2028.1Z" fill="#FF7845" stroke="#FF7845" stroke-width="0.7" stroke-linejoin="round"/>
<path d="M898.5 2072.0 C901.8 2070.2 913.2 2065.4 919.8 2064.3 C926.5 2063.3 938.2 2063.7 945.4 2064.3 C952.7 2065.0 965.3 2067.5 971.0 2068.6 C976.8 2069.7 985.9 2072.0 985.9 2072.0 C985.9 2072.0 982.9 2077.1 979.5 2079.7 C976.2 2082.3 965.8 2087.8 962.5 2090.4 C959.2 2093.0 957.9 2097.0 956.1 2098.0 C954.3 2099.1 951.5 2097.0 949.7 2098.0 C947.9 2099.1 945.7 2103.5 943.3 2105.3 C940.9 2107.0 936.6 2109.3 932.6 2110.4 C928.7 2111.5 920.4 2113.0 915.6 2113.0 C910.7 2113.0 903.5 2111.6 898.5 2110.4 C893.6 2109.2 880.6 2104.4 880.6 2104.4 C880.6 2104.4 887.8 2096.3 890.0 2092.5 C892.2 2088.7 895.2 2080.5 896.4 2077.6 C897.4 2075.1 896.2 2073.3 898.5 2072.0Z" fill="#FFA882" stroke="#FFA882" stroke-width="0.7" stroke-linejoin="round"/>
<path d="M1098.9 2105.3 C1102.3 2102.6 1111.8 2099.2 1116.0 2098.9 C1120.2 2098.6 1125.8 2100.1 1128.8 2103.2 C1131.8 2106.2 1133.6 2116.0 1137.3 2120.2 C1141.1 2124.4 1155.2 2133.0 1155.2 2133.0 C1155.2 2133.0 1145.9 2140.0 1141.6 2143.7 C1137.2 2147.3 1129.4 2154.2 1124.5 2158.6 C1119.7 2162.9 1110.8 2172.9 1107.5 2174.4 C1104.2 2175.9 1102.9 2172.4 1101.1 2169.3 C1099.3 2166.1 1096.6 2157.3 1094.7 2152.2 C1092.7 2147.1 1087.7 2137.8 1087.4 2133.0 C1087.1 2128.2 1090.9 2122.0 1092.5 2118.1 C1094.2 2114.2 1095.6 2108.0 1098.9 2105.3Z" fill="#D7EBFF" stroke="#D7EBFF" stroke-width="0.7" stroke-linejoin="round"/>
<path d="M1113.9 2131.7 L1118.1 2127.5 L1122.4 2133.0 L1116.9 2135.1Z" fill="#B4CDFF" stroke="#B4CDFF" stroke-width="0.7" stroke-linejoin="round"/>
<path d="M1169.3 2176.9 L1175.7 2172.7 L1183.0 2176.9 L1176.6 2184.2Z" fill="#FFCDB4" stroke="#FFCDB4" stroke-width="0.7" stroke-linejoin="round"/>
<path d="M740.7 2254.5 C740.7 2254.5 760.9 2248.7 766.3 2248.1 C771.8 2247.5 775.5 2250.6 779.1 2250.3 C782.7 2250.0 787.7 2248.1 791.9 2246.0 C796.1 2243.9 803.5 2239.0 809.0 2235.4 C814.4 2231.7 824.2 2224.7 830.3 2220.4 C836.3 2216.2 845.6 2208.8 851.6 2205.5 C857.7 2202.2 866.9 2199.7 872.9 2197.0 C879.0 2194.3 888.2 2189.6 894.3 2186.3 C900.3 2183.0 910.1 2176.2 915.6 2173.5 C921.0 2170.8 926.6 2168.3 932.6 2167.1 C938.7 2165.9 951.6 2165.5 958.2 2165.0 C964.9 2164.5 975.3 2163.2 979.5 2163.7 C983.8 2164.2 985.7 2168.5 988.1 2168.4 C990.5 2168.3 993.0 2164.5 996.6 2162.9 C1000.2 2161.2 1009.4 2158.1 1013.7 2156.5 C1017.9 2154.8 1022.8 2151.8 1026.4 2151.3 C1030.1 2150.9 1035.6 2151.1 1039.2 2153.0 C1042.9 2155.0 1048.7 2161.8 1052.0 2165.0 C1055.4 2168.2 1060.3 2172.5 1062.7 2175.7 C1065.1 2178.8 1066.4 2186.0 1069.1 2187.2 C1071.8 2188.4 1076.8 2185.6 1081.9 2184.2 C1087.0 2182.7 1100.8 2176.6 1105.3 2176.9 C1109.9 2177.2 1111.8 2183.2 1113.9 2186.3 C1116.0 2189.5 1116.9 2195.5 1120.3 2199.1 C1123.6 2202.7 1131.3 2208.3 1137.3 2211.9 C1143.4 2215.5 1155.7 2222.0 1162.9 2224.7 C1170.2 2227.4 1182.8 2229.6 1188.5 2231.1 C1194.2 2232.6 1200.7 2233.2 1203.4 2235.4 C1206.1 2237.5 1208.3 2242.4 1207.7 2246.0 C1207.1 2249.6 1201.9 2258.4 1199.2 2260.9 C1196.4 2263.5 1193.5 2264.2 1188.5 2263.9 C1183.4 2263.6 1170.2 2260.3 1162.9 2258.8 C1155.7 2257.4 1143.4 2255.5 1137.3 2253.7 C1131.3 2251.9 1124.5 2247.8 1120.3 2246.0 C1116.0 2244.2 1111.1 2241.4 1107.5 2240.9 C1103.8 2240.4 1098.3 2243.4 1094.7 2242.6 C1091.1 2241.8 1085.2 2238.5 1081.9 2235.4 C1078.6 2232.2 1073.9 2225.3 1071.2 2220.4 C1068.5 2215.6 1065.7 2205.0 1062.7 2201.2 C1059.7 2197.5 1053.2 2194.9 1049.9 2194.0 C1046.6 2193.1 1042.3 2194.2 1039.2 2194.8 C1036.2 2195.4 1031.9 2198.7 1028.6 2198.3 C1025.3 2197.8 1019.7 2191.6 1015.8 2191.4 C1011.9 2191.2 1004.8 2195.3 1000.9 2197.0 C996.9 2198.7 991.1 2200.7 988.1 2203.4 C985.0 2206.1 982.3 2214.7 979.5 2216.2 C976.8 2217.7 971.6 2213.4 968.9 2214.0 C966.2 2214.6 961.9 2218.3 960.4 2220.4 C958.8 2222.5 957.7 2225.0 958.2 2229.0 C958.8 2233.2 963.4 2244.2 964.6 2250.3 C965.8 2256.3 966.1 2266.2 966.7 2271.6 C967.4 2277.0 970.1 2285.0 968.9 2288.7 C967.7 2292.3 961.5 2296.3 958.2 2297.2 C954.9 2298.1 948.4 2296.0 945.4 2295.1 C942.4 2294.1 938.7 2293.2 936.9 2290.8 C935.1 2288.4 934.7 2280.1 932.6 2278.0 C930.5 2275.9 925.6 2275.0 922.0 2275.9 C918.3 2276.8 912.2 2282.3 907.0 2284.4 C901.9 2286.5 891.8 2288.7 885.7 2290.8 C879.7 2292.9 869.2 2297.2 864.4 2299.3 C859.6 2301.4 855.2 2304.2 851.6 2305.7 C848.0 2307.2 844.9 2309.4 838.8 2310.0 C829.8 2310.9 801.5 2311.5 787.6 2312.1 C773.7 2312.7 740.7 2314.2 740.7 2314.2 L740.7 2254.5Z" fill="#D7EBFF" stroke="#D7EBFF" stroke-width="0.7" stroke-linejoin="round"/>
<path d="M740.7 2290.8 C740.7 2290.8 765.1 2292.3 770.6 2292.9 C774.5 2293.4 779.1 2295.1 779.1 2295.1 C779.1 2295.1 767.5 2296.3 762.1 2296.3 C756.6 2296.3 740.7 2295.1 740.7 2295.1 L740.7 2290.8Z" fill="#FFEBDA" stroke="#FFEBDA" stroke-width="0.7" stroke-linejoin="round"/>
<path d="M794.0 2296.3 L809.0 2292.9 L815.4 2297.2 L800.4 2299.3Z" fill="#FFEBDA" stroke="#FFEBDA" stroke-width="0.7" stroke-linejoin="round"/>
<path d="M1047.8 2296.3 C1049.0 2293.4 1056.6 2283.8 1060.6 2280.1 C1064.5 2276.5 1072.5 2270.7 1075.5 2270.7 C1078.5 2270.7 1080.1 2277.0 1081.9 2280.1 C1083.7 2283.3 1087.7 2290.2 1088.3 2292.9 C1088.9 2295.6 1088.9 2298.1 1086.2 2299.3 C1083.4 2300.5 1073.9 2301.3 1069.1 2301.4 C1064.3 2301.6 1055.1 2301.3 1052.0 2300.6 C1049.4 2300.0 1046.7 2298.8 1047.8 2296.3Z" fill="#D7EBFF" stroke="#D7EBFF" stroke-width="0.7" stroke-linejoin="round"/>
<path d="M1154.4 2299.3 C1154.4 2299.3 1166.6 2289.5 1171.4 2286.5 C1176.3 2283.5 1184.6 2278.3 1188.5 2278.0 C1192.4 2277.7 1195.5 2283.0 1199.2 2284.4 C1202.8 2285.8 1209.3 2287.2 1214.1 2287.8 C1218.9 2288.4 1230.9 2287.3 1233.3 2288.7 C1235.7 2290.0 1234.8 2295.8 1231.1 2297.2 C1227.2 2298.7 1214.0 2298.7 1205.6 2299.3 C1197.1 2299.9 1178.7 2301.4 1171.4 2301.4 C1164.2 2301.4 1154.4 2299.3 1154.4 2299.3Z" fill="#D7EBFF" stroke="#D7EBFF" stroke-width="0.7" stroke-linejoin="round"/>
<path d="M1252.5 2237.5 C1253.7 2231.7 1258.0 2216.1 1261.0 2207.6 C1264.0 2199.2 1269.9 2183.8 1273.8 2177.8 C1277.7 2171.7 1284.8 2167.6 1288.7 2165.0 C1292.6 2162.4 1297.9 2159.6 1301.5 2159.4 C1305.1 2159.3 1310.4 2162.0 1314.3 2164.1 C1318.2 2166.3 1324.7 2171.5 1329.2 2174.4 C1333.8 2177.2 1342.1 2182.0 1346.3 2184.2 C1350.5 2186.4 1354.8 2189.1 1359.1 2189.7 C1363.3 2190.3 1371.9 2189.0 1376.1 2188.4 C1380.4 2187.8 1385.3 2186.5 1388.9 2185.5 C1392.5 2184.4 1397.8 2182.6 1401.7 2181.2 C1405.6 2179.8 1411.8 2176.3 1416.6 2175.7 C1421.5 2175.0 1429.5 2176.0 1435.8 2176.9 C1442.2 2177.8 1454.8 2181.0 1461.4 2182.0 C1468.1 2183.1 1477.3 2184.5 1482.7 2184.2 C1488.2 2183.9 1496.5 2182.3 1499.8 2179.9 C1503.1 2177.5 1506.2 2167.1 1506.2 2167.1 C1506.2 2167.1 1508.3 2171.7 1508.3 2175.7 C1508.6 2194.9 1509.4 2285.3 1508.3 2303.2 C1508.1 2306.5 1502.7 2301.4 1501.1 2301.4 C1499.4 2301.4 1497.4 2301.2 1496.8 2303.2 C1496.2 2305.3 1496.8 2316.4 1496.8 2316.4 L1393.2 2316.4 C1393.2 2316.4 1391.9 2304.8 1388.9 2301.4 C1385.9 2298.1 1378.5 2295.0 1371.9 2292.9 C1365.2 2290.8 1350.5 2288.0 1342.0 2286.5 C1333.6 2285.0 1319.4 2283.5 1312.2 2282.3 C1304.9 2281.1 1295.7 2279.8 1290.8 2278.0 C1286.0 2276.2 1282.0 2272.2 1278.0 2269.5 C1274.1 2266.7 1266.7 2261.8 1263.1 2258.8 C1259.5 2255.8 1254.0 2251.2 1252.5 2248.1 C1251.0 2245.1 1251.5 2242.2 1252.5 2237.5Z" fill="#D7EBFF" stroke="#D7EBFF" stroke-width="0.7" stroke-linejoin="round"/>
<path d="M1423.8 2293.2 C1424.4 2291.5 1429.8 2287.2 1432.6 2285.5 C1435.4 2283.7 1439.9 2282.1 1443.7 2281.0 C1447.4 2279.9 1455.1 2279.1 1459.2 2277.7 C1463.2 2276.3 1469.0 2272.3 1472.4 2271.0 C1475.9 2269.8 1481.0 2268.4 1483.5 2268.8 C1486.0 2269.3 1488.6 2271.9 1490.1 2274.4 C1491.7 2276.9 1494.1 2283.5 1494.6 2286.5 C1495.0 2289.5 1494.4 2294.0 1493.4 2295.4 C1492.5 2296.8 1489.9 2295.7 1487.9 2296.5 C1485.9 2297.3 1482.8 2299.7 1479.1 2300.9 C1475.3 2302.2 1466.7 2305.5 1461.4 2305.3 C1456.0 2305.2 1446.2 2300.9 1441.5 2299.8 C1436.8 2298.7 1430.7 2298.6 1428.2 2297.6 C1425.6 2296.7 1423.1 2294.9 1423.8 2293.2Z" fill="#FFEBDA" stroke="#FFEBDA" stroke-width="0.7" stroke-linejoin="round"/>
<path d="M990.2 2303.6 C990.2 2303.6 1003.0 2301.4 1009.4 2301.4 C1015.7 2301.4 1027.7 2303.1 1035.0 2303.6 C1042.2 2304.1 1060.6 2304.9 1060.6 2304.9 C1060.6 2304.9 1050.8 2306.3 1043.5 2306.6 C1036.3 2306.8 1016.9 2307.0 1009.4 2306.6 C1001.8 2306.1 990.2 2303.6 990.2 2303.6Z" fill="#FFCDB4" stroke="#FFCDB4" stroke-width="0.7" stroke-linejoin="round"/>
<path d="M1299.4 2292.9 L1312.2 2292.1 L1307.9 2295.1Z" fill="#FFCDB4" stroke="#FFCDB4" stroke-width="0.7" stroke-linejoin="round"/>
<path d="M1017.9 2311.3 C1033.6 2310.4 1093.8 2310.3 1128.8 2310.4 C1163.8 2310.5 1245.9 2310.8 1265.3 2311.7 C1267.4 2311.8 1265.3 2316.4 1265.3 2316.4 L1017.9 2316.4 C1017.9 2316.4 1015.6 2311.4 1017.9 2311.3Z" fill="#D7EBFF" stroke="#D7EBFF" stroke-width="0.7" stroke-linejoin="round"/>
<path d="M1141.6 2311.3 C1145.8 2310.2 1161.2 2309.5 1171.4 2309.1 C1181.7 2308.8 1203.2 2308.6 1214.1 2308.7 C1225.0 2308.8 1240.6 2309.6 1248.2 2310.0 C1255.7 2310.4 1264.7 2310.8 1267.4 2311.7 C1269.4 2312.4 1267.4 2316.4 1267.4 2316.4 L1141.6 2316.4 C1141.6 2316.4 1139.4 2311.8 1141.6 2311.3Z" fill="#D7EBFF" stroke="#D7EBFF" stroke-width="0.7" stroke-linejoin="round"/>
<path d="M1545.7 2249.2 L1534.4 2249.2 L1534.4 2261.0 L1530.1 2261.0 L1530.1 2271.0 L1525.7 2271.0 L1525.7 2297.8 L1521.4 2297.8 L1521.4 2306.3 L1517.4 2306.3 L1517.4 2315.0 L1548.7 2315.0Z" fill="#FFFFFF" stroke="#FFFFFF" stroke-width="0.7" stroke-linejoin="round"/>
</g>
<g stroke="#000" stroke-linecap="round" fill="none">
<rect x="748.9" y="1514.2" width="797.7" height="798.8" stroke-width="4.2" stroke-linejoin="miter"/>
<path d="M748.9 1514.2 v-21 M748.9 2313.0 v21 M881.9 1514.2 v-21 M881.9 2313.0 v21 M1014.8 1514.2 v-21 M1014.8 2313.0 v21 M1147.8 1514.2 v-21 M1147.8 2313.0 v21 M1280.7 1514.2 v-21 M1280.7 2313.0 v21 M1413.7 1514.2 v-21 M1413.7 2313.0 v21 M1546.6 1514.2 v-21 M1546.6 2313.0 v21 M748.9 1623.1 h-20.8 M748.9 1787.7 h-20.8 M748.9 1864.2 h-20.8 M748.9 1914.6 h-20.8 M748.9 1968.1 h-20.8 M748.9 2028.8 h-20.8 M748.9 2071.9 h-20.8 M748.9 2105.3 h-20.8 M748.9 2132.6 h-20.8 M748.9 2175.7 h-20.8 M748.9 2209.2 h-20.8 M748.9 2259.6 h-20.8 M748.9 2288.7 h-20.8 M748.9 2313.0 h-20.8 M1546.6 1540.3 h20.8 M1546.6 1695.5 h20.8 M1546.6 1856.1 h20.8 M1546.6 2020.5 h20.8 M1546.6 2179.5 h20.8" stroke-width="4.2"/>
<path d="M793.2 1514.2 v-10.4 M793.2 2313.0 v10.4 M837.5 1514.2 v-10.4 M837.5 2313.0 v10.4 M926.2 1514.2 v-10.4 M926.2 2313.0 v10.4 M970.5 1514.2 v-10.4 M970.5 2313.0 v10.4 M1059.1 1514.2 v-10.4 M1059.1 2313.0 v10.4 M1103.4 1514.2 v-10.4 M1103.4 2313.0 v10.4 M1192.1 1514.2 v-10.4 M1192.1 2313.0 v10.4 M1236.4 1514.2 v-10.4 M1236.4 2313.0 v10.4 M1325.0 1514.2 v-10.4 M1325.0 2313.0 v10.4 M1369.3 1514.2 v-10.4 M1369.3 2313.0 v10.4 M1458.0 1514.2 v-10.4 M1458.0 2313.0 v10.4 M1502.3 1514.2 v-10.4 M1502.3 2313.0 v10.4" stroke-width="2.6"/>
</g>
<g font-family="Liberation Sans, Arial, Helvetica, sans-serif" font-weight="bold" fill="#000" stroke="#000" stroke-width="0.8">
<text transform="translate(707.6 1633.6) scale(1 1.04)" font-size="29" text-anchor="end" >10</text>
<text transform="translate(707.6 1798.2) scale(1 1.04)" font-size="29" text-anchor="end" >30</text>
<text transform="translate(707.6 1874.7) scale(1 1.04)" font-size="29" text-anchor="end" >50</text>
<text transform="translate(707.6 1925.1) scale(1 1.04)" font-size="29" text-anchor="end" >70</text>
<text transform="translate(707.6 1978.6) scale(1 1.04)" font-size="29" text-anchor="end" >100</text>
<text transform="translate(707.6 2039.3) scale(1 1.04)" font-size="29" text-anchor="end" >150</text>
<text transform="translate(707.6 2082.4) scale(1 1.04)" font-size="29" text-anchor="end" >200</text>
<text transform="translate(707.6 2115.8) scale(1 1.04)" font-size="29" text-anchor="end" >250</text>
<text transform="translate(707.6 2143.1) scale(1 1.04)" font-size="29" text-anchor="end" >300</text>
<text transform="translate(707.6 2186.2) scale(1 1.04)" font-size="29" text-anchor="end" >400</text>
<text transform="translate(707.6 2219.7) scale(1 1.04)" font-size="29" text-anchor="end" >500</text>
<text transform="translate(707.6 2270.1) scale(1 1.04)" font-size="29" text-anchor="end" >700</text>
<text transform="translate(707.6 2299.2) scale(1 1.04)" font-size="29" text-anchor="end" >850</text>
<text transform="translate(707.6 2323.5) scale(1 1.04)" font-size="29" text-anchor="end" >1000</text>
<text transform="translate(1588.2 1551.1) scale(1 1.04)" font-size="29" text-anchor="start" >35</text>
<text transform="translate(1588.2 1706.3) scale(1 1.04)" font-size="29" text-anchor="start" >28</text>
<text transform="translate(1588.2 1866.9) scale(1 1.04)" font-size="29" text-anchor="start" >21</text>
<text transform="translate(1588.2 2031.3) scale(1 1.04)" font-size="29" text-anchor="start" >14</text>
<text transform="translate(1588.2 2190.3) scale(1 1.04)" font-size="29" text-anchor="start" >7</text>
<text transform="translate(749.2 2377.2) scale(1 1.04)" font-size="29" text-anchor="middle" >90N</text>
<text transform="translate(882.1 2377.2) scale(1 1.04)" font-size="29" text-anchor="middle" >60N</text>
<text transform="translate(1015.1 2377.2) scale(1 1.04)" font-size="29" text-anchor="middle" >30N</text>
<text transform="translate(1148.0 2377.2) scale(1 1.04)" font-size="29" text-anchor="middle" >0</text>
<text transform="translate(1281.0 2377.2) scale(1 1.04)" font-size="29" text-anchor="middle" >30S</text>
<text transform="translate(1414.0 2377.2) scale(1 1.04)" font-size="29" text-anchor="middle" >60S</text>
<text transform="translate(1546.9 2377.2) scale(1 1.04)" font-size="29" text-anchor="middle" >90S</text>
<text transform="translate(747.9 1479.6) scale(1 1.04)" font-size="41.9" text-anchor="start" >SW heating rate</text>
<text transform="translate(1547.2 1479.6) scale(1 1.04)" font-size="41.9" text-anchor="end" >K/day</text>
<text transform="translate(606.9 1914.4) rotate(-90) scale(1 1.04)" font-size="45.4" text-anchor="middle">Pressure (mb)</text>
<text transform="translate(1676.9 1914.4) rotate(-90) scale(1 1.04)" font-size="45.4" text-anchor="middle">Height (km)</text>
</g>
<g stroke="#000" stroke-width="2">
<rect x="192.80" y="1192.3" width="48.36" height="71.3" fill="#00008B"/>
<rect x="241.16" y="1192.3" width="48.36" height="71.3" fill="#001EB9"/>
<rect x="289.52" y="1192.3" width="48.36" height="71.3" fill="#0032E1"/>
<rect x="337.88" y="1192.3" width="48.36" height="71.3" fill="#1E50FF"/>
<rect x="386.24" y="1192.3" width="48.36" height="71.3" fill="#4578FF"/>
<rect x="434.60" y="1192.3" width="48.36" height="71.3" fill="#86AAFF"/>
<rect x="482.96" y="1192.3" width="48.36" height="71.3" fill="#B4CDFF"/>
<rect x="531.32" y="1192.3" width="48.36" height="71.3" fill="#D7EBFF"/>
<rect x="579.68" y="1192.3" width="48.36" height="71.3" fill="#FFEBDA"/>
<rect x="628.04" y="1192.3" width="48.36" height="71.3" fill="#FFCDB4"/>
<rect x="676.40" y="1192.3" width="48.36" height="71.3" fill="#FFA882"/>
<rect x="724.76" y="1192.3" width="48.36" height="71.3" fill="#FF7845"/>
<rect x="773.12" y="1192.3" width="48.36" height="71.3" fill="#FF501E"/>
<rect x="821.48" y="1192.3" width="48.36" height="71.3" fill="#E43200"/>
<rect x="869.84" y="1192.3" width="48.36" height="71.3" fill="#B92800"/>
<rect x="918.20" y="1192.3" width="48.36" height="71.3" fill="#8B0000"/>
</g>
<g font-family="Liberation Sans, Arial, Helvetica, sans-serif" font-weight="bold" fill="#000" stroke="#000" stroke-width="0.8">
<text transform="translate(241.5 1309.6) scale(1 1.04)" font-size="33.3" text-anchor="middle" >0.1</text>
<text transform="translate(338.2 1309.6) scale(1 1.04)" font-size="33.3" text-anchor="middle" >0.3</text>
<text transform="translate(434.9 1309.6) scale(1 1.04)" font-size="33.3" text-anchor="middle" >0.5</text>
<text transform="translate(531.6 1309.6) scale(1 1.04)" font-size="33.3" text-anchor="middle" >0.7</text>
<text transform="translate(628.3 1309.6) scale(1 1.04)" font-size="33.3" text-anchor="middle" >0.9</text>
<text transform="translate(725.1 1309.6) scale(1 1.04)" font-size="33.3" text-anchor="middle" >1.1</text>
<text transform="translate(821.8 1309.6) scale(1 1.04)" font-size="33.3" text-anchor="middle" >1.3</text>
<text transform="translate(918.5 1309.6) scale(1 1.04)" font-size="33.3" text-anchor="middle" >1.5</text>
</g>
<g stroke="#000" stroke-width="2">
<rect x="1328.25" y="1192.3" width="48.36" height="71.3" fill="#00008B"/>
<rect x="1376.61" y="1192.3" width="48.36" height="71.3" fill="#001EB9"/>
<rect x="1424.97" y="1192.3" width="48.36" height="71.3" fill="#0032E1"/>
<rect x="1473.33" y="1192.3" width="48.36" height="71.3" fill="#1E50FF"/>
<rect x="1521.69" y="1192.3" width="48.36" height="71.3" fill="#4578FF"/>
<rect x="1570.05" y="1192.3" width="48.36" height="71.3" fill="#86AAFF"/>
<rect x="1618.41" y="1192.3" width="48.36" height="71.3" fill="#B4CDFF"/>
<rect x="1666.77" y="1192.3" width="48.36" height="71.3" fill="#D7EBFF"/>
<rect x="1715.13" y="1192.3" width="48.36" height="71.3" fill="#FFEBDA"/>
<rect x="1763.49" y="1192.3" width="48.36" height="71.3" fill="#FFCDB4"/>
<rect x="1811.85" y="1192.3" width="48.36" height="71.3" fill="#FFA882"/>
<rect x="1860.21" y="1192.3" width="48.36" height="71.3" fill="#FF7845"/>
<rect x="1908.57" y="1192.3" width="48.36" height="71.3" fill="#FF501E"/>
<rect x="1956.93" y="1192.3" width="48.36" height="71.3" fill="#E43200"/>
<rect x="2005.29" y="1192.3" width="48.36" height="71.3" fill="#B92800"/>
<rect x="2053.65" y="1192.3" width="48.36" height="71.3" fill="#8B0000"/>
</g>
<g font-family="Liberation Sans, Arial, Helvetica, sans-serif" font-weight="bold" fill="#000" stroke="#000" stroke-width="0.8">
<text transform="translate(1376.9 1309.6) scale(1 1.04)" font-size="33.3" text-anchor="middle" >0.1</text>
<text transform="translate(1473.6 1309.6) scale(1 1.04)" font-size="33.3" text-anchor="middle" >0.3</text>
<text transform="translate(1570.3 1309.6) scale(1 1.04)" font-size="33.3" text-anchor="middle" >0.5</text>
<text transform="translate(1667.1 1309.6) scale(1 1.04)" font-size="33.3" text-anchor="middle" >0.7</text>
<text transform="translate(1763.8 1309.6) scale(1 1.04)" font-size="33.3" text-anchor="middle" >0.9</text>
<text transform="translate(1860.5 1309.6) scale(1 1.04)" font-size="33.3" text-anchor="middle" >1.1</text>
<text transform="translate(1957.2 1309.6) scale(1 1.04)" font-size="33.3" text-anchor="middle" >1.3</text>
<text transform="translate(2054.0 1309.6) scale(1 1.04)" font-size="33.3" text-anchor="middle" >1.5</text>
</g>
<g font-family="Liberation Sans, Arial, Helvetica, sans-serif" font-weight="bold" fill="#000" stroke="#000" stroke-width="0.8">
<text transform="translate(1130.2 53.5) scale(1 1.04)" font-size="66.4" text-anchor="middle" >JJA</text>
<text transform="translate(580.4 144.0) scale(1 1.04)" font-size="45.6" text-anchor="middle" >f09.B-PI.cam5.cmip6.ca50 (yrs 171-200)</text>
<text transform="translate(1715.8 144.0) scale(1 1.04)" font-size="45.6" text-anchor="middle" >f09.B-PI.tn15.cmip6.j01.re (yrs 671-700)</text>
<text transform="translate(1147.2 1409.2) scale(1 1.04)" font-size="45.6" text-anchor="middle" >f09.B-PI.cam5.cmip6.ca50 - f09.B-PI.tn15.cmip6.j01.re</text>
</g>
<g font-family="Liberation Sans, Arial, Helvetica, sans-serif" font-weight="bold" fill="#000" stroke="#000" stroke-width="0.8">
<text transform="translate(362.6 1153.3) scale(1 1.04)" font-size="35.9" text-anchor="start" >MIN =</text>
<text transform="translate(490.9 1153.3) scale(1 1.04)" font-size="35.9" text-anchor="start" >0.00</text>
<text transform="translate(581.2 1153.3) scale(1 1.04)" font-size="35.9" text-anchor="start" >MAX =</text>
<text transform="translate(724.7 1153.3) scale(1 1.04)" font-size="35.9" text-anchor="start" >4.68</text>
</g>
<g font-family="Liberation Sans, Arial, Helvetica, sans-serif" font-weight="bold" fill="#000" stroke="#000" stroke-width="0.8">
<text transform="translate(1498.0 1153.3) scale(1 1.04)" font-size="35.9" text-anchor="start" >MIN =</text>
<text transform="translate(1626.3 1153.3) scale(1 1.04)" font-size="35.9" text-anchor="start" >0.00</text>
<text transform="translate(1716.6 1153.3) scale(1 1.04)" font-size="35.9" text-anchor="start" >MAX =</text>
<text transform="translate(1860.1 1153.3) scale(1 1.04)" font-size="35.9" text-anchor="start" >4.70</text>
</g>
<g font-family="Liberation Sans, Arial, Helvetica, sans-serif" font-weight="bold" fill="#000" stroke="#000" stroke-width="0.8">
<text transform="translate(1648.0 1594.1) scale(1 1.04)" font-size="35.9" text-anchor="start" >MIN =</text>
<text transform="translate(1765.9 1594.1) scale(1 1.04)" font-size="35.9" text-anchor="start" >-0.07</text>
<text transform="translate(1869.3 1594.1) scale(1 1.04)" font-size="35.9" text-anchor="start" >MAX =</text>
<text transform="translate(2012.5 1594.1) scale(1 1.04)" font-size="35.9" text-anchor="start" >0.19</text>
</g>
<g stroke="#000" stroke-width="2">
<rect x="1784.4" y="2265.50" width="77.6" height="40.14" fill="#00008B"/>
<rect x="1784.4" y="2225.36" width="77.6" height="40.14" fill="#001EB9"/>
<rect x="1784.4" y="2185.22" width="77.6" height="40.14" fill="#0032E1"/>
<rect x="1784.4" y="2145.08" width="77.6" height="40.14" fill="#1E50FF"/>
<rect x="1784.4" y="2104.94" width="77.6" height="40.14" fill="#4578FF"/>
<rect x="1784.4" y="2064.80" width="77.6" height="40.14" fill="#86AAFF"/>
<rect x="1784.4" y="2024.66" width="77.6" height="40.14" fill="#B4CDFF"/>
<rect x="1784.4" y="1984.52" width="77.6" height="40.14" fill="#D7EBFF"/>
<rect x="1784.4" y="1944.38" width="77.6" height="40.14" fill="#FFEBDA"/>
<rect x="1784.4" y="1904.24" width="77.6" height="40.14" fill="#FFCDB4"/>
<rect x="1784.4" y="1864.10" width="77.6" height="40.14" fill="#FFA882"/>
<rect x="1784.4" y="1823.96" width="77.6" height="40.14" fill="#FF7845"/>
<rect x="1784.4" y="1783.82" width="77.6" height="40.14" fill="#FF501E"/>
<rect x="1784.4" y="1743.68" width="77.6" height="40.14" fill="#E43200"/>
<rect x="1784.4" y="1703.54" width="77.6" height="40.14" fill="#B92800"/>
<rect x="1784.4" y="1663.40" width="77.6" height="40.14" fill="#8B0000"/>
</g>
<g font-family="Liberation Sans, Arial, Helvetica, sans-serif" font-weight="bold" fill="#000" stroke="#000" stroke-width="0.8">
<text transform="translate(1912.6 2276.8) scale(1 1.04)" font-size="32.8" text-anchor="middle" >-0.4</text>
<text transform="translate(1912.6 2236.7) scale(1 1.04)" font-size="32.8" text-anchor="middle" >-0.3</text>
<text transform="translate(1912.6 2196.5) scale(1 1.04)" font-size="32.8" text-anchor="middle" >-0.25</text>
<text transform="translate(1912.6 2156.4) scale(1 1.04)" font-size="32.8" text-anchor="middle" >-0.2</text>
<text transform="translate(1912.6 2116.2) scale(1 1.04)" font-size="32.8" text-anchor="middle" >-0.15</text>
<text transform="translate(1912.6 2076.1) scale(1 1.04)" font-size="32.8" text-anchor="middle" >-0.1</text>
<text transform="translate(1912.6 2036.0) scale(1 1.04)" font-size="32.8" text-anchor="middle" >-0.05</text>
<text transform="translate(1912.6 1995.8) scale(1 1.04)" font-size="32.8" text-anchor="middle" >0</text>
<text transform="translate(1912.6 1955.7) scale(1 1.04)" font-size="32.8" text-anchor="middle" >0.05</text>
<text transform="translate(1912.6 1915.5) scale(1 1.04)" font-size="32.8" text-anchor="middle" >0.1</text>
<text transform="translate(1912.6 1875.4) scale(1 1.04)" font-size="32.8" text-anchor="middle" >0.15</text>
<text transform="translate(1912.6 1835.3) scale(1 1.04)" font-size="32.8" text-anchor="middle" >0.2</text>
<text transform="translate(1912.6 1795.1) scale(1 1.04)" font-size="32.8" text-anchor="middle" >0.25</text>
<text transform="translate(1912.6 1755.0) scale(1 1.04)" font-size="32.8" text-anchor="middle" >0.3</text>
<text transform="translate(1912.6 1714.8) scale(1 1.04)" font-size="32.8" text-anchor="middle" >0.4</text>
</g>
</svg></body></html>
